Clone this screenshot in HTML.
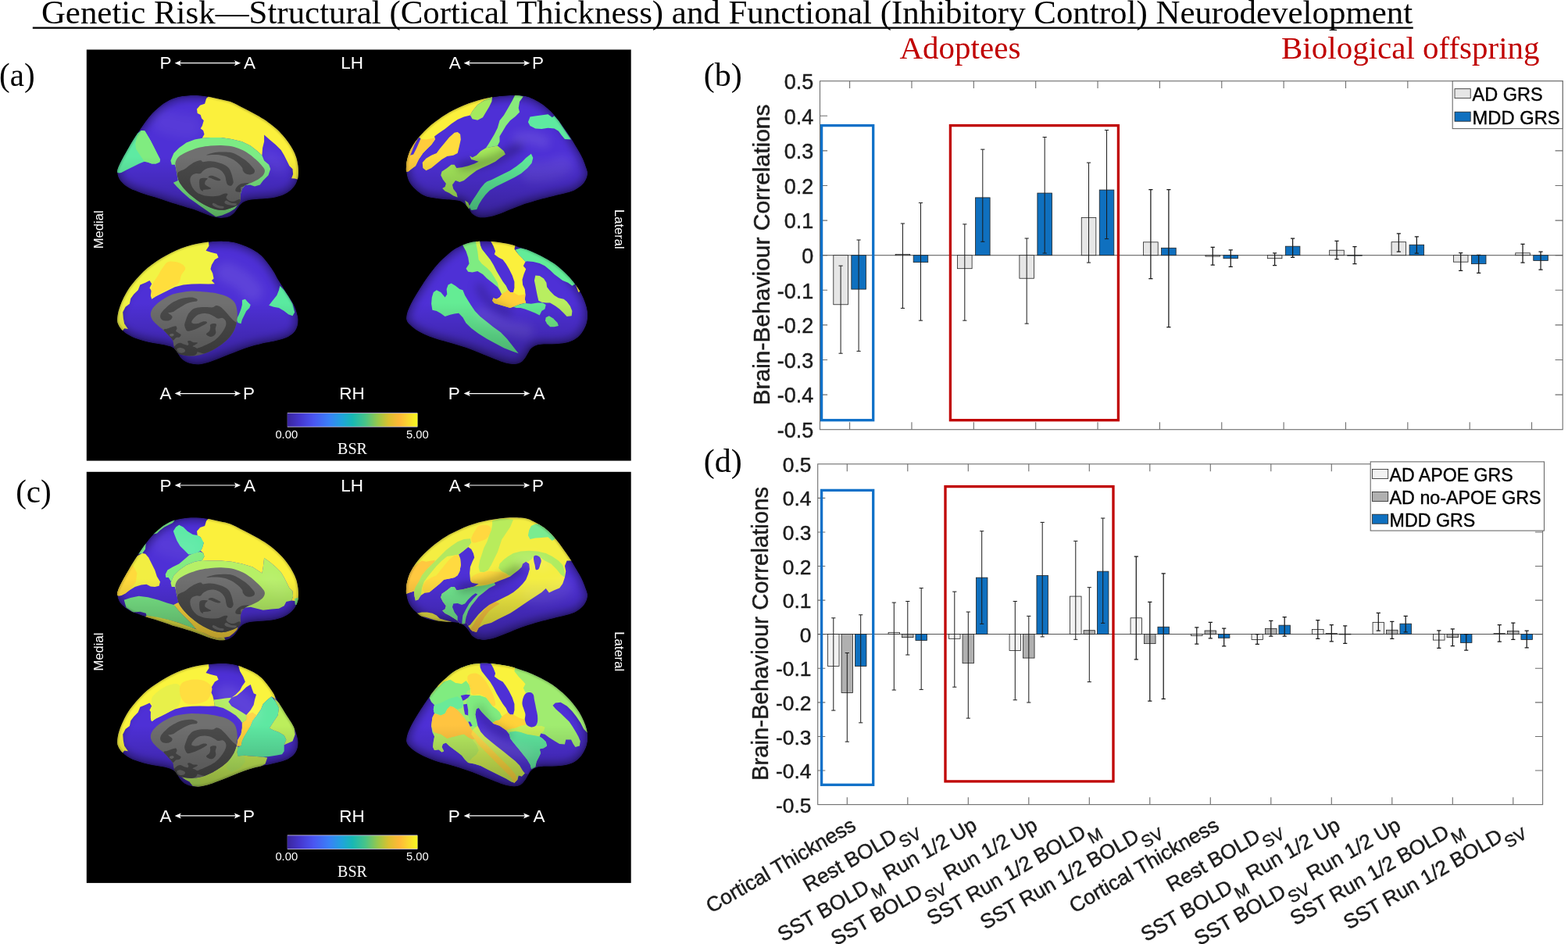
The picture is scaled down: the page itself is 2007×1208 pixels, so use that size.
<!DOCTYPE html>
<html lang="en"><head><meta charset="utf-8"><title>Genetic Risk - Structural and Functional Neurodevelopment</title>
<style>html,body{margin:0;padding:0;background:#fff;overflow:hidden}svg{display:block}text{white-space:pre}</style></head><body>
<svg width="2007" height="1208" viewBox="0 0 2007 1208">
<rect width="2007" height="1208" fill="#fff"/>
<g font-family="'Liberation Serif', 'Times New Roman', serif" fill="#000">
<text x="52.9" y="29.9" font-size="43" textLength="1755.3" lengthAdjust="spacingAndGlyphs">Genetic Risk—Structural (Cortical Thickness) and Functional (Inhibitory Control) Neurodevelopment</text>
<rect x="41.8" y="34.5" width="1767" height="2.3"/>
<text x="-0.9" y="109.9" font-size="43" textLength="45.6" lengthAdjust="spacingAndGlyphs">(a)</text>
<text x="20.2" y="642.9" font-size="43" textLength="45.6" lengthAdjust="spacingAndGlyphs">(c)</text>
<text x="900.7" y="110.1" font-size="43" textLength="49" lengthAdjust="spacingAndGlyphs">(b)</text>
<text x="900.7" y="603.9" font-size="43" textLength="49" lengthAdjust="spacingAndGlyphs">(d)</text>
<text x="1151.5" y="75.3" font-size="41" fill="#C00000">Adoptees</text>
<text x="1640" y="75.3" font-size="41" fill="#C00000">Biological offspring</text>
</g>
<defs>
<linearGradient id="par" x1="0" x2="1" y1="0" y2="0"><stop offset="0" stop-color="#3A269E"/><stop offset="0.1" stop-color="#4538D0"/><stop offset="0.2" stop-color="#4A55F2"/><stop offset="0.32" stop-color="#3A80F8"/><stop offset="0.42" stop-color="#20A4DC"/><stop offset="0.5" stop-color="#18B8B4"/><stop offset="0.6" stop-color="#48C488"/><stop offset="0.7" stop-color="#9CC848"/><stop offset="0.78" stop-color="#DCC030"/><stop offset="0.86" stop-color="#FFB838"/><stop offset="0.93" stop-color="#FAD830"/><stop offset="1" stop-color="#F8F820"/></linearGradient>
<linearGradient id="shd" x1="0" x2="0" y1="0" y2="1"><stop offset="0" stop-color="#000" stop-opacity="0"/><stop offset="0.5" stop-color="#000" stop-opacity="0"/><stop offset="1" stop-color="#000" stop-opacity="0.3"/></linearGradient>
<filter id="blr" x="-20%" y="-20%" width="140%" height="140%"><feGaussianBlur stdDeviation="3"/></filter>
<filter id="blr2" x="-100%" y="-100%" width="300%" height="300%"><feGaussianBlur stdDeviation="6"/></filter>
</defs>
<g transform="translate(0 0)">
<rect x="110.8" y="63.5" width="696.9" height="526.1" fill="#000"/>
<g font-family="'Liberation Sans', Arial, Helvetica, sans-serif" font-size="22.5" fill="#fff">
<text x="204.6" y="88.3">P</text>
<text x="312" y="88.3">A</text>
<text x="450.6" y="88.3" text-anchor="middle">LH</text>
<text x="574.8" y="88.3">A</text>
<text x="681" y="88.3">P</text>
<text x="204.6" y="511.4">A</text>
<text x="311" y="511.4">P</text>
<text x="450.4" y="511.4" text-anchor="middle">RH</text>
<text x="573.8" y="511.4">P</text>
<text x="682.4" y="511.4">A</text>
</g>
<path d="M227.6 80.7H304.1" stroke="#fff" stroke-width="1.2" fill="none"/>
<path d="M223.6 80.7l8.2 -3.5l-1.8 3.5l1.8 3.5zM308.1 80.7l-8.2 -3.5l1.8 3.5l-1.8 3.5z" fill="#fff"/>
<path d="M597.6 80.7H674.3" stroke="#fff" stroke-width="1.2" fill="none"/>
<path d="M593.6 80.7l8.2 -3.5l-1.8 3.5l1.8 3.5zM678.3 80.7l-8.2 -3.5l1.8 3.5l-1.8 3.5z" fill="#fff"/>
<path d="M227.6 503.6H304.1" stroke="#fff" stroke-width="1.2" fill="none"/>
<path d="M223.6 503.6l8.2 -3.5l-1.8 3.5l1.8 3.5zM308.1 503.6l-8.2 -3.5l1.8 3.5l-1.8 3.5z" fill="#fff"/>
<path d="M597.6 503.6H674.3" stroke="#fff" stroke-width="1.2" fill="none"/>
<path d="M593.6 503.6l8.2 -3.5l-1.8 3.5l1.8 3.5zM678.3 503.6l-8.2 -3.5l1.8 3.5l-1.8 3.5z" fill="#fff"/>
<text transform="translate(131.7 293.8) rotate(-90)" font-family="'Liberation Sans', Arial, Helvetica, sans-serif" font-size="16.6" fill="#fff" text-anchor="middle">Medial</text>
<text transform="translate(786.6 293.4) rotate(90)" font-family="'Liberation Sans', Arial, Helvetica, sans-serif" font-size="16.6" fill="#fff" text-anchor="middle">Lateral</text>
<rect x="367.8" y="528.2" width="166.6" height="18.4" fill="#cfc8f0"/>
<rect x="367.8" y="529" width="166.6" height="16.8" fill="url(#par)"/>
<g font-family="'Liberation Sans', Arial, Helvetica, sans-serif" font-size="14.8" fill="#fff" text-anchor="middle">
<text x="366.8" y="561.2">0.00</text><text x="534.4" y="561.2">5.00</text></g>
<text x="451" y="581.4" font-family="'Liberation Serif', 'Times New Roman', serif" font-size="20" fill="#fff" text-anchor="middle">BSR</text>
</g>
<g transform="translate(0 540.3)">
<rect x="110.8" y="63.5" width="696.9" height="526.1" fill="#000"/>
<g font-family="'Liberation Sans', Arial, Helvetica, sans-serif" font-size="22.5" fill="#fff">
<text x="204.6" y="88.3">P</text>
<text x="312" y="88.3">A</text>
<text x="450.6" y="88.3" text-anchor="middle">LH</text>
<text x="574.8" y="88.3">A</text>
<text x="681" y="88.3">P</text>
<text x="204.6" y="511.4">A</text>
<text x="311" y="511.4">P</text>
<text x="450.4" y="511.4" text-anchor="middle">RH</text>
<text x="573.8" y="511.4">P</text>
<text x="682.4" y="511.4">A</text>
</g>
<path d="M227.6 80.7H304.1" stroke="#fff" stroke-width="1.2" fill="none"/>
<path d="M223.6 80.7l8.2 -3.5l-1.8 3.5l1.8 3.5zM308.1 80.7l-8.2 -3.5l1.8 3.5l-1.8 3.5z" fill="#fff"/>
<path d="M597.6 80.7H674.3" stroke="#fff" stroke-width="1.2" fill="none"/>
<path d="M593.6 80.7l8.2 -3.5l-1.8 3.5l1.8 3.5zM678.3 80.7l-8.2 -3.5l1.8 3.5l-1.8 3.5z" fill="#fff"/>
<path d="M227.6 503.6H304.1" stroke="#fff" stroke-width="1.2" fill="none"/>
<path d="M223.6 503.6l8.2 -3.5l-1.8 3.5l1.8 3.5zM308.1 503.6l-8.2 -3.5l1.8 3.5l-1.8 3.5z" fill="#fff"/>
<path d="M597.6 503.6H674.3" stroke="#fff" stroke-width="1.2" fill="none"/>
<path d="M593.6 503.6l8.2 -3.5l-1.8 3.5l1.8 3.5zM678.3 503.6l-8.2 -3.5l1.8 3.5l-1.8 3.5z" fill="#fff"/>
<text transform="translate(131.7 293.8) rotate(-90)" font-family="'Liberation Sans', Arial, Helvetica, sans-serif" font-size="16.6" fill="#fff" text-anchor="middle">Medial</text>
<text transform="translate(786.6 293.4) rotate(90)" font-family="'Liberation Sans', Arial, Helvetica, sans-serif" font-size="16.6" fill="#fff" text-anchor="middle">Lateral</text>
<rect x="367.8" y="528.2" width="166.6" height="18.4" fill="#cfc8f0"/>
<rect x="367.8" y="529" width="166.6" height="16.8" fill="url(#par)"/>
<g font-family="'Liberation Sans', Arial, Helvetica, sans-serif" font-size="14.8" fill="#fff" text-anchor="middle">
<text x="366.8" y="561.2">0.00</text><text x="534.4" y="561.2">5.00</text></g>
<text x="451" y="581.4" font-family="'Liberation Serif', 'Times New Roman', serif" font-size="20" fill="#fff" text-anchor="middle">BSR</text>
</g>
<clipPath id="c1"><path d="M150.1 220.9C149.8 218.6 150.4 217.4 151.1 215.1C151.9 212.9 152.9 210.6 154.5 207.5C156.1 204.3 158.2 200.5 160.6 196.3C162.9 192.1 165.9 186.9 168.6 182.3C171.4 177.7 174.2 173.1 177 168.9C179.8 164.6 182.7 160.5 185.4 156.7C188.2 153 190.9 149.4 193.7 146.3C196.5 143.1 199.3 140.5 202.3 137.9C205.3 135.4 208.3 132.9 211.7 130.9C215 128.9 218.9 127.1 222.4 125.8C226 124.5 229.6 123.7 233.2 123.1C236.8 122.5 240.2 122.2 244 122C247.8 121.9 252 122 256.1 122.3C260.1 122.6 263.9 123.2 268.2 123.9C272.4 124.7 277.2 125.8 281.6 126.9C286.1 127.9 290.4 128.5 294.8 130.1C299.2 131.7 303.8 134.5 308 136.6C312.2 138.7 315.9 140.5 319.8 142.6C323.8 144.7 327.8 146.7 331.8 149.1C335.8 151.5 340.3 154.4 343.8 156.9C347.3 159.4 349.8 161.5 352.8 164.1C355.8 166.8 359.1 170 361.8 173C364.5 176 366.8 178.9 368.9 182C371.1 185.1 373.2 188.4 374.9 191.6C376.6 194.8 378.1 198 379.2 201.4C380.3 204.8 381 208.9 381.5 212.2C381.9 215.4 382.1 218 382 220.9C381.9 223.8 381.7 226.6 380.9 229.4C380.2 232.1 379 235 377.4 237.5C375.8 239.9 373.6 242.2 371.2 244.2C368.8 246.1 366.1 247.8 363 249.2C360 250.5 356.4 251.6 352.9 252.4C349.5 253.2 345.8 253.5 342.2 253.9C338.6 254.3 335 254.4 331.4 254.7C327.8 255 323.8 255.2 320.7 255.8C317.5 256.3 314.7 257.1 312.6 258.2C310.4 259.2 309.1 260.5 307.7 261.9C306.3 263.4 305.5 264.8 304.1 266.7C302.7 268.5 301.3 271.2 299.4 273C297.5 274.8 295.2 276.5 292.5 277.6C289.9 278.6 286.5 279 283.5 279C280.5 279.1 277.5 278.4 274.5 277.7C271.5 277 268.6 275.9 265.6 274.9C262.6 273.8 259.6 272.5 256.6 271.4C253.6 270.2 250.6 269.1 247.6 268.1C244.6 267.1 241.7 266.3 238.7 265.4C235.7 264.5 232.7 263.7 229.7 262.8C226.7 261.9 223.7 261 220.7 260.1C217.7 259.1 214.8 258 211.8 257C208.8 255.9 205.8 254.8 202.8 253.9C199.8 252.9 196.8 252.1 193.8 251.2C190.8 250.3 187.9 249.5 184.9 248.5C181.9 247.5 178.9 246.4 175.9 245.3C172.9 244.1 169.9 243.3 166.9 241.6C163.9 240 160.4 237.5 158 235.4C155.6 233.4 153.9 231.5 152.6 229.1C151.3 226.7 150.3 223.2 150.1 220.9Z"/></clipPath>
<g clip-path="url(#c1)">
<path d="M150.1 220.9C149.8 218.6 150.4 217.4 151.1 215.1C151.9 212.9 152.9 210.6 154.5 207.5C156.1 204.3 158.2 200.5 160.6 196.3C162.9 192.1 165.9 186.9 168.6 182.3C171.4 177.7 174.2 173.1 177 168.9C179.8 164.6 182.7 160.5 185.4 156.7C188.2 153 190.9 149.4 193.7 146.3C196.5 143.1 199.3 140.5 202.3 137.9C205.3 135.4 208.3 132.9 211.7 130.9C215 128.9 218.9 127.1 222.4 125.8C226 124.5 229.6 123.7 233.2 123.1C236.8 122.5 240.2 122.2 244 122C247.8 121.9 252 122 256.1 122.3C260.1 122.6 263.9 123.2 268.2 123.9C272.4 124.7 277.2 125.8 281.6 126.9C286.1 127.9 290.4 128.5 294.8 130.1C299.2 131.7 303.8 134.5 308 136.6C312.2 138.7 315.9 140.5 319.8 142.6C323.8 144.7 327.8 146.7 331.8 149.1C335.8 151.5 340.3 154.4 343.8 156.9C347.3 159.4 349.8 161.5 352.8 164.1C355.8 166.8 359.1 170 361.8 173C364.5 176 366.8 178.9 368.9 182C371.1 185.1 373.2 188.4 374.9 191.6C376.6 194.8 378.1 198 379.2 201.4C380.3 204.8 381 208.9 381.5 212.2C381.9 215.4 382.1 218 382 220.9C381.9 223.8 381.7 226.6 380.9 229.4C380.2 232.1 379 235 377.4 237.5C375.8 239.9 373.6 242.2 371.2 244.2C368.8 246.1 366.1 247.8 363 249.2C360 250.5 356.4 251.6 352.9 252.4C349.5 253.2 345.8 253.5 342.2 253.9C338.6 254.3 335 254.4 331.4 254.7C327.8 255 323.8 255.2 320.7 255.8C317.5 256.3 314.7 257.1 312.6 258.2C310.4 259.2 309.1 260.5 307.7 261.9C306.3 263.4 305.5 264.8 304.1 266.7C302.7 268.5 301.3 271.2 299.4 273C297.5 274.8 295.2 276.5 292.5 277.6C289.9 278.6 286.5 279 283.5 279C280.5 279.1 277.5 278.4 274.5 277.7C271.5 277 268.6 275.9 265.6 274.9C262.6 273.8 259.6 272.5 256.6 271.4C253.6 270.2 250.6 269.1 247.6 268.1C244.6 267.1 241.7 266.3 238.7 265.4C235.7 264.5 232.7 263.7 229.7 262.8C226.7 261.9 223.7 261 220.7 260.1C217.7 259.1 214.8 258 211.8 257C208.8 255.9 205.8 254.8 202.8 253.9C199.8 252.9 196.8 252.1 193.8 251.2C190.8 250.3 187.9 249.5 184.9 248.5C181.9 247.5 178.9 246.4 175.9 245.3C172.9 244.1 169.9 243.3 166.9 241.6C163.9 240 160.4 237.5 158 235.4C155.6 233.4 153.9 231.5 152.6 229.1C151.3 226.7 150.3 223.2 150.1 220.9Z" fill="#4E30D6"/>
<path d="M150.1 220.9C149.8 218.6 150.4 217.4 151.1 215.1C151.9 212.9 152.9 210.6 154.5 207.5C156.1 204.3 158.2 200.5 160.6 196.3C162.9 192.1 165.9 186.9 168.6 182.3C171.4 177.7 174.2 173.1 177 168.9C179.8 164.6 182.7 160.5 185.4 156.7C188.2 153 190.9 149.4 193.7 146.3C196.5 143.1 199.3 140.5 202.3 137.9C205.3 135.4 208.3 132.9 211.7 130.9C215 128.9 218.9 127.1 222.4 125.8C226 124.5 229.6 123.7 233.2 123.1C236.8 122.5 240.2 122.2 244 122C247.8 121.9 252 122 256.1 122.3C260.1 122.6 263.9 123.2 268.2 123.9C272.4 124.7 277.2 125.8 281.6 126.9C286.1 127.9 290.4 128.5 294.8 130.1C299.2 131.7 303.8 134.5 308 136.6C312.2 138.7 315.9 140.5 319.8 142.6C323.8 144.7 327.8 146.7 331.8 149.1C335.8 151.5 340.3 154.4 343.8 156.9C347.3 159.4 349.8 161.5 352.8 164.1C355.8 166.8 359.1 170 361.8 173C364.5 176 366.8 178.9 368.9 182C371.1 185.1 373.2 188.4 374.9 191.6C376.6 194.8 378.1 198 379.2 201.4C380.3 204.8 381 208.9 381.5 212.2C381.9 215.4 382.1 218 382 220.9C381.9 223.8 381.7 226.6 380.9 229.4C380.2 232.1 379 235 377.4 237.5C375.8 239.9 373.6 242.2 371.2 244.2C368.8 246.1 366.1 247.8 363 249.2C360 250.5 356.4 251.6 352.9 252.4C349.5 253.2 345.8 253.5 342.2 253.9C338.6 254.3 335 254.4 331.4 254.7C327.8 255 323.8 255.2 320.7 255.8C317.5 256.3 314.7 257.1 312.6 258.2C310.4 259.2 309.1 260.5 307.7 261.9C306.3 263.4 305.5 264.8 304.1 266.7C302.7 268.5 301.3 271.2 299.4 273C297.5 274.8 295.2 276.5 292.5 277.6C289.9 278.6 286.5 279 283.5 279C280.5 279.1 277.5 278.4 274.5 277.7C271.5 277 268.6 275.9 265.6 274.9C262.6 273.8 259.6 272.5 256.6 271.4C253.6 270.2 250.6 269.1 247.6 268.1C244.6 267.1 241.7 266.3 238.7 265.4C235.7 264.5 232.7 263.7 229.7 262.8C226.7 261.9 223.7 261 220.7 260.1C217.7 259.1 214.8 258 211.8 257C208.8 255.9 205.8 254.8 202.8 253.9C199.8 252.9 196.8 252.1 193.8 251.2C190.8 250.3 187.9 249.5 184.9 248.5C181.9 247.5 178.9 246.4 175.9 245.3C172.9 244.1 169.9 243.3 166.9 241.6C163.9 240 160.4 237.5 158 235.4C155.6 233.4 153.9 231.5 152.6 229.1C151.3 226.7 150.3 223.2 150.1 220.9Z" fill="none" stroke="#000" stroke-opacity="0.3" stroke-width="12" style="filter:blur(4px)"/>
<clipPath id="g1"><path d="M224.5 208.1C224.9 205.9 226.1 203.3 227.8 201.4C229.5 199.5 231.6 198.3 234.6 196.7C237.5 195.1 241.7 193.3 245.3 192C248.9 190.6 252 189.5 256.1 188.6C260.1 187.7 265 187.1 269.5 186.6C274 186.2 278.5 185.8 283 185.9C287.5 186 292.2 186.4 296.4 187.3C300.7 188.2 304.7 189.6 308.5 191.3C312.4 193 316.2 195.2 319.3 197.4C322.4 199.5 324.9 201.9 327.4 204.1C329.8 206.3 332.2 208.6 334.1 210.8C336 213.1 338.4 215.3 338.8 217.6C339.3 219.8 338.3 222.3 336.8 224.3C335.3 226.3 332.5 228.1 330.1 229.7C327.6 231.2 324.7 232.5 322 233.7C319.3 234.9 315.9 235.7 313.9 237.1C311.9 238.4 310.9 239.9 309.9 241.8C308.9 243.7 308.2 246 307.9 248.5C307.5 251 308.4 254.3 307.9 256.6C307.3 258.8 306.4 260.4 304.5 261.9C302.6 263.5 299.3 264.9 296.4 266C293.5 267.1 290.4 268.3 287 268.7C283.7 269 279.8 268.8 276.3 268C272.7 267.2 269.1 265.6 265.5 264C261.9 262.3 258.3 260.3 254.7 257.9C251.1 255.6 247.1 252.5 244 249.8C240.8 247.1 238.4 244.7 235.9 241.8C233.4 238.9 230.7 235.5 229.2 232.3C227.6 229.2 227.2 225.8 226.5 222.9C225.8 220 225.5 217.3 225.1 214.9C224.8 212.4 224 210.4 224.5 208.1Z"/></clipPath>
<path d="M269.5 120.7L264.1 126.1L262.1 132.8L256.1 134.8L252 139.5L252.7 144.9L256.7 146.9L258.1 151.6L260.8 154.3L258.8 161L256.7 164.4L260.1 167.1L261.5 171.8L258.8 176.8L269.5 176.1L283 176.1L296.4 177.9L309.9 181.2L320.7 186.6L328.7 192.7L335.4 198.7L336.1 189.3L338.1 181.2L338.1 172.5L344.9 178.5L352.9 185.3L359.7 192L363.7 198.7L367.7 206.8L370.4 212.2L374.5 216.2L375.1 222.9L373.1 228.3L377.2 228.6L383.9 230.3L386.6 212.2L377.2 185.3L350.2 158.4L309.9 131.5Z" fill="#FBF03C"/>
<path d="M218.4 205.4L222.4 196L229.2 189.3L238.6 182.6L249.3 178.5L258.8 176.8L269.5 176.1L283 176.1L296.4 177.9L309.9 181.2L320.7 186.6L328.7 192.7L335.4 198.7L338.1 205.4L344.2 210.8L346.2 216.2L343.5 224.3L336.8 231L332.8 236.4L326 238.4L320 236.4L313.9 237.1L309.9 241.8L307.9 248.5L307.9 256.6L304.5 261.9L303.2 264L300.5 267.3L293.7 271.4L284.3 275.4L276.3 277.4L269.5 272.7L261.5 267.3L252 260.6L242.6 253.9L233.2 245.8L226.5 239.1L221.8 233.7L227.8 231L226.5 222.9L225.1 214.9L223.8 210.8L219.8 210.8Z" fill="#7CEC84"/>
<path d="M224.5 208.1C224.9 205.9 226.1 203.3 227.8 201.4C229.5 199.5 231.6 198.3 234.6 196.7C237.5 195.1 241.7 193.3 245.3 192C248.9 190.6 252 189.5 256.1 188.6C260.1 187.7 265 187.1 269.5 186.6C274 186.2 278.5 185.8 283 185.9C287.5 186 292.2 186.4 296.4 187.3C300.7 188.2 304.7 189.6 308.5 191.3C312.4 193 316.2 195.2 319.3 197.4C322.4 199.5 324.9 201.9 327.4 204.1C329.8 206.3 332.2 208.6 334.1 210.8C336 213.1 338.4 215.3 338.8 217.6C339.3 219.8 338.3 222.3 336.8 224.3C335.3 226.3 332.5 228.1 330.1 229.7C327.6 231.2 324.7 232.5 322 233.7C319.3 234.9 315.9 235.7 313.9 237.1C311.9 238.4 310.9 239.9 309.9 241.8C308.9 243.7 308.2 246 307.9 248.5C307.5 251 308.4 254.3 307.9 256.6C307.3 258.8 306.4 260.4 304.5 261.9C302.6 263.5 299.3 264.9 296.4 266C293.5 267.1 290.4 268.3 287 268.7C283.7 269 279.8 268.8 276.3 268C272.7 267.2 269.1 265.6 265.5 264C261.9 262.3 258.3 260.3 254.7 257.9C251.1 255.6 247.1 252.5 244 249.8C240.8 247.1 238.4 244.7 235.9 241.8C233.4 238.9 230.7 235.5 229.2 232.3C227.6 229.2 227.2 225.8 226.5 222.9C225.8 220 225.5 217.3 225.1 214.9C224.8 212.4 224 210.4 224.5 208.1Z" fill="#707070"/>
<path d="M264.2 198.5C264.2 198 270.2 196.2 273.3 195.6C276.4 194.9 279.2 194.6 283 194.6C286.8 194.5 292.2 194.4 296 195.2C299.8 196 302.5 197.7 305.7 199.4C308.9 201.2 312.7 203.8 315.4 205.9C318.1 208.1 320.2 210.4 321.9 212.4C323.6 214.3 325.2 216.1 325.8 217.6C326.3 219.1 326.1 220.5 325.1 221.5C324.1 222.4 321.8 223.3 319.9 223.4C318.1 223.5 315.6 223 314.1 222.1C312.6 221.2 311.5 219.4 310.9 218.2C310.2 217 311.1 216.4 310.2 215C309.4 213.6 307.5 211.5 305.7 209.8C303.9 208.1 301.4 206 299.2 204.6C297.1 203.2 295.4 202.4 292.7 201.4C290 200.4 286.3 199.3 283 198.8C279.8 198.2 276.4 198.2 273.3 198.1C270.2 198.1 264.2 198.9 264.2 198.5Z" fill="#4B4B4B" clip-path="url(#g1)"/>
<path d="M227.3 221.5C228.6 218.9 233.6 218.1 236.4 216.3C239.2 214.4 241.7 212.1 244.2 210.4C246.6 208.8 249.1 207.4 251.3 206.6C253.4 205.7 255.7 205.2 257.1 205.3C258.5 205.4 258.1 207 259.7 207.2C261.3 207.4 264 206.2 266.8 206.2C269.6 206.2 273.3 206.5 276.5 207.2C279.8 207.9 283.6 209.2 286.3 210.4C289 211.7 291.1 213.1 292.7 215C294.4 216.8 295.1 219.2 296 221.5C296.8 223.7 297.5 226.5 297.9 228.6C298.3 230.6 298.9 232.3 298.6 233.8C298.2 235.3 297.2 237.2 296 237.7C294.8 238.1 292.5 237.3 291.4 236.4C290.4 235.4 290 233.7 289.5 231.8C289 230 289 227.3 288.2 225.4C287.4 223.4 286.4 221.7 285 220.2C283.6 218.6 281.7 217.2 279.8 216.3C277.8 215.3 275.5 214.6 273.3 214.3C271.1 214.1 269 214.3 266.8 215C264.7 215.6 262.1 217 260.4 218.2C258.6 219.4 258 221.5 256.5 222.1C255 222.8 253 221.8 251.3 222.1C249.5 222.4 247.4 223 246.1 224C244.8 225.1 243.8 226.7 243.5 228.6C243.2 230.4 243.5 232.9 244.2 235.1C244.8 237.2 246 239.6 247.4 241.5C248.8 243.5 250.4 245.3 252.6 246.7C254.7 248.1 257.4 249.2 260.4 250C263.3 250.7 266.8 251.1 270.1 251.3C273.3 251.4 277.1 251.1 279.8 250.6C282.5 250.1 284.6 248.6 286.3 248C287.9 247.5 288.6 247.3 289.5 247.4C290.4 247.5 291.4 247.8 291.4 248.7C291.4 249.5 289.3 251.3 289.5 252.6C289.7 253.9 291.1 255.6 292.7 256.4C294.4 257.3 296.8 258 299.2 257.7C301.6 257.5 305.5 254.1 307 255.1C308.5 256.2 309.6 261.4 308.3 264.2C307 267 304 270.9 299.2 272C294.5 273.1 285.2 271.7 279.8 270.7C274.4 269.7 271.7 268.3 266.8 266.2C262 264 254.4 260.5 250.6 258C246.8 255.5 246.3 253.5 244.2 251.3C242 249 239.7 246.9 237.7 244.8C235.6 242.6 233.4 240.5 231.8 238.3C230.3 236.1 229.4 234.6 228.6 231.8C227.8 229 226 224.1 227.3 221.5Z" fill="#4B4B4B" clip-path="url(#g1)"/>
<path d="M256.5 228.6C258.2 227.3 264.5 227.7 265.5 228.3C266.6 228.8 263.5 230.6 262.9 231.8C262.4 233.1 261.9 234.6 262.3 235.7C262.7 236.8 264.2 237.4 265.5 238.3C266.8 239.2 269.9 240.2 270.1 240.9C270.3 241.5 268.4 241.9 266.8 242.2C265.2 242.5 261.5 242.4 260.4 242.8C259.2 243.3 260.3 244.9 259.7 244.8C259 244.7 257.2 243.7 256.5 242.2C255.7 240.7 255.2 238 255.2 235.7C255.2 233.4 254.7 229.8 256.5 228.6Z" fill="#4B4B4B" clip-path="url(#g1)"/>
<path d="M267.5 225.4C268.2 224.9 269.8 224.5 271.4 224.7C272.9 224.9 274.7 225.8 276.5 226.6C278.4 227.5 281.8 229.1 282.4 229.9C282.9 230.6 281.1 231.2 279.8 231.2C278.5 231.2 276.2 230.4 274.6 229.9C273 229.3 271.4 228.4 270.1 227.9C268.8 227.5 267.3 227.7 266.8 227.3C266.4 226.9 266.7 225.8 267.5 225.4Z" fill="#4B4B4B" clip-path="url(#g1)"/>
<path d="M308.9 235.1C311.6 234.1 317.5 233.9 318.6 234.4C319.8 235 317.8 237.4 316 238.3C314.3 239.2 309.6 238.4 308.3 239.6C307 240.8 309.4 244.6 308.3 245.4C307.2 246.3 302.8 245.6 301.8 244.8C300.8 243.9 301.3 241.9 302.4 240.2C303.6 238.6 306.2 236 308.9 235.1Z" fill="#4B4B4B" clip-path="url(#g1)"/>
<path d="M289.5 256.4C290.9 256.4 293.8 259 296 259.7C298.1 260.3 301.6 259.8 302.4 260.3C303.3 260.9 302.8 262.6 301.2 262.9C299.5 263.2 295 262.8 292.7 262.3C290.5 261.7 288.1 260.6 287.6 259.7C287 258.7 288.1 256.4 289.5 256.4Z" fill="#707070" clip-path="url(#g1)"/>
<path d="M273.3 259.7C274.6 259.8 277.6 262.2 279.8 262.9C281.9 263.7 285.4 263.6 286.3 264.2C287.1 264.9 286.5 266.6 285 266.8C283.4 267 279.3 266.3 277.2 265.5C275 264.8 272.7 263.2 272 262.3C271.4 261.3 272 259.6 273.3 259.7Z" fill="#707070" clip-path="url(#g1)"/>
<path d="M180.7 167.1L185.4 167.5L188.8 173.2L192.8 179.9L196.9 188L200.9 196L205 204.1L204.3 207.5L199.6 209.5L194.2 209.5L188.8 207.5L184.8 206.8L178 209.5L170 213.5L161.9 217.6L155.2 220.9L152.5 221.6L147.8 220.2L149.1 214.2L153.8 206.1L160.6 194.7L168.6 180.6L175.4 171.1Z" fill="#5EEAA2"/>
<path d="M180.7 167.1L185.4 167.5L188.8 173.2L192.8 179.9L196.9 188L200.9 196L205 204.1L204.3 207.5L199.6 209.5L194.2 209.5L188.8 207.5L184.8 206.8L179.4 198.7L174 190.6L173.3 183.9L175.4 174.5Z" fill="#80EC80"/>
<path d="M210.3 155.7C213.5 156.6 223.8 159.9 229.2 161C234.6 162.2 240.4 162.2 242.6 162.4" fill="none" stroke="#fff" stroke-opacity="0.05" stroke-width="30" stroke-linecap="round" style="filter:blur(6px)"/>
<path d="M344.9 201.4C346.9 203.2 355 210.4 357 212.2" fill="none" stroke="#fff" stroke-opacity="0.06" stroke-width="20" stroke-linecap="round" style="filter:blur(6px)"/>
<rect x="148.1" y="120" width="235.9" height="161" fill="url(#shd)"/>
<path d="M150.1 220.9C149.8 218.6 150.4 217.4 151.1 215.1C151.9 212.9 152.9 210.6 154.5 207.5C156.1 204.3 158.2 200.5 160.6 196.3C162.9 192.1 165.9 186.9 168.6 182.3C171.4 177.7 174.2 173.1 177 168.9C179.8 164.6 182.7 160.5 185.4 156.7C188.2 153 190.9 149.4 193.7 146.3C196.5 143.1 199.3 140.5 202.3 137.9C205.3 135.4 208.3 132.9 211.7 130.9C215 128.9 218.9 127.1 222.4 125.8C226 124.5 229.6 123.7 233.2 123.1C236.8 122.5 240.2 122.2 244 122C247.8 121.9 252 122 256.1 122.3C260.1 122.6 263.9 123.2 268.2 123.9C272.4 124.7 277.2 125.8 281.6 126.9C286.1 127.9 290.4 128.5 294.8 130.1C299.2 131.7 303.8 134.5 308 136.6C312.2 138.7 315.9 140.5 319.8 142.6C323.8 144.7 327.8 146.7 331.8 149.1C335.8 151.5 340.3 154.4 343.8 156.9C347.3 159.4 349.8 161.5 352.8 164.1C355.8 166.8 359.1 170 361.8 173C364.5 176 366.8 178.9 368.9 182C371.1 185.1 373.2 188.4 374.9 191.6C376.6 194.8 378.1 198 379.2 201.4C380.3 204.8 381 208.9 381.5 212.2C381.9 215.4 382.1 218 382 220.9C381.9 223.8 381.7 226.6 380.9 229.4C380.2 232.1 379 235 377.4 237.5C375.8 239.9 373.6 242.2 371.2 244.2C368.8 246.1 366.1 247.8 363 249.2C360 250.5 356.4 251.6 352.9 252.4C349.5 253.2 345.8 253.5 342.2 253.9C338.6 254.3 335 254.4 331.4 254.7C327.8 255 323.8 255.2 320.7 255.8C317.5 256.3 314.7 257.1 312.6 258.2C310.4 259.2 309.1 260.5 307.7 261.9C306.3 263.4 305.5 264.8 304.1 266.7C302.7 268.5 301.3 271.2 299.4 273C297.5 274.8 295.2 276.5 292.5 277.6C289.9 278.6 286.5 279 283.5 279C280.5 279.1 277.5 278.4 274.5 277.7C271.5 277 268.6 275.9 265.6 274.9C262.6 273.8 259.6 272.5 256.6 271.4C253.6 270.2 250.6 269.1 247.6 268.1C244.6 267.1 241.7 266.3 238.7 265.4C235.7 264.5 232.7 263.7 229.7 262.8C226.7 261.9 223.7 261 220.7 260.1C217.7 259.1 214.8 258 211.8 257C208.8 255.9 205.8 254.8 202.8 253.9C199.8 252.9 196.8 252.1 193.8 251.2C190.8 250.3 187.9 249.5 184.9 248.5C181.9 247.5 178.9 246.4 175.9 245.3C172.9 244.1 169.9 243.3 166.9 241.6C163.9 240 160.4 237.5 158 235.4C155.6 233.4 153.9 231.5 152.6 229.1C151.3 226.7 150.3 223.2 150.1 220.9Z" fill="none" stroke="#000" stroke-opacity="0.22" stroke-width="3" style="filter:blur(1.2px)"/>
</g>
<clipPath id="c2"><path d="M520.1 219.8C519.7 216.9 519.9 214.6 520.1 212.2C520.2 209.8 520.2 208.2 520.9 205.4C521.5 202.6 522.6 198.5 523.8 195.4C525.1 192.2 526.5 189.5 528.3 186.5C530.1 183.5 532.2 180.5 534.6 177.5C537 174.5 539.8 171.3 542.7 168.4C545.5 165.6 548.4 162.9 551.7 160.1C555 157.3 558.6 154.6 562.4 151.9C566.3 149.2 570.8 146.2 575 143.8C579.1 141.5 583.3 139.6 587.5 137.6C591.7 135.7 595.9 133.8 600.1 132.3C604.3 130.7 608.3 129.4 612.6 128.2C617 127 621.6 126 626.1 125.1C630.6 124.3 635 123.6 639.5 123.1C644 122.6 648.5 122.2 653 122C657.5 121.9 662.7 122 666.4 122.3C670.2 122.6 673 123 675.4 123.7C677.9 124.3 679.1 125.1 681.2 126.1C683.3 127.1 685.4 128 688.1 129.6C690.7 131.1 694.3 133.3 697.1 135.5C700 137.7 702.6 140.1 705.2 142.6C707.7 145.2 710.1 148 712.3 150.7C714.6 153.4 716.5 156.2 718.6 159C720.7 161.9 722.9 164.9 725 167.9C727 170.9 729.2 173.9 731.1 176.9C733.1 179.9 734.7 182.9 736.5 185.9C738.3 188.9 740.2 191.9 741.9 195C743.6 198 745.1 201 746.5 204.1C747.8 207.2 749.1 210.8 750 213.4C750.9 216 751.7 217.8 752 219.8C752.2 221.9 752.1 223.7 751.5 225.9C750.8 228.1 749.8 230.7 748.2 232.9C746.7 235.1 744.6 237.2 742.3 239.1C740 240.9 737.3 242.6 734.5 243.9C731.7 245.2 728.6 245.9 725.6 246.7C722.6 247.6 719.6 248.3 716.6 249C713.6 249.8 710.6 250.4 707.6 251.2C704.6 251.9 701.7 252.7 698.7 253.5C695.7 254.2 692.7 254.9 689.7 255.8C686.7 256.6 683.7 257.6 680.7 258.4C677.7 259.3 674.8 260.1 671.8 261.1C668.8 262.1 665.8 263.3 662.8 264.5C659.8 265.7 656.8 266.9 653.8 268.1C650.8 269.3 647.9 270.6 644.9 271.8C641.9 272.9 638.9 274.2 635.9 275.1C632.9 276.1 629.9 277 626.9 277.6C623.9 278.1 620.7 278.7 618 278.6C615.3 278.6 613 278.2 610.7 277.4C608.5 276.6 606.1 275.2 604.6 273.8C603 272.4 602.3 270.5 601.2 268.9C600.1 267.3 599.1 265.7 597.8 264.2C596.6 262.8 595.2 261.3 593.8 260.2C592.3 259.1 591 258.2 589.1 257.5C587.2 256.8 585.2 256.5 582.4 256.2C579.6 255.8 575.6 255.8 572.3 255.5C568.9 255.2 565.5 255 562.2 254.5C558.8 254.1 555.3 253.8 552.1 253.1C548.8 252.3 545.6 251.6 542.7 250.2C539.8 248.9 537.2 246.9 534.6 244.9C532 242.8 529.2 240.2 527.2 237.7C525.2 235.2 523.7 232.9 522.5 229.9C521.3 226.9 520.5 222.8 520.1 219.8Z"/></clipPath>
<g clip-path="url(#c2)">
<path d="M520.1 219.8C519.7 216.9 519.9 214.6 520.1 212.2C520.2 209.8 520.2 208.2 520.9 205.4C521.5 202.6 522.6 198.5 523.8 195.4C525.1 192.2 526.5 189.5 528.3 186.5C530.1 183.5 532.2 180.5 534.6 177.5C537 174.5 539.8 171.3 542.7 168.4C545.5 165.6 548.4 162.9 551.7 160.1C555 157.3 558.6 154.6 562.4 151.9C566.3 149.2 570.8 146.2 575 143.8C579.1 141.5 583.3 139.6 587.5 137.6C591.7 135.7 595.9 133.8 600.1 132.3C604.3 130.7 608.3 129.4 612.6 128.2C617 127 621.6 126 626.1 125.1C630.6 124.3 635 123.6 639.5 123.1C644 122.6 648.5 122.2 653 122C657.5 121.9 662.7 122 666.4 122.3C670.2 122.6 673 123 675.4 123.7C677.9 124.3 679.1 125.1 681.2 126.1C683.3 127.1 685.4 128 688.1 129.6C690.7 131.1 694.3 133.3 697.1 135.5C700 137.7 702.6 140.1 705.2 142.6C707.7 145.2 710.1 148 712.3 150.7C714.6 153.4 716.5 156.2 718.6 159C720.7 161.9 722.9 164.9 725 167.9C727 170.9 729.2 173.9 731.1 176.9C733.1 179.9 734.7 182.9 736.5 185.9C738.3 188.9 740.2 191.9 741.9 195C743.6 198 745.1 201 746.5 204.1C747.8 207.2 749.1 210.8 750 213.4C750.9 216 751.7 217.8 752 219.8C752.2 221.9 752.1 223.7 751.5 225.9C750.8 228.1 749.8 230.7 748.2 232.9C746.7 235.1 744.6 237.2 742.3 239.1C740 240.9 737.3 242.6 734.5 243.9C731.7 245.2 728.6 245.9 725.6 246.7C722.6 247.6 719.6 248.3 716.6 249C713.6 249.8 710.6 250.4 707.6 251.2C704.6 251.9 701.7 252.7 698.7 253.5C695.7 254.2 692.7 254.9 689.7 255.8C686.7 256.6 683.7 257.6 680.7 258.4C677.7 259.3 674.8 260.1 671.8 261.1C668.8 262.1 665.8 263.3 662.8 264.5C659.8 265.7 656.8 266.9 653.8 268.1C650.8 269.3 647.9 270.6 644.9 271.8C641.9 272.9 638.9 274.2 635.9 275.1C632.9 276.1 629.9 277 626.9 277.6C623.9 278.1 620.7 278.7 618 278.6C615.3 278.6 613 278.2 610.7 277.4C608.5 276.6 606.1 275.2 604.6 273.8C603 272.4 602.3 270.5 601.2 268.9C600.1 267.3 599.1 265.7 597.8 264.2C596.6 262.8 595.2 261.3 593.8 260.2C592.3 259.1 591 258.2 589.1 257.5C587.2 256.8 585.2 256.5 582.4 256.2C579.6 255.8 575.6 255.8 572.3 255.5C568.9 255.2 565.5 255 562.2 254.5C558.8 254.1 555.3 253.8 552.1 253.1C548.8 252.3 545.6 251.6 542.7 250.2C539.8 248.9 537.2 246.9 534.6 244.9C532 242.8 529.2 240.2 527.2 237.7C525.2 235.2 523.7 232.9 522.5 229.9C521.3 226.9 520.5 222.8 520.1 219.8Z" fill="#4E30D6"/>
<path d="M520.1 219.8C519.7 216.9 519.9 214.6 520.1 212.2C520.2 209.8 520.2 208.2 520.9 205.4C521.5 202.6 522.6 198.5 523.8 195.4C525.1 192.2 526.5 189.5 528.3 186.5C530.1 183.5 532.2 180.5 534.6 177.5C537 174.5 539.8 171.3 542.7 168.4C545.5 165.6 548.4 162.9 551.7 160.1C555 157.3 558.6 154.6 562.4 151.9C566.3 149.2 570.8 146.2 575 143.8C579.1 141.5 583.3 139.6 587.5 137.6C591.7 135.7 595.9 133.8 600.1 132.3C604.3 130.7 608.3 129.4 612.6 128.2C617 127 621.6 126 626.1 125.1C630.6 124.3 635 123.6 639.5 123.1C644 122.6 648.5 122.2 653 122C657.5 121.9 662.7 122 666.4 122.3C670.2 122.6 673 123 675.4 123.7C677.9 124.3 679.1 125.1 681.2 126.1C683.3 127.1 685.4 128 688.1 129.6C690.7 131.1 694.3 133.3 697.1 135.5C700 137.7 702.6 140.1 705.2 142.6C707.7 145.2 710.1 148 712.3 150.7C714.6 153.4 716.5 156.2 718.6 159C720.7 161.9 722.9 164.9 725 167.9C727 170.9 729.2 173.9 731.1 176.9C733.1 179.9 734.7 182.9 736.5 185.9C738.3 188.9 740.2 191.9 741.9 195C743.6 198 745.1 201 746.5 204.1C747.8 207.2 749.1 210.8 750 213.4C750.9 216 751.7 217.8 752 219.8C752.2 221.9 752.1 223.7 751.5 225.9C750.8 228.1 749.8 230.7 748.2 232.9C746.7 235.1 744.6 237.2 742.3 239.1C740 240.9 737.3 242.6 734.5 243.9C731.7 245.2 728.6 245.9 725.6 246.7C722.6 247.6 719.6 248.3 716.6 249C713.6 249.8 710.6 250.4 707.6 251.2C704.6 251.9 701.7 252.7 698.7 253.5C695.7 254.2 692.7 254.9 689.7 255.8C686.7 256.6 683.7 257.6 680.7 258.4C677.7 259.3 674.8 260.1 671.8 261.1C668.8 262.1 665.8 263.3 662.8 264.5C659.8 265.7 656.8 266.9 653.8 268.1C650.8 269.3 647.9 270.6 644.9 271.8C641.9 272.9 638.9 274.2 635.9 275.1C632.9 276.1 629.9 277 626.9 277.6C623.9 278.1 620.7 278.7 618 278.6C615.3 278.6 613 278.2 610.7 277.4C608.5 276.6 606.1 275.2 604.6 273.8C603 272.4 602.3 270.5 601.2 268.9C600.1 267.3 599.1 265.7 597.8 264.2C596.6 262.8 595.2 261.3 593.8 260.2C592.3 259.1 591 258.2 589.1 257.5C587.2 256.8 585.2 256.5 582.4 256.2C579.6 255.8 575.6 255.8 572.3 255.5C568.9 255.2 565.5 255 562.2 254.5C558.8 254.1 555.3 253.8 552.1 253.1C548.8 252.3 545.6 251.6 542.7 250.2C539.8 248.9 537.2 246.9 534.6 244.9C532 242.8 529.2 240.2 527.2 237.7C525.2 235.2 523.7 232.9 522.5 229.9C521.3 226.9 520.5 222.8 520.1 219.8Z" fill="none" stroke="#000" stroke-opacity="0.3" stroke-width="12" style="filter:blur(4px)"/>
<path d="M513.1 220.2L518.5 198.7L531.9 171.8L558.8 144.9L599.2 124.7L630.1 120.7L630.1 125.4L626.1 126.1L619.3 128.8L611.3 134.1L604.6 142.2L601.9 147.6L593.8 149.6L585.7 153L577.6 158.4L569.6 165.1L561.5 170.5L556.1 174.5L556.8 178.5L552.1 185.3L546.7 190.6L541.3 196L535.9 204.1L531.9 212.2L526.5 216.2L522.5 219.6Z" fill="#FBF03C"/>
<path d="M513.1 220.2L518.5 198.7L526.5 182.6L538.6 177.9L545.4 178.5L552.1 177.2L556.8 176.5L556.8 178.5L552.1 185.3L546.7 190.6L541.3 196L535.9 204.1L531.9 212.2L526.5 216.2L522.5 219.6Z" fill="#FFCC3C"/>
<path d="M538.6 177.2L533.9 188L529.2 197.4L525.2 198.7L530.6 185.3L535.9 175.8Z" fill="#4E30D6"/>
<path d="M630.1 123.4L629.4 130.1L626.1 136.8L622 143.6L618 150.3L611.3 153.7L604.6 152.3L601.9 147.6L604.6 142.2L611.3 134.1L619.3 128.8L626.1 125.4Z" fill="#A4EA5E"/>
<path d="M585.7 168.9L589.1 171.8L589.8 178.5L587.7 188L585.7 196L580.3 198.7L572.3 200.1L565.5 204.1L558.8 209.5L552.1 214.9L545.4 218.2L541.3 214.9L540.7 208.1L545.4 202.8L552.1 198.7L558.8 196L562.8 190.6L568.2 183.9L575 175.8L581.7 169.8Z" fill="#FFDC3E"/>
<path d="M659.7 120.7L669.8 123.4L665.1 130.1L663.7 138.2L665.1 143.6L659.7 148.9L653 154.3L647.6 161L643.6 167.8L639.5 174.5L639.5 181.2L636.8 186.6L622 189.3L624.7 185.3L628.8 178.5L632.8 171.8L636.8 163.7L639.5 154.3L644.9 147.6L650.3 138.2L655.7 128.8Z" fill="#88EA7C"/>
<path d="M622 189.3L615.3 193.3L609.9 198.7L604.6 201.4L601.2 199.4L603.2 204.1L612.6 206.8L607.2 209.5L599.2 212.2L591.1 214.2L584.4 214.9L581.7 210.8L577.6 210.8L572.3 214.9L565.5 219.6L564.2 224.3L566.9 229.7L570.9 235L569.6 239.1L566.2 241.1L569.6 244.5L575 247.1L580.3 250.5L585.7 252.5L584.4 247.1L580.3 241.8L579 236.4L583 231L588.4 233L593.8 231L601.9 224.3L609.9 218.2L616.7 214.9L626.1 210.8L634.1 206.8L640.9 201.4L646.9 197.4L644.9 193.3L636.8 186.6Z" fill="#A6EA5C"/>
<path d="M595.1 256.6L599.2 259.3L601.9 266L599.2 267.3L596.5 261.9Z" fill="#A6EA5C"/>
<path d="M679.9 196.7L682.3 202.1L680.6 208.8L675.2 215.1L667.1 221.9L659 226.7L651 230.7L642.9 234.8L634.8 238.8L626.7 243.8L621.4 249.2L616.9 255.2L612.9 261.7L610.2 268L603.2 268.9L600.2 264.4L604.3 257.2L609.7 249.2L615 241.1L620.4 234.4L623.4 232.3L628.8 230.3L636.8 226.3L644.9 222.3L653 218.2L661.1 212.8L667.8 207.5L673.2 202.1Z" fill="#5CEA9A"/>
<path d="M678.5 149.6L686.6 148.3L696 146.9L701.4 146.3L706.8 150.3L709.5 148.3L714.9 154.3L720.2 162.4L725.6 170.5L731 178.5L722.9 177.9L718.9 173.2L714.9 167.8L709.5 164.4L701.4 163.7L693.3 165.1L685.3 164.4L678.5 161L675.9 156.3Z" fill="#5EEAA0"/>
<path d="M591.1 212.2C594.7 211.7 605.7 210.8 612.6 209.5C619.6 208.1 626.5 206.3 632.8 204.1C639.1 201.9 645.1 198.7 650.3 196C655.4 193.3 661.5 189.3 663.7 188" fill="none" stroke="#000" stroke-opacity="0.3" stroke-width="11" stroke-linecap="round" style="filter:blur(6px)"/>
<path d="M663.7 177.2C666.4 177 674.5 175.2 679.9 175.8C685.3 176.5 693.3 180.3 696 181.2" fill="none" stroke="#fff" stroke-opacity="0.1" stroke-width="16" stroke-linecap="round" style="filter:blur(6px)"/>
<path d="M679.9 220.2C683.3 220 693.3 220.2 700.1 218.9C706.8 217.6 716.9 213.3 720.2 212.2" fill="none" stroke="#fff" stroke-opacity="0.08" stroke-width="26" stroke-linecap="round" style="filter:blur(6px)"/>
<rect x="518.1" y="120" width="235.9" height="160.6" fill="url(#shd)"/>
<path d="M520.1 219.8C519.7 216.9 519.9 214.6 520.1 212.2C520.2 209.8 520.2 208.2 520.9 205.4C521.5 202.6 522.6 198.5 523.8 195.4C525.1 192.2 526.5 189.5 528.3 186.5C530.1 183.5 532.2 180.5 534.6 177.5C537 174.5 539.8 171.3 542.7 168.4C545.5 165.6 548.4 162.9 551.7 160.1C555 157.3 558.6 154.6 562.4 151.9C566.3 149.2 570.8 146.2 575 143.8C579.1 141.5 583.3 139.6 587.5 137.6C591.7 135.7 595.9 133.8 600.1 132.3C604.3 130.7 608.3 129.4 612.6 128.2C617 127 621.6 126 626.1 125.1C630.6 124.3 635 123.6 639.5 123.1C644 122.6 648.5 122.2 653 122C657.5 121.9 662.7 122 666.4 122.3C670.2 122.6 673 123 675.4 123.7C677.9 124.3 679.1 125.1 681.2 126.1C683.3 127.1 685.4 128 688.1 129.6C690.7 131.1 694.3 133.3 697.1 135.5C700 137.7 702.6 140.1 705.2 142.6C707.7 145.2 710.1 148 712.3 150.7C714.6 153.4 716.5 156.2 718.6 159C720.7 161.9 722.9 164.9 725 167.9C727 170.9 729.2 173.9 731.1 176.9C733.1 179.9 734.7 182.9 736.5 185.9C738.3 188.9 740.2 191.9 741.9 195C743.6 198 745.1 201 746.5 204.1C747.8 207.2 749.1 210.8 750 213.4C750.9 216 751.7 217.8 752 219.8C752.2 221.9 752.1 223.7 751.5 225.9C750.8 228.1 749.8 230.7 748.2 232.9C746.7 235.1 744.6 237.2 742.3 239.1C740 240.9 737.3 242.6 734.5 243.9C731.7 245.2 728.6 245.9 725.6 246.7C722.6 247.6 719.6 248.3 716.6 249C713.6 249.8 710.6 250.4 707.6 251.2C704.6 251.9 701.7 252.7 698.7 253.5C695.7 254.2 692.7 254.9 689.7 255.8C686.7 256.6 683.7 257.6 680.7 258.4C677.7 259.3 674.8 260.1 671.8 261.1C668.8 262.1 665.8 263.3 662.8 264.5C659.8 265.7 656.8 266.9 653.8 268.1C650.8 269.3 647.9 270.6 644.9 271.8C641.9 272.9 638.9 274.2 635.9 275.1C632.9 276.1 629.9 277 626.9 277.6C623.9 278.1 620.7 278.7 618 278.6C615.3 278.6 613 278.2 610.7 277.4C608.5 276.6 606.1 275.2 604.6 273.8C603 272.4 602.3 270.5 601.2 268.9C600.1 267.3 599.1 265.7 597.8 264.2C596.6 262.8 595.2 261.3 593.8 260.2C592.3 259.1 591 258.2 589.1 257.5C587.2 256.8 585.2 256.5 582.4 256.2C579.6 255.8 575.6 255.8 572.3 255.5C568.9 255.2 565.5 255 562.2 254.5C558.8 254.1 555.3 253.8 552.1 253.1C548.8 252.3 545.6 251.6 542.7 250.2C539.8 248.9 537.2 246.9 534.6 244.9C532 242.8 529.2 240.2 527.2 237.7C525.2 235.2 523.7 232.9 522.5 229.9C521.3 226.9 520.5 222.8 520.1 219.8Z" fill="none" stroke="#000" stroke-opacity="0.22" stroke-width="3" style="filter:blur(1.2px)"/>
</g>
<clipPath id="c3"><path d="M150.1 410.2C150 407.7 150.5 404 151.1 400.8C151.8 397.7 152.6 394.8 153.8 391.4C155.1 388 156.6 384.4 158.5 380.6C160.4 376.9 162.7 372.6 165.3 368.8C167.8 365 171 361.3 174 357.8C177 354.3 180.1 350.9 183.4 347.7C186.8 344.5 190.4 341.5 194.2 338.7C198 335.8 202.2 333.1 206.3 330.6C210.4 328.1 214.8 325.6 219.1 323.5C223.3 321.3 227.5 319.4 231.9 317.7C236.2 316 240.8 314.5 245.3 313.4C249.8 312.2 254.3 311.4 258.8 310.7C263.3 310 267.7 309.4 272.2 309.1C276.7 308.7 281.2 308.5 285.7 308.7C290.2 308.8 294.8 309.1 299.1 310C303.5 310.9 307.6 312.4 311.9 314.1C316.2 315.7 320.9 317.8 324.7 320C328.5 322.2 331.6 324.3 334.8 327.2C338 330.2 341.2 334.5 343.8 337.9C346.4 341.2 348.2 344 350.2 347.3C352.3 350.6 354.1 354.5 356 357.8C358 361.1 360 364.1 362 367.2C363.9 370.3 365.8 373.4 367.7 376.5C369.7 379.6 372 383 373.7 385.8C375.3 388.5 376.3 390.5 377.4 393C378.5 395.6 379.4 398.5 380.1 401.1C380.8 403.7 381.5 406 381.6 408.6C381.7 411.3 381.6 414.3 380.8 417C380 419.7 378.8 422.5 376.9 424.8C375 427.1 372.5 429 369.5 430.7C366.4 432.3 362.4 433.6 358.6 434.7C354.8 435.9 350.8 436.6 346.5 437.6C342.2 438.5 337.3 439.3 332.8 440.4C328.2 441.4 323.8 442.5 319.3 443.9C314.8 445.3 310.3 447 305.9 448.7C301.4 450.4 296.9 452.3 292.4 454.1C287.9 455.9 283.4 457.8 278.9 459.5C274.5 461.2 269.8 463.2 265.5 464.3C261.2 465.5 257.2 466.3 253.4 466.5C249.6 466.6 245.8 466 242.6 465.1C239.5 464.2 236.8 462.8 234.6 461.1C232.3 459.4 230.7 457.2 229.2 455C227.6 452.9 226.9 450.2 225.1 448.3C223.3 446.4 221.3 444.8 218.4 443.6C215.5 442.4 211.5 441.7 207.6 440.9C203.8 440.1 199.6 439.7 195.5 438.9C191.5 438.1 187.2 437.2 183.4 436.2C179.6 435.2 176 434.2 172.7 432.8C169.3 431.5 166.1 430 163.3 428.1C160.4 426.3 157.8 424 155.9 421.9C153.9 419.9 152.8 417.8 151.8 415.9C150.9 413.9 150.2 412.8 150.1 410.2Z"/></clipPath>
<g clip-path="url(#c3)">
<path d="M150.1 410.2C150 407.7 150.5 404 151.1 400.8C151.8 397.7 152.6 394.8 153.8 391.4C155.1 388 156.6 384.4 158.5 380.6C160.4 376.9 162.7 372.6 165.3 368.8C167.8 365 171 361.3 174 357.8C177 354.3 180.1 350.9 183.4 347.7C186.8 344.5 190.4 341.5 194.2 338.7C198 335.8 202.2 333.1 206.3 330.6C210.4 328.1 214.8 325.6 219.1 323.5C223.3 321.3 227.5 319.4 231.9 317.7C236.2 316 240.8 314.5 245.3 313.4C249.8 312.2 254.3 311.4 258.8 310.7C263.3 310 267.7 309.4 272.2 309.1C276.7 308.7 281.2 308.5 285.7 308.7C290.2 308.8 294.8 309.1 299.1 310C303.5 310.9 307.6 312.4 311.9 314.1C316.2 315.7 320.9 317.8 324.7 320C328.5 322.2 331.6 324.3 334.8 327.2C338 330.2 341.2 334.5 343.8 337.9C346.4 341.2 348.2 344 350.2 347.3C352.3 350.6 354.1 354.5 356 357.8C358 361.1 360 364.1 362 367.2C363.9 370.3 365.8 373.4 367.7 376.5C369.7 379.6 372 383 373.7 385.8C375.3 388.5 376.3 390.5 377.4 393C378.5 395.6 379.4 398.5 380.1 401.1C380.8 403.7 381.5 406 381.6 408.6C381.7 411.3 381.6 414.3 380.8 417C380 419.7 378.8 422.5 376.9 424.8C375 427.1 372.5 429 369.5 430.7C366.4 432.3 362.4 433.6 358.6 434.7C354.8 435.9 350.8 436.6 346.5 437.6C342.2 438.5 337.3 439.3 332.8 440.4C328.2 441.4 323.8 442.5 319.3 443.9C314.8 445.3 310.3 447 305.9 448.7C301.4 450.4 296.9 452.3 292.4 454.1C287.9 455.9 283.4 457.8 278.9 459.5C274.5 461.2 269.8 463.2 265.5 464.3C261.2 465.5 257.2 466.3 253.4 466.5C249.6 466.6 245.8 466 242.6 465.1C239.5 464.2 236.8 462.8 234.6 461.1C232.3 459.4 230.7 457.2 229.2 455C227.6 452.9 226.9 450.2 225.1 448.3C223.3 446.4 221.3 444.8 218.4 443.6C215.5 442.4 211.5 441.7 207.6 440.9C203.8 440.1 199.6 439.7 195.5 438.9C191.5 438.1 187.2 437.2 183.4 436.2C179.6 435.2 176 434.2 172.7 432.8C169.3 431.5 166.1 430 163.3 428.1C160.4 426.3 157.8 424 155.9 421.9C153.9 419.9 152.8 417.8 151.8 415.9C150.9 413.9 150.2 412.8 150.1 410.2Z" fill="#4E30D6"/>
<path d="M150.1 410.2C150 407.7 150.5 404 151.1 400.8C151.8 397.7 152.6 394.8 153.8 391.4C155.1 388 156.6 384.4 158.5 380.6C160.4 376.9 162.7 372.6 165.3 368.8C167.8 365 171 361.3 174 357.8C177 354.3 180.1 350.9 183.4 347.7C186.8 344.5 190.4 341.5 194.2 338.7C198 335.8 202.2 333.1 206.3 330.6C210.4 328.1 214.8 325.6 219.1 323.5C223.3 321.3 227.5 319.4 231.9 317.7C236.2 316 240.8 314.5 245.3 313.4C249.8 312.2 254.3 311.4 258.8 310.7C263.3 310 267.7 309.4 272.2 309.1C276.7 308.7 281.2 308.5 285.7 308.7C290.2 308.8 294.8 309.1 299.1 310C303.5 310.9 307.6 312.4 311.9 314.1C316.2 315.7 320.9 317.8 324.7 320C328.5 322.2 331.6 324.3 334.8 327.2C338 330.2 341.2 334.5 343.8 337.9C346.4 341.2 348.2 344 350.2 347.3C352.3 350.6 354.1 354.5 356 357.8C358 361.1 360 364.1 362 367.2C363.9 370.3 365.8 373.4 367.7 376.5C369.7 379.6 372 383 373.7 385.8C375.3 388.5 376.3 390.5 377.4 393C378.5 395.6 379.4 398.5 380.1 401.1C380.8 403.7 381.5 406 381.6 408.6C381.7 411.3 381.6 414.3 380.8 417C380 419.7 378.8 422.5 376.9 424.8C375 427.1 372.5 429 369.5 430.7C366.4 432.3 362.4 433.6 358.6 434.7C354.8 435.9 350.8 436.6 346.5 437.6C342.2 438.5 337.3 439.3 332.8 440.4C328.2 441.4 323.8 442.5 319.3 443.9C314.8 445.3 310.3 447 305.9 448.7C301.4 450.4 296.9 452.3 292.4 454.1C287.9 455.9 283.4 457.8 278.9 459.5C274.5 461.2 269.8 463.2 265.5 464.3C261.2 465.5 257.2 466.3 253.4 466.5C249.6 466.6 245.8 466 242.6 465.1C239.5 464.2 236.8 462.8 234.6 461.1C232.3 459.4 230.7 457.2 229.2 455C227.6 452.9 226.9 450.2 225.1 448.3C223.3 446.4 221.3 444.8 218.4 443.6C215.5 442.4 211.5 441.7 207.6 440.9C203.8 440.1 199.6 439.7 195.5 438.9C191.5 438.1 187.2 437.2 183.4 436.2C179.6 435.2 176 434.2 172.7 432.8C169.3 431.5 166.1 430 163.3 428.1C160.4 426.3 157.8 424 155.9 421.9C153.9 419.9 152.8 417.8 151.8 415.9C150.9 413.9 150.2 412.8 150.1 410.2Z" fill="none" stroke="#000" stroke-opacity="0.3" stroke-width="12" style="filter:blur(4px)"/>
<clipPath id="g3"><path d="M192.8 402.2C192.8 399.9 193.5 397.7 194.9 395.4C196.2 393.2 198.3 391 200.9 388.7C203.5 386.5 207 384 210.3 382C213.7 380 217.3 378 221.1 376.6C224.9 375.3 229.2 374.6 233.2 373.9C237.2 373.2 241.1 372.7 245.3 372.6C249.6 372.5 254.3 372.9 258.8 373.2C263.3 373.6 268 373.9 272.2 374.6C276.5 375.3 280.7 376.2 284.3 377.3C287.9 378.4 291.1 379.6 293.7 381.3C296.4 383 298.9 385 300.5 387.4C302 389.7 302.6 392.5 303.2 395.4C303.7 398.4 303.9 401.7 303.8 404.9C303.7 408 303.3 411.1 302.5 414.3C301.7 417.4 300.8 420.6 299.1 423.7C297.4 426.8 295.1 430.2 292.4 433.1C289.7 436 286.3 438.7 283 441.2C279.6 443.7 275.8 446 272.2 447.9C268.6 449.8 265 451.4 261.5 452.6C257.9 453.9 254.3 454.9 250.7 455.3C247.1 455.8 243.3 455.6 239.9 455.3C236.6 455 233 454.3 230.5 453.3C228 452.3 226.5 451 225.1 449.3C223.8 447.5 223.1 444.8 222.4 442.5C221.8 440.3 222.2 438 221.1 435.8C220 433.6 217.7 431.3 215.7 429.1C213.7 426.8 211.5 424.6 209 422.3C206.5 420.1 203.3 417.9 200.9 415.6C198.6 413.4 196.2 411.1 194.9 408.9C193.5 406.7 192.8 404.4 192.8 402.2Z"/></clipPath>
<path d="M266.8 306.7L267.5 314.7L263.5 320.8L269.5 322.8L277.6 324.8L279.6 329.5L274.9 332.2L270.9 338.9L269.5 344.3L272.2 349.7L273.6 356.4L270.9 359.1L274.9 363.2L266.8 363.4L256.1 363.2L245.3 363.4L234.6 364.5L223.8 367.2L215.7 371.2L207.6 375.3L199.6 379.3L194.2 382.7L192.8 378L194.2 372.6L191.5 368.5L194.2 363.2L191.5 359.1L186.1 361.8L179.4 364.5L176.7 371.2L171.3 376.6L167.3 382L165.9 388.7L160.6 392.8L157.2 399.5L157.9 407.6L159.2 414.3L163.9 421L159.2 420.3L156.5 423.7L153.8 419.7L147.1 411.6L148.5 388.7L161.9 361.8L188.8 334.9L229.2 313.4Z" fill="#F2F444"/>
<path d="M215.7 334.9C219.1 334 225.6 334.9 229.2 336.3C232.8 337.6 236.8 340.3 237.2 343C237.7 345.7 233.2 349.3 231.9 352.4C230.5 355.5 231 359.3 229.2 361.8C227.4 364.3 224.7 365.2 221.1 367.2C217.5 369.2 211.9 371.7 207.6 373.9C203.4 376.2 197.9 380.4 195.5 380.6C193.2 380.9 193.6 378 193.5 375.3C193.4 372.6 193.4 368.3 194.9 364.5C196.3 360.7 199.9 356.2 202.3 352.4C204.6 348.6 206.7 344.5 209 341.6C211.2 338.7 212.4 335.8 215.7 334.9Z" fill="#FFDE3C"/>
<path d="M309.9 384L313.9 382.7L316.6 386L320.7 390.1L319.3 394.1L315.3 398.1L312.6 403.5L309.9 408.9L308.5 414.3L304.5 412.9L302.5 408.9L305.9 402.2L308.5 395.4L309.9 390.1Z" fill="#5CEC98"/>
<path d="M358.3 365.8L363.7 371.2L369.1 379.3L374.5 388.7L377.2 399.5L374.5 404.2L369.1 402.2L363.7 398.1L357 394.1L350.2 392.8L344.2 390.7L348.9 384.7L354.3 378L357 371.2Z" fill="#5AEAA0"/>
<path d="M192.8 402.2C192.8 399.9 193.5 397.7 194.9 395.4C196.2 393.2 198.3 391 200.9 388.7C203.5 386.5 207 384 210.3 382C213.7 380 217.3 378 221.1 376.6C224.9 375.3 229.2 374.6 233.2 373.9C237.2 373.2 241.1 372.7 245.3 372.6C249.6 372.5 254.3 372.9 258.8 373.2C263.3 373.6 268 373.9 272.2 374.6C276.5 375.3 280.7 376.2 284.3 377.3C287.9 378.4 291.1 379.6 293.7 381.3C296.4 383 298.9 385 300.5 387.4C302 389.7 302.6 392.5 303.2 395.4C303.7 398.4 303.9 401.7 303.8 404.9C303.7 408 303.3 411.1 302.5 414.3C301.7 417.4 300.8 420.6 299.1 423.7C297.4 426.8 295.1 430.2 292.4 433.1C289.7 436 286.3 438.7 283 441.2C279.6 443.7 275.8 446 272.2 447.9C268.6 449.8 265 451.4 261.5 452.6C257.9 453.9 254.3 454.9 250.7 455.3C247.1 455.8 243.3 455.6 239.9 455.3C236.6 455 233 454.3 230.5 453.3C228 452.3 226.5 451 225.1 449.3C223.8 447.5 223.1 444.8 222.4 442.5C221.8 440.3 222.2 438 221.1 435.8C220 433.6 217.7 431.3 215.7 429.1C213.7 426.8 211.5 424.6 209 422.3C206.5 420.1 203.3 417.9 200.9 415.6C198.6 413.4 196.2 411.1 194.9 408.9C193.5 406.7 192.8 404.4 192.8 402.2Z" fill="#707070"/>
<path d="M205.1 405C205.1 403.7 205.4 402.1 206.4 400.4C207.4 398.8 209.1 397.1 210.9 395.3C212.8 393.4 215.2 391 217.4 389.4C219.6 387.8 221.5 386.7 223.9 385.6C226.2 384.4 228.9 383.1 231.6 382.3C234.3 381.5 237.5 381 240.1 380.7C242.7 380.4 245.1 380.3 247.2 380.7C249.2 381.1 251.6 382.1 252.4 383C253.1 383.8 252.7 385 251.7 385.6C250.7 386.1 248.5 385.8 246.5 386.2C244.6 386.6 242.2 387.3 240.1 388.1C237.9 389 235.7 390.2 233.6 391.4C231.4 392.6 228.9 394.1 227.1 395.3C225.3 396.5 224 397.8 222.6 398.5C221.2 399.3 219.9 399.5 218.7 399.8C217.5 400.1 215.4 399.9 215.4 400.4C215.4 401 217.8 402.2 218.7 403C219.6 403.9 220.6 404.7 220.6 405.6C220.6 406.6 219.8 408.1 218.7 408.9C217.6 409.7 215.7 410.3 214.2 410.5C212.6 410.7 210.9 410.5 209.6 410.2C208.3 409.8 207.1 409.1 206.4 408.2C205.6 407.4 205.1 406.3 205.1 405Z" fill="#4B4B4B" clip-path="url(#g3)"/>
<path d="M242 400.4C243.1 399.2 244.7 397 246.5 395.9C248.4 394.8 250.3 394.1 253 393.6C255.7 393.2 259.5 393 262.7 393C266 392.9 270.2 393.6 272.4 393.3C274.7 393 274.9 391.3 276.3 391.1C277.7 390.8 279.3 391.2 280.9 392C282.5 392.8 284.2 394.2 286 395.9C287.9 397.6 289.9 400.2 291.9 402.4C293.8 404.5 296.1 407.2 297.7 408.9C299.3 410.5 300.5 411 301.6 412.1C302.7 413.2 304.1 413.7 304.2 415.4C304.3 417 303.2 419.5 302.2 421.8C301.3 424.2 299.9 427.2 298.4 429.6C296.8 432 295.1 434 293.2 436.1C291.2 438.1 288.9 440.2 286.7 441.9C284.5 443.6 282.6 445 280.2 446.4C277.8 447.8 275.4 449.3 272.4 450.3C269.5 451.4 266.5 453.3 262.7 452.9C259 452.5 250.3 449.6 249.8 448C249.2 446.4 256.3 444.8 259.5 443.2C262.7 441.6 266.5 440.1 269.2 438.7C271.9 437.3 273.5 436.5 275.7 434.8C277.9 433.1 280.3 430.5 282.2 428.3C284 426.1 285.5 424 286.7 421.8C287.9 419.7 289 417.3 289.3 415.4C289.6 413.4 289.4 411.6 288.6 410.2C287.9 408.8 286.4 407.4 284.8 406.9C283.1 406.5 280.7 407.9 278.9 407.6C277.2 407.3 276 405.8 274.4 405C272.8 404.1 271.2 403 269.2 402.4C267.3 401.7 264.9 401.2 262.7 401.1C260.6 401 258.2 401.2 256.3 401.7C254.3 402.3 252.6 403.3 251.1 404.3C249.6 405.4 248.2 406.9 247.2 408.2C246.2 409.5 245.2 411.1 245.2 412.1C245.2 413.1 245.9 413.7 247.2 414C248.5 414.4 251 414.5 253 414C255.1 413.6 257.7 411.9 259.5 411.5C261.3 411 263.2 411.1 264 411.5C264.9 411.8 265.4 412.5 264.7 413.4C263.9 414.3 261.4 415.6 259.5 416.6C257.6 417.7 255.2 418.9 253 419.9C250.9 420.9 248.7 421.8 246.5 422.5C244.4 423.1 241.6 424.1 240.1 423.8C238.6 423.4 238.1 421.9 237.5 420.5C236.8 419.1 236.1 417.3 236.2 415.4C236.3 413.4 237.5 410.8 238.1 408.9C238.8 406.9 239.4 405.1 240.1 403.7C240.7 402.3 240.9 401.7 242 400.4Z" fill="#4B4B4B" clip-path="url(#g3)"/>
<path d="M269.2 415.4C270.1 414.5 273.1 414 274.4 414C275.7 414 276.8 414.3 277 415.4C277.2 416.4 275.8 418.8 275.7 420.5C275.6 422.3 276.7 424.2 276.3 425.7C276 427.2 274.9 428.7 273.8 429.6C272.6 430.5 270.8 431.2 269.2 430.9C267.6 430.6 264.2 428.8 264 427.7C263.8 426.5 267.1 425.2 267.9 423.8C268.8 422.4 269 420.6 269.2 419.2C269.4 417.8 268.3 416.2 269.2 415.4Z" fill="#4B4B4B" clip-path="url(#g3)"/>
<path d="M209.6 421.8C210.2 421 212.2 421.2 214.2 420.5C216.1 419.9 219.4 418.5 221.3 417.9C223.1 417.4 224.3 416.9 225.2 417.3C226 417.7 226.5 419.5 226.5 420.5C226.5 421.6 224.7 422.8 225.2 423.8C225.6 424.7 228 425.6 229 426.4C230.1 427.1 231.5 427.4 231.6 428.3C231.8 429.2 230.8 430.9 229.7 431.5C228.6 432.2 226.5 431.5 225.2 432.2C223.9 432.8 222.9 435.1 221.9 435.4C221 435.8 220.4 435 219.3 434.1C218.3 433.3 216.9 431.7 215.4 430.2C214 428.8 211.9 427.1 210.9 425.7C209.9 424.3 209.1 422.7 209.6 421.8Z" fill="#4B4B4B" clip-path="url(#g3)"/>
<path d="M217.4 427.7C218 427.2 220.4 426.8 221.3 427C222.1 427.2 222.8 428.4 222.6 429C222.4 429.5 220.8 430.5 220 430.6C219.1 430.7 217.8 430.1 217.4 429.6C217 429.1 216.8 428.1 217.4 427.7Z" fill="#707070" clip-path="url(#g3)"/>
<path d="M240.1 436.7C240.4 436.1 242.1 435.9 243.3 436.1C244.5 436.3 245.6 437.6 247.2 438C248.8 438.5 252.6 438.1 253 438.7C253.5 439.2 250.9 440.5 249.8 441.3C248.7 442 246.5 442.7 246.5 443.2C246.5 443.7 248.7 443.7 249.8 444.5C250.9 445.2 253 446.1 253 447.7C253 449.4 252.5 452.8 249.8 454.2C247.1 455.6 240.9 456.2 236.8 456.2C232.7 456.2 227.8 455.6 225.2 454.2C222.6 452.8 221.3 450.2 221.3 448C221.3 445.8 223.6 442.8 225.2 441.3C226.7 439.7 228.6 438.8 230.4 438.7C232.1 438.6 233.9 440.1 235.5 440.6C237.2 441.1 239.1 442 240.1 441.9C241 441.8 241.4 440.8 241.4 440C241.4 439.1 239.7 437.4 240.1 436.7Z" fill="#4B4B4B" clip-path="url(#g3)"/>
<path d="M226.5 446.4C227.2 445.7 229.9 444.9 231.6 445.1C233.4 445.4 236.2 446.8 236.8 447.7C237.5 448.7 236.6 450.3 235.5 451C234.5 451.6 231.8 451.8 230.4 451.6C229 451.4 227.8 450.5 227.1 449.7C226.5 448.8 225.7 447.2 226.5 446.4Z" fill="#707070" clip-path="url(#g3)"/>
<path d="M289.7 348.4C293.1 350.2 304.3 355.1 309.9 359.1C315.5 363.2 321.1 370.3 323.3 372.6" fill="none" stroke="#fff" stroke-opacity="0.09" stroke-width="26" stroke-linecap="round" style="filter:blur(6px)"/>
<rect x="148.1" y="306.7" width="235.5" height="161.8" fill="url(#shd)"/>
<path d="M150.1 410.2C150 407.7 150.5 404 151.1 400.8C151.8 397.7 152.6 394.8 153.8 391.4C155.1 388 156.6 384.4 158.5 380.6C160.4 376.9 162.7 372.6 165.3 368.8C167.8 365 171 361.3 174 357.8C177 354.3 180.1 350.9 183.4 347.7C186.8 344.5 190.4 341.5 194.2 338.7C198 335.8 202.2 333.1 206.3 330.6C210.4 328.1 214.8 325.6 219.1 323.5C223.3 321.3 227.5 319.4 231.9 317.7C236.2 316 240.8 314.5 245.3 313.4C249.8 312.2 254.3 311.4 258.8 310.7C263.3 310 267.7 309.4 272.2 309.1C276.7 308.7 281.2 308.5 285.7 308.7C290.2 308.8 294.8 309.1 299.1 310C303.5 310.9 307.6 312.4 311.9 314.1C316.2 315.7 320.9 317.8 324.7 320C328.5 322.2 331.6 324.3 334.8 327.2C338 330.2 341.2 334.5 343.8 337.9C346.4 341.2 348.2 344 350.2 347.3C352.3 350.6 354.1 354.5 356 357.8C358 361.1 360 364.1 362 367.2C363.9 370.3 365.8 373.4 367.7 376.5C369.7 379.6 372 383 373.7 385.8C375.3 388.5 376.3 390.5 377.4 393C378.5 395.6 379.4 398.5 380.1 401.1C380.8 403.7 381.5 406 381.6 408.6C381.7 411.3 381.6 414.3 380.8 417C380 419.7 378.8 422.5 376.9 424.8C375 427.1 372.5 429 369.5 430.7C366.4 432.3 362.4 433.6 358.6 434.7C354.8 435.9 350.8 436.6 346.5 437.6C342.2 438.5 337.3 439.3 332.8 440.4C328.2 441.4 323.8 442.5 319.3 443.9C314.8 445.3 310.3 447 305.9 448.7C301.4 450.4 296.9 452.3 292.4 454.1C287.9 455.9 283.4 457.8 278.9 459.5C274.5 461.2 269.8 463.2 265.5 464.3C261.2 465.5 257.2 466.3 253.4 466.5C249.6 466.6 245.8 466 242.6 465.1C239.5 464.2 236.8 462.8 234.6 461.1C232.3 459.4 230.7 457.2 229.2 455C227.6 452.9 226.9 450.2 225.1 448.3C223.3 446.4 221.3 444.8 218.4 443.6C215.5 442.4 211.5 441.7 207.6 440.9C203.8 440.1 199.6 439.7 195.5 438.9C191.5 438.1 187.2 437.2 183.4 436.2C179.6 435.2 176 434.2 172.7 432.8C169.3 431.5 166.1 430 163.3 428.1C160.4 426.3 157.8 424 155.9 421.9C153.9 419.9 152.8 417.8 151.8 415.9C150.9 413.9 150.2 412.8 150.1 410.2Z" fill="none" stroke="#000" stroke-opacity="0.22" stroke-width="3" style="filter:blur(1.2px)"/>
</g>
<clipPath id="c4"><path d="M520.1 406.2C520.2 404.1 520.9 401 521.8 398.1C522.8 395.2 524.2 392.1 525.9 388.7C527.5 385.4 529.8 381.5 531.9 378C534 374.4 536.2 371 538.6 367.2C541.1 363.4 544 358.9 546.7 355.1C549.4 351.3 552.1 347.7 554.8 344.3C557.5 341 559.9 337.9 562.8 334.9C565.8 331.9 569.1 328.9 572.3 326.2C575.4 323.5 578.3 320.9 581.7 318.8C585 316.6 588.9 314.8 592.4 313.4C596 311.9 599.6 310.8 603.2 310C606.8 309.2 610.2 308.9 614 308.7C617.8 308.4 622 308.4 626.1 308.7C630.1 308.9 634.1 309.5 638.2 310C642.2 310.6 646.3 311.1 650.3 312C654.3 312.9 658.4 314.2 662.4 315.4C666.4 316.6 670.5 317.9 674.5 319.4C678.5 321 682.6 322.9 686.6 324.8C690.7 326.7 694.9 328.7 698.7 330.9C702.5 333 705.9 335 709.5 337.6C713.1 340.2 716.9 343.3 720.2 346.3C723.6 349.4 726.7 352.5 729.7 355.8C732.6 359 735.3 362.4 737.7 365.8C740.2 369.3 742.6 373 744.5 376.6C746.4 380.2 747.9 383.8 749.2 387.4C750.4 391 751.4 394.5 751.9 398.1C752.3 401.7 752.3 405.5 751.9 408.9C751.4 412.3 750.4 415.4 749.2 418.3C747.9 421.2 746.4 423.9 744.5 426.4C742.6 428.9 740.4 431.2 737.7 433.1C735 435 731.7 436.7 728.3 437.8C725 438.9 721.1 439.4 717.6 439.8C714 440.3 710.4 440.4 706.8 440.5C703.2 440.6 699.4 440.3 696 440.5C692.7 440.7 689.3 441 686.6 441.9C683.9 442.8 681.7 444.2 679.9 445.9C678.1 447.6 677.2 449.8 675.9 451.9C674.5 454.1 673.4 456.7 671.8 458.7C670.2 460.7 668.7 462.8 666.4 464.1C664.2 465.3 661.5 466 658.4 466.1C655.2 466.2 651.6 465.7 647.6 464.7C643.6 463.7 638.9 461.8 634.1 460C629.4 458.2 624.3 456 619.3 454C614.4 451.9 609.7 449.8 604.6 447.9C599.4 446 593.8 444.2 588.4 442.5C583 440.8 577.6 439.4 572.3 437.8C566.9 436.3 561.1 434.8 556.1 433.1C551.2 431.4 546.7 429.6 542.7 427.7C538.6 425.8 534.9 423.7 531.9 421.7C528.9 419.7 526.3 417.4 524.5 415.6C522.7 413.8 521.6 412.5 520.9 410.9C520.1 409.3 519.9 408.3 520.1 406.2Z"/></clipPath>
<g clip-path="url(#c4)">
<path d="M520.1 406.2C520.2 404.1 520.9 401 521.8 398.1C522.8 395.2 524.2 392.1 525.9 388.7C527.5 385.4 529.8 381.5 531.9 378C534 374.4 536.2 371 538.6 367.2C541.1 363.4 544 358.9 546.7 355.1C549.4 351.3 552.1 347.7 554.8 344.3C557.5 341 559.9 337.9 562.8 334.9C565.8 331.9 569.1 328.9 572.3 326.2C575.4 323.5 578.3 320.9 581.7 318.8C585 316.6 588.9 314.8 592.4 313.4C596 311.9 599.6 310.8 603.2 310C606.8 309.2 610.2 308.9 614 308.7C617.8 308.4 622 308.4 626.1 308.7C630.1 308.9 634.1 309.5 638.2 310C642.2 310.6 646.3 311.1 650.3 312C654.3 312.9 658.4 314.2 662.4 315.4C666.4 316.6 670.5 317.9 674.5 319.4C678.5 321 682.6 322.9 686.6 324.8C690.7 326.7 694.9 328.7 698.7 330.9C702.5 333 705.9 335 709.5 337.6C713.1 340.2 716.9 343.3 720.2 346.3C723.6 349.4 726.7 352.5 729.7 355.8C732.6 359 735.3 362.4 737.7 365.8C740.2 369.3 742.6 373 744.5 376.6C746.4 380.2 747.9 383.8 749.2 387.4C750.4 391 751.4 394.5 751.9 398.1C752.3 401.7 752.3 405.5 751.9 408.9C751.4 412.3 750.4 415.4 749.2 418.3C747.9 421.2 746.4 423.9 744.5 426.4C742.6 428.9 740.4 431.2 737.7 433.1C735 435 731.7 436.7 728.3 437.8C725 438.9 721.1 439.4 717.6 439.8C714 440.3 710.4 440.4 706.8 440.5C703.2 440.6 699.4 440.3 696 440.5C692.7 440.7 689.3 441 686.6 441.9C683.9 442.8 681.7 444.2 679.9 445.9C678.1 447.6 677.2 449.8 675.9 451.9C674.5 454.1 673.4 456.7 671.8 458.7C670.2 460.7 668.7 462.8 666.4 464.1C664.2 465.3 661.5 466 658.4 466.1C655.2 466.2 651.6 465.7 647.6 464.7C643.6 463.7 638.9 461.8 634.1 460C629.4 458.2 624.3 456 619.3 454C614.4 451.9 609.7 449.8 604.6 447.9C599.4 446 593.8 444.2 588.4 442.5C583 440.8 577.6 439.4 572.3 437.8C566.9 436.3 561.1 434.8 556.1 433.1C551.2 431.4 546.7 429.6 542.7 427.7C538.6 425.8 534.9 423.7 531.9 421.7C528.9 419.7 526.3 417.4 524.5 415.6C522.7 413.8 521.6 412.5 520.9 410.9C520.1 409.3 519.9 408.3 520.1 406.2Z" fill="#4E30D6"/>
<path d="M520.1 406.2C520.2 404.1 520.9 401 521.8 398.1C522.8 395.2 524.2 392.1 525.9 388.7C527.5 385.4 529.8 381.5 531.9 378C534 374.4 536.2 371 538.6 367.2C541.1 363.4 544 358.9 546.7 355.1C549.4 351.3 552.1 347.7 554.8 344.3C557.5 341 559.9 337.9 562.8 334.9C565.8 331.9 569.1 328.9 572.3 326.2C575.4 323.5 578.3 320.9 581.7 318.8C585 316.6 588.9 314.8 592.4 313.4C596 311.9 599.6 310.8 603.2 310C606.8 309.2 610.2 308.9 614 308.7C617.8 308.4 622 308.4 626.1 308.7C630.1 308.9 634.1 309.5 638.2 310C642.2 310.6 646.3 311.1 650.3 312C654.3 312.9 658.4 314.2 662.4 315.4C666.4 316.6 670.5 317.9 674.5 319.4C678.5 321 682.6 322.9 686.6 324.8C690.7 326.7 694.9 328.7 698.7 330.9C702.5 333 705.9 335 709.5 337.6C713.1 340.2 716.9 343.3 720.2 346.3C723.6 349.4 726.7 352.5 729.7 355.8C732.6 359 735.3 362.4 737.7 365.8C740.2 369.3 742.6 373 744.5 376.6C746.4 380.2 747.9 383.8 749.2 387.4C750.4 391 751.4 394.5 751.9 398.1C752.3 401.7 752.3 405.5 751.9 408.9C751.4 412.3 750.4 415.4 749.2 418.3C747.9 421.2 746.4 423.9 744.5 426.4C742.6 428.9 740.4 431.2 737.7 433.1C735 435 731.7 436.7 728.3 437.8C725 438.9 721.1 439.4 717.6 439.8C714 440.3 710.4 440.4 706.8 440.5C703.2 440.6 699.4 440.3 696 440.5C692.7 440.7 689.3 441 686.6 441.9C683.9 442.8 681.7 444.2 679.9 445.9C678.1 447.6 677.2 449.8 675.9 451.9C674.5 454.1 673.4 456.7 671.8 458.7C670.2 460.7 668.7 462.8 666.4 464.1C664.2 465.3 661.5 466 658.4 466.1C655.2 466.2 651.6 465.7 647.6 464.7C643.6 463.7 638.9 461.8 634.1 460C629.4 458.2 624.3 456 619.3 454C614.4 451.9 609.7 449.8 604.6 447.9C599.4 446 593.8 444.2 588.4 442.5C583 440.8 577.6 439.4 572.3 437.8C566.9 436.3 561.1 434.8 556.1 433.1C551.2 431.4 546.7 429.6 542.7 427.7C538.6 425.8 534.9 423.7 531.9 421.7C528.9 419.7 526.3 417.4 524.5 415.6C522.7 413.8 521.6 412.5 520.9 410.9C520.1 409.3 519.9 408.3 520.1 406.2Z" fill="none" stroke="#000" stroke-opacity="0.3" stroke-width="12" style="filter:blur(4px)"/>
<path d="M591.1 310.7L603.2 308L614 308L614.6 313.4L616.7 318.8L622 325.5L627.4 332.2L631.5 338.9L635.5 347L639.5 353.7L643.6 360.5L647.6 365.8L650.3 371.2L642.2 376.6L639.5 371.2L636.8 367.2L630.1 361.8L623.4 356.4L618 351L611.3 347L604.6 348.4L599.2 347.7L596.5 343.7L600.5 337.6L599.2 329.5L596.5 321.5L592.4 314.1Z" fill="#7EEC82"/>
<path d="M608.6 308L614 308L614.6 313.4L616.7 318.8L622 325.5L627.4 332.2L631.5 338.9L635.5 347L639.5 353.7L643.6 360.5L647.6 365.8L650.3 371.2L642.2 376.6L638.2 367.2L636.8 361.8L632.8 355.1L628.8 348.4L623.4 343L616.7 337.6L612.6 332.2L611.3 321.5Z" fill="#D6F24E"/>
<path d="M627.4 307.3L631.5 314.7L634.1 321.5L632.8 325.5L638.2 329.5L643.6 332.2L647.6 337.6L651.6 344.3L655.7 352.4L658.4 360.5L658.4 368.5L657 373.9L653 373.9L650.3 371.2L642.2 376.6L639.5 380.6L635.5 382.7L631.5 381.3L630.1 384.7L632.8 388L639.5 390.1L646.3 392.1L653 394.1L659.7 391.4L666.4 388.7L673.2 387.4L671.8 383.3L672.5 376.6L671.8 369.9L669.1 364.5L668.5 357.8L670.5 351L673.2 344.3L669.8 340.3L672.5 334.9L669.1 330.9L663.7 325.5L658.4 318.8L659.7 313.4L650.3 309.3L638.2 307.3Z" fill="#FBF03C"/>
<path d="M650.3 371.2L642.2 376.6L639.5 380.6L635.5 382.7L631.5 381.3L630.1 384.7L632.8 388L639.5 390.1L646.3 392.1L653 394.1L659.7 391.4L666.4 388.7L673.2 387.4L671.8 383.3L672.5 376.6L663.7 378L657 373.9L653 373.9Z" fill="#FFD23A"/>
<path d="M659.7 319.4L666.4 317.4L677.2 319.4L686.6 323.5L698.7 329.5L709.5 336.3L720.2 345L729.7 354.4L736.4 363.2L732.4 365.8L727 361.8L720.2 359.1L714.9 355.1L709.5 351L704.1 345.7L697.4 340.3L690.7 336.9L682.6 334.9L674.5 334.2L672.5 334.9L669.1 330.9L663.7 325.5Z" fill="#62EC98"/>
<path d="M706.8 334.2L714.9 340.3L725.6 349.7L735 361.1L743.1 372.6L740.4 373.9L736.4 363.2L729.7 354.4L720.2 345L709.5 336.3Z" fill="#FBF03C"/>
<path d="M685.3 352.4L690.7 353.1L696 356.4L699.4 361.8L700.1 367.2L704.1 372.6L709.5 378L714.9 381.3L721.6 382.7L725.6 386L729.7 391.4L732.4 398.1L731.7 404.2L725.6 404.9L721.6 400.8L716.2 395.4L710.8 391.4L704.1 387.4L698.7 387.4L693.3 386.7L689.3 384.7L688 379.3L686.6 372.6L685.3 365.8L683.9 359.1Z" fill="#B8EE60"/>
<path d="M657 392.8L663.7 390.1L671.8 388L679.9 388.7L688 387.4L694.7 387.4L698.7 390.1L697.4 395.4L693.3 398.1L690.7 403.5L685.3 400.8L678.5 398.1L671.8 395.4L666.4 394.1L661.1 394.1Z" fill="#62EA92"/>
<path d="M698.7 406.2L702.8 404.2L708.1 407.6L713.5 412.9L714.9 417L709.5 418.3L704.1 418.3L700.1 414.3L698 410.2Z" fill="#70EC88"/>
<path d="M577.6 362.5L583 365.8L588.4 369.9L592.4 371.2L595.1 378L599.2 384.7L602.5 390.1L607.9 398.1L614.6 405.1L623.4 411.9L631.5 418.6L640.9 425.3L648.9 433.4L655 441.2L659.7 447.2L663.7 452.2L655.7 449.5L644.9 445.2L634.1 439.6L623.4 433.8L612.6 427.1L603.2 419.9L596.5 413.6L592.4 406.2L587.1 400.8L581.7 401.5L576.3 402.8L569.6 405.1L564.2 401.1L558.8 398.1L553.4 396.8L552.1 388.7L552.8 380.6L554.8 373.9L558.8 371.2L564.2 373.9L569.6 380.6L572.3 376.6L571.6 369.9L573.6 364.5Z" fill="#64EC94"/>
<path d="M614 367.2C614.9 369 617.1 374.6 619.3 378C621.6 381.3 624.3 384.7 627.4 387.4C630.6 390.1 634.4 392.1 638.2 394.1C642 396.1 648.3 398.6 650.3 399.5" fill="none" stroke="#000" stroke-opacity="0.22" stroke-width="10" stroke-linecap="round" style="filter:blur(6px)"/>
<path d="M615.3 402.2C618.2 403.7 626.5 408.7 632.8 411.6C639.1 414.5 646.3 417.6 653 419.7C659.7 421.7 669.8 423 673.2 423.7" fill="none" stroke="#fff" stroke-opacity="0.1" stroke-width="18" stroke-linecap="round" style="filter:blur(6px)"/>
<rect x="518.1" y="306.7" width="235.8" height="161.4" fill="url(#shd)"/>
<path d="M520.1 406.2C520.2 404.1 520.9 401 521.8 398.1C522.8 395.2 524.2 392.1 525.9 388.7C527.5 385.4 529.8 381.5 531.9 378C534 374.4 536.2 371 538.6 367.2C541.1 363.4 544 358.9 546.7 355.1C549.4 351.3 552.1 347.7 554.8 344.3C557.5 341 559.9 337.9 562.8 334.9C565.8 331.9 569.1 328.9 572.3 326.2C575.4 323.5 578.3 320.9 581.7 318.8C585 316.6 588.9 314.8 592.4 313.4C596 311.9 599.6 310.8 603.2 310C606.8 309.2 610.2 308.9 614 308.7C617.8 308.4 622 308.4 626.1 308.7C630.1 308.9 634.1 309.5 638.2 310C642.2 310.6 646.3 311.1 650.3 312C654.3 312.9 658.4 314.2 662.4 315.4C666.4 316.6 670.5 317.9 674.5 319.4C678.5 321 682.6 322.9 686.6 324.8C690.7 326.7 694.9 328.7 698.7 330.9C702.5 333 705.9 335 709.5 337.6C713.1 340.2 716.9 343.3 720.2 346.3C723.6 349.4 726.7 352.5 729.7 355.8C732.6 359 735.3 362.4 737.7 365.8C740.2 369.3 742.6 373 744.5 376.6C746.4 380.2 747.9 383.8 749.2 387.4C750.4 391 751.4 394.5 751.9 398.1C752.3 401.7 752.3 405.5 751.9 408.9C751.4 412.3 750.4 415.4 749.2 418.3C747.9 421.2 746.4 423.9 744.5 426.4C742.6 428.9 740.4 431.2 737.7 433.1C735 435 731.7 436.7 728.3 437.8C725 438.9 721.1 439.4 717.6 439.8C714 440.3 710.4 440.4 706.8 440.5C703.2 440.6 699.4 440.3 696 440.5C692.7 440.7 689.3 441 686.6 441.9C683.9 442.8 681.7 444.2 679.9 445.9C678.1 447.6 677.2 449.8 675.9 451.9C674.5 454.1 673.4 456.7 671.8 458.7C670.2 460.7 668.7 462.8 666.4 464.1C664.2 465.3 661.5 466 658.4 466.1C655.2 466.2 651.6 465.7 647.6 464.7C643.6 463.7 638.9 461.8 634.1 460C629.4 458.2 624.3 456 619.3 454C614.4 451.9 609.7 449.8 604.6 447.9C599.4 446 593.8 444.2 588.4 442.5C583 440.8 577.6 439.4 572.3 437.8C566.9 436.3 561.1 434.8 556.1 433.1C551.2 431.4 546.7 429.6 542.7 427.7C538.6 425.8 534.9 423.7 531.9 421.7C528.9 419.7 526.3 417.4 524.5 415.6C522.7 413.8 521.6 412.5 520.9 410.9C520.1 409.3 519.9 408.3 520.1 406.2Z" fill="none" stroke="#000" stroke-opacity="0.22" stroke-width="3" style="filter:blur(1.2px)"/>
</g>
<clipPath id="c5"><path d="M150.1 761.2C149.8 758.9 150.4 757.7 151.1 755.4C151.9 753.2 152.9 750.9 154.5 747.8C156.1 744.6 158.2 740.8 160.6 736.6C162.9 732.4 165.9 727.2 168.6 722.6C171.4 718 174.2 713.4 177 709.2C179.8 704.9 182.7 700.8 185.4 697C188.2 693.3 190.9 689.7 193.7 686.6C196.5 683.4 199.3 680.8 202.3 678.2C205.3 675.7 208.3 673.2 211.7 671.2C215 669.2 218.9 667.4 222.4 666.1C226 664.8 229.6 664 233.2 663.4C236.8 662.8 240.2 662.5 244 662.3C247.8 662.2 252 662.3 256.1 662.6C260.1 662.9 263.9 663.5 268.2 664.2C272.4 665 277.2 666.1 281.6 667.2C286.1 668.2 290.4 668.8 294.8 670.4C299.2 672 303.8 674.8 308 676.9C312.2 679 315.9 680.8 319.8 682.9C323.8 685 327.8 687 331.8 689.4C335.8 691.8 340.3 694.7 343.8 697.2C347.3 699.7 349.8 701.8 352.8 704.4C355.8 707.1 359.1 710.3 361.8 713.3C364.5 716.3 366.8 719.2 368.9 722.3C371.1 725.4 373.2 728.7 374.9 731.9C376.6 735.1 378.1 738.3 379.2 741.7C380.3 745.1 381 749.2 381.5 752.5C381.9 755.7 382.1 758.3 382 761.2C381.9 764.1 381.7 766.9 380.9 769.7C380.2 772.4 379 775.3 377.4 777.8C375.8 780.2 373.6 782.5 371.2 784.5C368.8 786.4 366.1 788.1 363 789.5C360 790.8 356.4 791.9 352.9 792.7C349.5 793.5 345.8 793.8 342.2 794.2C338.6 794.6 335 794.7 331.4 795C327.8 795.3 323.8 795.5 320.7 796.1C317.5 796.6 314.7 797.4 312.6 798.5C310.4 799.5 309.1 800.8 307.7 802.2C306.3 803.7 305.5 805.1 304.1 807C302.7 808.8 301.3 811.5 299.4 813.3C297.5 815.1 295.2 816.8 292.5 817.9C289.9 818.9 286.5 819.3 283.5 819.3C280.5 819.4 277.5 818.7 274.5 818C271.5 817.3 268.6 816.2 265.6 815.2C262.6 814.1 259.6 812.8 256.6 811.7C253.6 810.5 250.6 809.4 247.6 808.4C244.6 807.4 241.7 806.6 238.7 805.7C235.7 804.8 232.7 804 229.7 803.1C226.7 802.2 223.7 801.3 220.7 800.4C217.7 799.4 214.8 798.3 211.8 797.3C208.8 796.2 205.8 795.1 202.8 794.2C199.8 793.2 196.8 792.4 193.8 791.5C190.8 790.6 187.9 789.8 184.9 788.8C181.9 787.8 178.9 786.7 175.9 785.6C172.9 784.4 169.9 783.6 166.9 781.9C163.9 780.3 160.4 777.8 158 775.7C155.6 773.7 153.9 771.8 152.6 769.4C151.3 767 150.3 763.5 150.1 761.2Z"/></clipPath>
<g clip-path="url(#c5)">
<path d="M150.1 761.2C149.8 758.9 150.4 757.7 151.1 755.4C151.9 753.2 152.9 750.9 154.5 747.8C156.1 744.6 158.2 740.8 160.6 736.6C162.9 732.4 165.9 727.2 168.6 722.6C171.4 718 174.2 713.4 177 709.2C179.8 704.9 182.7 700.8 185.4 697C188.2 693.3 190.9 689.7 193.7 686.6C196.5 683.4 199.3 680.8 202.3 678.2C205.3 675.7 208.3 673.2 211.7 671.2C215 669.2 218.9 667.4 222.4 666.1C226 664.8 229.6 664 233.2 663.4C236.8 662.8 240.2 662.5 244 662.3C247.8 662.2 252 662.3 256.1 662.6C260.1 662.9 263.9 663.5 268.2 664.2C272.4 665 277.2 666.1 281.6 667.2C286.1 668.2 290.4 668.8 294.8 670.4C299.2 672 303.8 674.8 308 676.9C312.2 679 315.9 680.8 319.8 682.9C323.8 685 327.8 687 331.8 689.4C335.8 691.8 340.3 694.7 343.8 697.2C347.3 699.7 349.8 701.8 352.8 704.4C355.8 707.1 359.1 710.3 361.8 713.3C364.5 716.3 366.8 719.2 368.9 722.3C371.1 725.4 373.2 728.7 374.9 731.9C376.6 735.1 378.1 738.3 379.2 741.7C380.3 745.1 381 749.2 381.5 752.5C381.9 755.7 382.1 758.3 382 761.2C381.9 764.1 381.7 766.9 380.9 769.7C380.2 772.4 379 775.3 377.4 777.8C375.8 780.2 373.6 782.5 371.2 784.5C368.8 786.4 366.1 788.1 363 789.5C360 790.8 356.4 791.9 352.9 792.7C349.5 793.5 345.8 793.8 342.2 794.2C338.6 794.6 335 794.7 331.4 795C327.8 795.3 323.8 795.5 320.7 796.1C317.5 796.6 314.7 797.4 312.6 798.5C310.4 799.5 309.1 800.8 307.7 802.2C306.3 803.7 305.5 805.1 304.1 807C302.7 808.8 301.3 811.5 299.4 813.3C297.5 815.1 295.2 816.8 292.5 817.9C289.9 818.9 286.5 819.3 283.5 819.3C280.5 819.4 277.5 818.7 274.5 818C271.5 817.3 268.6 816.2 265.6 815.2C262.6 814.1 259.6 812.8 256.6 811.7C253.6 810.5 250.6 809.4 247.6 808.4C244.6 807.4 241.7 806.6 238.7 805.7C235.7 804.8 232.7 804 229.7 803.1C226.7 802.2 223.7 801.3 220.7 800.4C217.7 799.4 214.8 798.3 211.8 797.3C208.8 796.2 205.8 795.1 202.8 794.2C199.8 793.2 196.8 792.4 193.8 791.5C190.8 790.6 187.9 789.8 184.9 788.8C181.9 787.8 178.9 786.7 175.9 785.6C172.9 784.4 169.9 783.6 166.9 781.9C163.9 780.3 160.4 777.8 158 775.7C155.6 773.7 153.9 771.8 152.6 769.4C151.3 767 150.3 763.5 150.1 761.2Z" fill="#4E30D6"/>
<path d="M150.1 761.2C149.8 758.9 150.4 757.7 151.1 755.4C151.9 753.2 152.9 750.9 154.5 747.8C156.1 744.6 158.2 740.8 160.6 736.6C162.9 732.4 165.9 727.2 168.6 722.6C171.4 718 174.2 713.4 177 709.2C179.8 704.9 182.7 700.8 185.4 697C188.2 693.3 190.9 689.7 193.7 686.6C196.5 683.4 199.3 680.8 202.3 678.2C205.3 675.7 208.3 673.2 211.7 671.2C215 669.2 218.9 667.4 222.4 666.1C226 664.8 229.6 664 233.2 663.4C236.8 662.8 240.2 662.5 244 662.3C247.8 662.2 252 662.3 256.1 662.6C260.1 662.9 263.9 663.5 268.2 664.2C272.4 665 277.2 666.1 281.6 667.2C286.1 668.2 290.4 668.8 294.8 670.4C299.2 672 303.8 674.8 308 676.9C312.2 679 315.9 680.8 319.8 682.9C323.8 685 327.8 687 331.8 689.4C335.8 691.8 340.3 694.7 343.8 697.2C347.3 699.7 349.8 701.8 352.8 704.4C355.8 707.1 359.1 710.3 361.8 713.3C364.5 716.3 366.8 719.2 368.9 722.3C371.1 725.4 373.2 728.7 374.9 731.9C376.6 735.1 378.1 738.3 379.2 741.7C380.3 745.1 381 749.2 381.5 752.5C381.9 755.7 382.1 758.3 382 761.2C381.9 764.1 381.7 766.9 380.9 769.7C380.2 772.4 379 775.3 377.4 777.8C375.8 780.2 373.6 782.5 371.2 784.5C368.8 786.4 366.1 788.1 363 789.5C360 790.8 356.4 791.9 352.9 792.7C349.5 793.5 345.8 793.8 342.2 794.2C338.6 794.6 335 794.7 331.4 795C327.8 795.3 323.8 795.5 320.7 796.1C317.5 796.6 314.7 797.4 312.6 798.5C310.4 799.5 309.1 800.8 307.7 802.2C306.3 803.7 305.5 805.1 304.1 807C302.7 808.8 301.3 811.5 299.4 813.3C297.5 815.1 295.2 816.8 292.5 817.9C289.9 818.9 286.5 819.3 283.5 819.3C280.5 819.4 277.5 818.7 274.5 818C271.5 817.3 268.6 816.2 265.6 815.2C262.6 814.1 259.6 812.8 256.6 811.7C253.6 810.5 250.6 809.4 247.6 808.4C244.6 807.4 241.7 806.6 238.7 805.7C235.7 804.8 232.7 804 229.7 803.1C226.7 802.2 223.7 801.3 220.7 800.4C217.7 799.4 214.8 798.3 211.8 797.3C208.8 796.2 205.8 795.1 202.8 794.2C199.8 793.2 196.8 792.4 193.8 791.5C190.8 790.6 187.9 789.8 184.9 788.8C181.9 787.8 178.9 786.7 175.9 785.6C172.9 784.4 169.9 783.6 166.9 781.9C163.9 780.3 160.4 777.8 158 775.7C155.6 773.7 153.9 771.8 152.6 769.4C151.3 767 150.3 763.5 150.1 761.2Z" fill="none" stroke="#000" stroke-opacity="0.3" stroke-width="12" style="filter:blur(4px)"/>
<clipPath id="g5"><path d="M224.5 748.4C224.9 746.2 226.1 743.6 227.8 741.7C229.5 739.8 231.6 738.6 234.6 737C237.5 735.4 241.7 733.6 245.3 732.3C248.9 730.9 252 729.8 256.1 728.9C260.1 728 265 727.4 269.5 726.9C274 726.5 278.5 726.1 283 726.2C287.5 726.3 292.2 726.7 296.4 727.6C300.7 728.5 304.7 729.9 308.5 731.6C312.4 733.3 316.2 735.5 319.3 737.7C322.4 739.8 324.9 742.2 327.4 744.4C329.8 746.6 332.2 748.9 334.1 751.1C336 753.4 338.4 755.6 338.8 757.9C339.3 760.1 338.3 762.6 336.8 764.6C335.3 766.6 332.5 768.4 330.1 770C327.6 771.5 324.7 772.8 322 774C319.3 775.2 315.9 776 313.9 777.4C311.9 778.7 310.9 780.2 309.9 782.1C308.9 784 308.2 786.3 307.9 788.8C307.5 791.3 308.4 794.6 307.9 796.9C307.3 799.1 306.4 800.7 304.5 802.2C302.6 803.8 299.3 805.2 296.4 806.3C293.5 807.4 290.4 808.6 287 809C283.7 809.3 279.8 809.1 276.3 808.3C272.7 807.5 269.1 805.9 265.5 804.3C261.9 802.6 258.3 800.6 254.7 798.2C251.1 795.9 247.1 792.8 244 790.1C240.8 787.4 238.4 785 235.9 782.1C233.4 779.2 230.7 775.8 229.2 772.6C227.6 769.5 227.2 766.1 226.5 763.2C225.8 760.3 225.5 757.6 225.1 755.2C224.8 752.7 224 750.7 224.5 748.4Z"/></clipPath>
<path d="M269.5 661L264.1 666.4L262.1 673.1L256.1 675.1L252 679.8L252.7 685.2L256.7 687.2L258.1 691.9L260.8 694.6L258.8 701.3L256.7 704.7L260.1 707.4L261.5 712.1L258.8 717.1L269.5 717.5L283 717.5L296.4 718.8L309.9 721.5L323.3 725.6L335.4 733.6L336.8 725.6L338.1 714.1L344.9 718.8L352.9 725.6L359.7 732.3L363.7 739L367.7 747.1L370.4 752.5L374.5 756.5L375.1 763.2L373.1 768.6L377.2 768.9L383.9 770.6L386.6 752.5L377.2 725.6L350.2 698.7L309.9 671.8Z" fill="#FBF03C"/>
<path d="M218.4 745.7L222.4 736.3L229.2 729.6L238.6 722.9L249.3 718.8L258.8 717.1L269.5 717.5L283 717.5L296.4 718.8L309.9 721.5L323.3 725.6L335.4 733.6L336.8 725.6L338.1 714.1L344.9 718.8L352.9 725.6L359.7 732.3L363.7 739L367.7 747.1L370.4 752.5L374.5 756.5L375.1 763.2L373.1 768.6L366.4 770L363.7 775.3L357 778.7L347.6 779.4L336.8 780.7L328.7 778.7L320.7 776.7L313.9 777.4L296.4 765.9L256.1 752.5L226.5 763.2L225.1 755.2L223.8 751.1L219.8 751.1Z" fill="#B6F066"/>
<path d="M211.7 735L214.4 729.6L221.1 725.6L229.2 721.5L237.2 714.8L242.6 710.1L249.3 707.4L256.1 706.1L260.1 707.4L261.5 712.1L258.8 717.1L249.3 718.8L238.6 722.9L229.2 729.6L222.4 736.3L219.1 744.4L215.7 739L212.4 739Z" fill="#82EC80"/>
<path d="M229.2 671.8L234.6 674.4L239.9 679.8L246.7 683.9L253.4 685.2L257.4 687.9L260.8 694.6L258.8 701.3L256.7 704.7L253.4 706.7L246.7 708.7L241.3 709.4L235.9 704L230.5 698.7L226.5 691.9L223.8 685.2L221.8 679.8L225.1 674.4Z" fill="#5EEAA6"/>
<path d="M225.1 663.7L221.1 669.1L215.7 671.8L210.3 674.4L205 678.5L200.9 682.5L194.2 683.9L200.9 675.8L210.3 669.1L221.1 663.7Z" fill="#7CEC84"/>
<path d="M186.8 695.3L185.9 702.7L182.1 708.3L176.7 708.7L182.1 700Z" fill="#7CEC84"/>
<path d="M182.1 708.1L186.1 708.7L190.2 713.5L194.2 721.5L198.2 729.6L200.9 737.7L205 744.4L203.6 749.8L198.2 751.1L192.8 750.5L187.5 747.8L180.7 748.4L172.7 751.1L165.9 755.2L160.6 759.2L155.2 761.9L151.8 762.6L147.1 760.5L149.1 754.5L153.8 746.4L160.6 735L168.6 720.9L175.4 711.4Z" fill="#F2EE42"/>
<path d="M170 722.9L175.4 733.6L174 744.4L168.6 752.5L160.6 759.2L155.2 761.9L151.8 762.6L147.1 760.5L149.1 754.5L153.8 746.4L160.6 735Z" fill="#FFDA3C"/>
<path d="M158.8 767.8L166.9 765.1L177.6 762.8L189.3 764.2L202.8 767.8L213.6 771.4L222.4 774L227.8 771.3L223.8 775.3L229.2 782.1L237.2 790.1L245.3 798.2L251 804.7L242.6 802.2L229.2 797.1L215.7 793.2L202.8 790.4L187.5 787.7L186.7 784.8L179.4 782.7L171.3 783.4L169.6 783L161.5 777.6Z" fill="#7AE888"/>
<path d="M187.5 787.4L202.8 790.1L215.7 793L229.2 796.9L242.6 802L252 805.6L261.5 810.3L269.5 814.4L277.6 817L287 815.7L289.7 821.8L274.9 820.4L256.1 813.7L238.6 807.6L221.1 802.2L202.3 796.2L184.8 790.8Z" fill="#E6E644"/>
<path d="M222.4 774L227.8 771.3L242.6 772.6L269.5 786.1L296.4 792.8L304.5 802.9L303.2 806.3L299.1 810.3L293.7 814.4L287 815.7L277.6 817L269.5 814.4L261.5 810.3L252 806.3L245.3 798.2L237.2 790.1L229.2 782.1L223.8 775.3Z" fill="#FFD83C"/>
<path d="M377.2 765.9L382.5 764.6L382.5 774L377.8 774Z" fill="#7CEC84"/>
<path d="M224.5 748.4C224.9 746.2 226.1 743.6 227.8 741.7C229.5 739.8 231.6 738.6 234.6 737C237.5 735.4 241.7 733.6 245.3 732.3C248.9 730.9 252 729.8 256.1 728.9C260.1 728 265 727.4 269.5 726.9C274 726.5 278.5 726.1 283 726.2C287.5 726.3 292.2 726.7 296.4 727.6C300.7 728.5 304.7 729.9 308.5 731.6C312.4 733.3 316.2 735.5 319.3 737.7C322.4 739.8 324.9 742.2 327.4 744.4C329.8 746.6 332.2 748.9 334.1 751.1C336 753.4 338.4 755.6 338.8 757.9C339.3 760.1 338.3 762.6 336.8 764.6C335.3 766.6 332.5 768.4 330.1 770C327.6 771.5 324.7 772.8 322 774C319.3 775.2 315.9 776 313.9 777.4C311.9 778.7 310.9 780.2 309.9 782.1C308.9 784 308.2 786.3 307.9 788.8C307.5 791.3 308.4 794.6 307.9 796.9C307.3 799.1 306.4 800.7 304.5 802.2C302.6 803.8 299.3 805.2 296.4 806.3C293.5 807.4 290.4 808.6 287 809C283.7 809.3 279.8 809.1 276.3 808.3C272.7 807.5 269.1 805.9 265.5 804.3C261.9 802.6 258.3 800.6 254.7 798.2C251.1 795.9 247.1 792.8 244 790.1C240.8 787.4 238.4 785 235.9 782.1C233.4 779.2 230.7 775.8 229.2 772.6C227.6 769.5 227.2 766.1 226.5 763.2C225.8 760.3 225.5 757.6 225.1 755.2C224.8 752.7 224 750.7 224.5 748.4Z" fill="#707070"/>
<path d="M264.2 738.8C264.2 738.3 270.2 736.5 273.3 735.9C276.4 735.2 279.2 734.9 283 734.9C286.8 734.8 292.2 734.7 296 735.5C299.8 736.3 302.5 738 305.7 739.7C308.9 741.5 312.7 744.1 315.4 746.2C318.1 748.4 320.2 750.7 321.9 752.7C323.6 754.6 325.2 756.4 325.8 757.9C326.3 759.4 326.1 760.8 325.1 761.8C324.1 762.7 321.8 763.6 319.9 763.7C318.1 763.8 315.6 763.3 314.1 762.4C312.6 761.5 311.5 759.7 310.9 758.5C310.2 757.3 311.1 756.7 310.2 755.3C309.4 753.9 307.5 751.8 305.7 750.1C303.9 748.4 301.4 746.3 299.2 744.9C297.1 743.5 295.4 742.7 292.7 741.7C290 740.7 286.3 739.6 283 739.1C279.8 738.5 276.4 738.5 273.3 738.4C270.2 738.4 264.2 739.2 264.2 738.8Z" fill="#4B4B4B" clip-path="url(#g5)"/>
<path d="M227.3 761.8C228.6 759.2 233.6 758.4 236.4 756.6C239.2 754.7 241.7 752.4 244.2 750.7C246.6 749.1 249.1 747.7 251.3 746.9C253.4 746 255.7 745.5 257.1 745.6C258.5 745.7 258.1 747.3 259.7 747.5C261.3 747.7 264 746.5 266.8 746.5C269.6 746.5 273.3 746.8 276.5 747.5C279.8 748.2 283.6 749.5 286.3 750.7C289 752 291.1 753.4 292.7 755.3C294.4 757.1 295.1 759.5 296 761.8C296.8 764 297.5 766.8 297.9 768.9C298.3 770.9 298.9 772.6 298.6 774.1C298.2 775.6 297.2 777.5 296 778C294.8 778.4 292.5 777.6 291.4 776.7C290.4 775.7 290 774 289.5 772.1C289 770.3 289 767.6 288.2 765.7C287.4 763.7 286.4 762 285 760.5C283.6 758.9 281.7 757.5 279.8 756.6C277.8 755.6 275.5 754.9 273.3 754.6C271.1 754.4 269 754.6 266.8 755.3C264.7 755.9 262.1 757.3 260.4 758.5C258.6 759.7 258 761.8 256.5 762.4C255 763.1 253 762.1 251.3 762.4C249.5 762.7 247.4 763.3 246.1 764.3C244.8 765.4 243.8 767 243.5 768.9C243.2 770.7 243.5 773.2 244.2 775.4C244.8 777.5 246 779.9 247.4 781.8C248.8 783.8 250.4 785.6 252.6 787C254.7 788.4 257.4 789.5 260.4 790.3C263.3 791 266.8 791.4 270.1 791.6C273.3 791.7 277.1 791.4 279.8 790.9C282.5 790.4 284.6 788.9 286.3 788.3C287.9 787.8 288.6 787.6 289.5 787.7C290.4 787.8 291.4 788.1 291.4 789C291.4 789.8 289.3 791.6 289.5 792.9C289.7 794.2 291.1 795.9 292.7 796.7C294.4 797.6 296.8 798.3 299.2 798C301.6 797.8 305.5 794.4 307 795.4C308.5 796.5 309.6 801.7 308.3 804.5C307 807.3 304 811.2 299.2 812.3C294.5 813.4 285.2 812 279.8 811C274.4 810 271.7 808.6 266.8 806.5C262 804.3 254.4 800.8 250.6 798.3C246.8 795.8 246.3 793.8 244.2 791.6C242 789.3 239.7 787.2 237.7 785.1C235.6 782.9 233.4 780.8 231.8 778.6C230.3 776.4 229.4 774.9 228.6 772.1C227.8 769.3 226 764.4 227.3 761.8Z" fill="#4B4B4B" clip-path="url(#g5)"/>
<path d="M256.5 768.9C258.2 767.6 264.5 768 265.5 768.6C266.6 769.1 263.5 770.9 262.9 772.1C262.4 773.4 261.9 774.9 262.3 776C262.7 777.1 264.2 777.7 265.5 778.6C266.8 779.5 269.9 780.5 270.1 781.2C270.3 781.8 268.4 782.2 266.8 782.5C265.2 782.8 261.5 782.7 260.4 783.1C259.2 783.6 260.3 785.2 259.7 785.1C259 785 257.2 784 256.5 782.5C255.7 781 255.2 778.3 255.2 776C255.2 773.7 254.7 770.1 256.5 768.9Z" fill="#4B4B4B" clip-path="url(#g5)"/>
<path d="M267.5 765.7C268.2 765.2 269.8 764.8 271.4 765C272.9 765.2 274.7 766.1 276.5 766.9C278.4 767.8 281.8 769.4 282.4 770.2C282.9 770.9 281.1 771.5 279.8 771.5C278.5 771.5 276.2 770.7 274.6 770.2C273 769.6 271.4 768.7 270.1 768.2C268.8 767.8 267.3 768 266.8 767.6C266.4 767.2 266.7 766.1 267.5 765.7Z" fill="#4B4B4B" clip-path="url(#g5)"/>
<path d="M308.9 775.4C311.6 774.4 317.5 774.2 318.6 774.7C319.8 775.3 317.8 777.7 316 778.6C314.3 779.5 309.6 778.7 308.3 779.9C307 781.1 309.4 784.9 308.3 785.7C307.2 786.6 302.8 785.9 301.8 785.1C300.8 784.2 301.3 782.2 302.4 780.5C303.6 778.9 306.2 776.3 308.9 775.4Z" fill="#4B4B4B" clip-path="url(#g5)"/>
<path d="M289.5 796.7C290.9 796.7 293.8 799.3 296 800C298.1 800.6 301.6 800.1 302.4 800.6C303.3 801.2 302.8 802.9 301.2 803.2C299.5 803.5 295 803.1 292.7 802.6C290.5 802 288.1 800.9 287.6 800C287 799 288.1 796.7 289.5 796.7Z" fill="#707070" clip-path="url(#g5)"/>
<path d="M273.3 800C274.6 800.1 277.6 802.5 279.8 803.2C281.9 804 285.4 803.9 286.3 804.5C287.1 805.2 286.5 806.9 285 807.1C283.4 807.3 279.3 806.6 277.2 805.8C275 805.1 272.7 803.5 272 802.6C271.4 801.6 272 799.9 273.3 800Z" fill="#707070" clip-path="url(#g5)"/>
<path d="M210.3 696C213.5 696.9 223.8 700.2 229.2 701.3C234.6 702.5 240.4 702.5 242.6 702.7" fill="none" stroke="#fff" stroke-opacity="0.05" stroke-width="30" stroke-linecap="round" style="filter:blur(6px)"/>
<path d="M344.9 741.7C346.9 743.5 355 750.7 357 752.5" fill="none" stroke="#fff" stroke-opacity="0.06" stroke-width="20" stroke-linecap="round" style="filter:blur(6px)"/>
<rect x="148.1" y="660.3" width="235.9" height="161" fill="url(#shd)"/>
<path d="M150.1 761.2C149.8 758.9 150.4 757.7 151.1 755.4C151.9 753.2 152.9 750.9 154.5 747.8C156.1 744.6 158.2 740.8 160.6 736.6C162.9 732.4 165.9 727.2 168.6 722.6C171.4 718 174.2 713.4 177 709.2C179.8 704.9 182.7 700.8 185.4 697C188.2 693.3 190.9 689.7 193.7 686.6C196.5 683.4 199.3 680.8 202.3 678.2C205.3 675.7 208.3 673.2 211.7 671.2C215 669.2 218.9 667.4 222.4 666.1C226 664.8 229.6 664 233.2 663.4C236.8 662.8 240.2 662.5 244 662.3C247.8 662.2 252 662.3 256.1 662.6C260.1 662.9 263.9 663.5 268.2 664.2C272.4 665 277.2 666.1 281.6 667.2C286.1 668.2 290.4 668.8 294.8 670.4C299.2 672 303.8 674.8 308 676.9C312.2 679 315.9 680.8 319.8 682.9C323.8 685 327.8 687 331.8 689.4C335.8 691.8 340.3 694.7 343.8 697.2C347.3 699.7 349.8 701.8 352.8 704.4C355.8 707.1 359.1 710.3 361.8 713.3C364.5 716.3 366.8 719.2 368.9 722.3C371.1 725.4 373.2 728.7 374.9 731.9C376.6 735.1 378.1 738.3 379.2 741.7C380.3 745.1 381 749.2 381.5 752.5C381.9 755.7 382.1 758.3 382 761.2C381.9 764.1 381.7 766.9 380.9 769.7C380.2 772.4 379 775.3 377.4 777.8C375.8 780.2 373.6 782.5 371.2 784.5C368.8 786.4 366.1 788.1 363 789.5C360 790.8 356.4 791.9 352.9 792.7C349.5 793.5 345.8 793.8 342.2 794.2C338.6 794.6 335 794.7 331.4 795C327.8 795.3 323.8 795.5 320.7 796.1C317.5 796.6 314.7 797.4 312.6 798.5C310.4 799.5 309.1 800.8 307.7 802.2C306.3 803.7 305.5 805.1 304.1 807C302.7 808.8 301.3 811.5 299.4 813.3C297.5 815.1 295.2 816.8 292.5 817.9C289.9 818.9 286.5 819.3 283.5 819.3C280.5 819.4 277.5 818.7 274.5 818C271.5 817.3 268.6 816.2 265.6 815.2C262.6 814.1 259.6 812.8 256.6 811.7C253.6 810.5 250.6 809.4 247.6 808.4C244.6 807.4 241.7 806.6 238.7 805.7C235.7 804.8 232.7 804 229.7 803.1C226.7 802.2 223.7 801.3 220.7 800.4C217.7 799.4 214.8 798.3 211.8 797.3C208.8 796.2 205.8 795.1 202.8 794.2C199.8 793.2 196.8 792.4 193.8 791.5C190.8 790.6 187.9 789.8 184.9 788.8C181.9 787.8 178.9 786.7 175.9 785.6C172.9 784.4 169.9 783.6 166.9 781.9C163.9 780.3 160.4 777.8 158 775.7C155.6 773.7 153.9 771.8 152.6 769.4C151.3 767 150.3 763.5 150.1 761.2Z" fill="none" stroke="#000" stroke-opacity="0.22" stroke-width="3" style="filter:blur(1.2px)"/>
</g>
<clipPath id="c6"><path d="M520.1 760.1C519.7 757.2 519.9 754.9 520.1 752.5C520.2 750.1 520.2 748.5 520.9 745.7C521.5 742.9 522.6 738.8 523.8 735.7C525.1 732.5 526.5 729.8 528.3 726.8C530.1 723.8 532.2 720.8 534.6 717.8C537 714.8 539.8 711.6 542.7 708.7C545.5 705.9 548.4 703.2 551.7 700.4C555 697.6 558.6 694.9 562.4 692.2C566.3 689.5 570.8 686.5 575 684.1C579.1 681.8 583.3 679.9 587.5 677.9C591.7 676 595.9 674.1 600.1 672.6C604.3 671 608.3 669.7 612.6 668.5C617 667.3 621.6 666.3 626.1 665.4C630.6 664.6 635 663.9 639.5 663.4C644 662.9 648.5 662.5 653 662.3C657.5 662.2 662.7 662.3 666.4 662.6C670.2 662.9 673 663.3 675.4 664C677.9 664.6 679.1 665.4 681.2 666.4C683.3 667.4 685.4 668.3 688.1 669.9C690.7 671.4 694.3 673.6 697.1 675.8C700 678 702.6 680.4 705.2 682.9C707.7 685.5 710.1 688.3 712.3 691C714.6 693.7 716.5 696.5 718.6 699.3C720.7 702.2 722.9 705.2 725 708.2C727 711.2 729.2 714.2 731.1 717.2C733.1 720.2 734.7 723.2 736.5 726.2C738.3 729.2 740.2 732.2 741.9 735.3C743.6 738.3 745.1 741.3 746.5 744.4C747.8 747.5 749.1 751.1 750 753.7C750.9 756.3 751.7 758.1 752 760.1C752.2 762.2 752.1 764 751.5 766.2C750.8 768.4 749.8 771 748.2 773.2C746.7 775.4 744.6 777.5 742.3 779.4C740 781.2 737.3 782.9 734.5 784.2C731.7 785.5 728.6 786.2 725.6 787C722.6 787.9 719.6 788.6 716.6 789.3C713.6 790.1 710.6 790.7 707.6 791.5C704.6 792.2 701.7 793 698.7 793.8C695.7 794.5 692.7 795.2 689.7 796.1C686.7 796.9 683.7 797.9 680.7 798.7C677.7 799.6 674.8 800.4 671.8 801.4C668.8 802.4 665.8 803.6 662.8 804.8C659.8 806 656.8 807.2 653.8 808.4C650.8 809.6 647.9 810.9 644.9 812.1C641.9 813.2 638.9 814.5 635.9 815.4C632.9 816.4 629.9 817.3 626.9 817.9C623.9 818.4 620.7 819 618 818.9C615.3 818.9 613 818.5 610.7 817.7C608.5 816.9 606.1 815.5 604.6 814.1C603 812.7 602.3 810.8 601.2 809.2C600.1 807.6 599.1 806 597.8 804.5C596.6 803.1 595.2 801.6 593.8 800.5C592.3 799.4 591 798.5 589.1 797.8C587.2 797.1 585.2 796.8 582.4 796.5C579.6 796.1 575.6 796.1 572.3 795.8C568.9 795.5 565.5 795.3 562.2 794.8C558.8 794.4 555.3 794.1 552.1 793.4C548.8 792.6 545.6 791.9 542.7 790.5C539.8 789.2 537.2 787.2 534.6 785.2C532 783.1 529.2 780.5 527.2 778C525.2 775.5 523.7 773.2 522.5 770.2C521.3 767.2 520.5 763.1 520.1 760.1Z"/></clipPath>
<g clip-path="url(#c6)">
<path d="M520.1 760.1C519.7 757.2 519.9 754.9 520.1 752.5C520.2 750.1 520.2 748.5 520.9 745.7C521.5 742.9 522.6 738.8 523.8 735.7C525.1 732.5 526.5 729.8 528.3 726.8C530.1 723.8 532.2 720.8 534.6 717.8C537 714.8 539.8 711.6 542.7 708.7C545.5 705.9 548.4 703.2 551.7 700.4C555 697.6 558.6 694.9 562.4 692.2C566.3 689.5 570.8 686.5 575 684.1C579.1 681.8 583.3 679.9 587.5 677.9C591.7 676 595.9 674.1 600.1 672.6C604.3 671 608.3 669.7 612.6 668.5C617 667.3 621.6 666.3 626.1 665.4C630.6 664.6 635 663.9 639.5 663.4C644 662.9 648.5 662.5 653 662.3C657.5 662.2 662.7 662.3 666.4 662.6C670.2 662.9 673 663.3 675.4 664C677.9 664.6 679.1 665.4 681.2 666.4C683.3 667.4 685.4 668.3 688.1 669.9C690.7 671.4 694.3 673.6 697.1 675.8C700 678 702.6 680.4 705.2 682.9C707.7 685.5 710.1 688.3 712.3 691C714.6 693.7 716.5 696.5 718.6 699.3C720.7 702.2 722.9 705.2 725 708.2C727 711.2 729.2 714.2 731.1 717.2C733.1 720.2 734.7 723.2 736.5 726.2C738.3 729.2 740.2 732.2 741.9 735.3C743.6 738.3 745.1 741.3 746.5 744.4C747.8 747.5 749.1 751.1 750 753.7C750.9 756.3 751.7 758.1 752 760.1C752.2 762.2 752.1 764 751.5 766.2C750.8 768.4 749.8 771 748.2 773.2C746.7 775.4 744.6 777.5 742.3 779.4C740 781.2 737.3 782.9 734.5 784.2C731.7 785.5 728.6 786.2 725.6 787C722.6 787.9 719.6 788.6 716.6 789.3C713.6 790.1 710.6 790.7 707.6 791.5C704.6 792.2 701.7 793 698.7 793.8C695.7 794.5 692.7 795.2 689.7 796.1C686.7 796.9 683.7 797.9 680.7 798.7C677.7 799.6 674.8 800.4 671.8 801.4C668.8 802.4 665.8 803.6 662.8 804.8C659.8 806 656.8 807.2 653.8 808.4C650.8 809.6 647.9 810.9 644.9 812.1C641.9 813.2 638.9 814.5 635.9 815.4C632.9 816.4 629.9 817.3 626.9 817.9C623.9 818.4 620.7 819 618 818.9C615.3 818.9 613 818.5 610.7 817.7C608.5 816.9 606.1 815.5 604.6 814.1C603 812.7 602.3 810.8 601.2 809.2C600.1 807.6 599.1 806 597.8 804.5C596.6 803.1 595.2 801.6 593.8 800.5C592.3 799.4 591 798.5 589.1 797.8C587.2 797.1 585.2 796.8 582.4 796.5C579.6 796.1 575.6 796.1 572.3 795.8C568.9 795.5 565.5 795.3 562.2 794.8C558.8 794.4 555.3 794.1 552.1 793.4C548.8 792.6 545.6 791.9 542.7 790.5C539.8 789.2 537.2 787.2 534.6 785.2C532 783.1 529.2 780.5 527.2 778C525.2 775.5 523.7 773.2 522.5 770.2C521.3 767.2 520.5 763.1 520.1 760.1Z" fill="#4E30D6"/>
<path d="M520.1 760.1C519.7 757.2 519.9 754.9 520.1 752.5C520.2 750.1 520.2 748.5 520.9 745.7C521.5 742.9 522.6 738.8 523.8 735.7C525.1 732.5 526.5 729.8 528.3 726.8C530.1 723.8 532.2 720.8 534.6 717.8C537 714.8 539.8 711.6 542.7 708.7C545.5 705.9 548.4 703.2 551.7 700.4C555 697.6 558.6 694.9 562.4 692.2C566.3 689.5 570.8 686.5 575 684.1C579.1 681.8 583.3 679.9 587.5 677.9C591.7 676 595.9 674.1 600.1 672.6C604.3 671 608.3 669.7 612.6 668.5C617 667.3 621.6 666.3 626.1 665.4C630.6 664.6 635 663.9 639.5 663.4C644 662.9 648.5 662.5 653 662.3C657.5 662.2 662.7 662.3 666.4 662.6C670.2 662.9 673 663.3 675.4 664C677.9 664.6 679.1 665.4 681.2 666.4C683.3 667.4 685.4 668.3 688.1 669.9C690.7 671.4 694.3 673.6 697.1 675.8C700 678 702.6 680.4 705.2 682.9C707.7 685.5 710.1 688.3 712.3 691C714.6 693.7 716.5 696.5 718.6 699.3C720.7 702.2 722.9 705.2 725 708.2C727 711.2 729.2 714.2 731.1 717.2C733.1 720.2 734.7 723.2 736.5 726.2C738.3 729.2 740.2 732.2 741.9 735.3C743.6 738.3 745.1 741.3 746.5 744.4C747.8 747.5 749.1 751.1 750 753.7C750.9 756.3 751.7 758.1 752 760.1C752.2 762.2 752.1 764 751.5 766.2C750.8 768.4 749.8 771 748.2 773.2C746.7 775.4 744.6 777.5 742.3 779.4C740 781.2 737.3 782.9 734.5 784.2C731.7 785.5 728.6 786.2 725.6 787C722.6 787.9 719.6 788.6 716.6 789.3C713.6 790.1 710.6 790.7 707.6 791.5C704.6 792.2 701.7 793 698.7 793.8C695.7 794.5 692.7 795.2 689.7 796.1C686.7 796.9 683.7 797.9 680.7 798.7C677.7 799.6 674.8 800.4 671.8 801.4C668.8 802.4 665.8 803.6 662.8 804.8C659.8 806 656.8 807.2 653.8 808.4C650.8 809.6 647.9 810.9 644.9 812.1C641.9 813.2 638.9 814.5 635.9 815.4C632.9 816.4 629.9 817.3 626.9 817.9C623.9 818.4 620.7 819 618 818.9C615.3 818.9 613 818.5 610.7 817.7C608.5 816.9 606.1 815.5 604.6 814.1C603 812.7 602.3 810.8 601.2 809.2C600.1 807.6 599.1 806 597.8 804.5C596.6 803.1 595.2 801.6 593.8 800.5C592.3 799.4 591 798.5 589.1 797.8C587.2 797.1 585.2 796.8 582.4 796.5C579.6 796.1 575.6 796.1 572.3 795.8C568.9 795.5 565.5 795.3 562.2 794.8C558.8 794.4 555.3 794.1 552.1 793.4C548.8 792.6 545.6 791.9 542.7 790.5C539.8 789.2 537.2 787.2 534.6 785.2C532 783.1 529.2 780.5 527.2 778C525.2 775.5 523.7 773.2 522.5 770.2C521.3 767.2 520.5 763.1 520.1 760.1Z" fill="none" stroke="#000" stroke-opacity="0.3" stroke-width="12" style="filter:blur(4px)"/>
<path d="M513.1 763.2L513.1 739L531.9 705.4L558.8 682.5L599.2 662.3L653 655.6L693.3 661L720.2 689.2L739.1 717.5L725.6 717.5L722.9 724.2L724.3 730.9L722.9 739L720.2 747.1L716.2 752.5L709.5 755.2L702.8 758.5L698.7 753.1L693.3 757.9L685.3 763.2L677.2 768.6L669.1 774L661.1 779.4L653 784.8L644.9 788.8L636.8 792.8L628.8 796.9L619.3 799.6L612.6 803.6L609.9 809L604.6 807.6L601.9 804.9L599.2 800.9L597.8 796.9L593.8 798.2L588.4 798.2L585.7 794.2L580.3 790.8L575 787.4L569.6 784.8L566.2 781.4L569.6 779.4L570.9 775.3L566.9 770L564.2 764.6L565.5 759.9L572.3 755.2L577.6 751.1L581.7 751.1L584.4 755.2L591.1 754.5L599.2 752.5L607.2 750.5L612.6 747.1L604.6 745.7L601.9 741.7L601.2 733.6L601.9 725.6L604.6 718.8L607.2 713.5L605.9 708.1L603.2 702.7L599.2 700L592.4 705.4L587.1 709.4L589.1 714.8L589.8 722.9L588.4 730.9L585.7 736.3L581.7 739L575 740.4L568.2 741.7L562.8 747.1L556.1 752.5L549.4 757.9L544 758.5L538.6 761.9L535.3 767.3L531.9 768.6L530.6 763.2L529.9 756.5L525.2 757.9Z" fill="#F4EE42"/>
<path d="M513.1 760.5L518.5 744.4L529.2 725.6L540 717.5L545.4 718.8L552.1 717.5L556.8 716.8L556.1 721.5L549.4 725.6L544 732.3L538.6 740.4L534.6 748.4L530.6 755.2L529.9 756.5L525.2 757.9Z" fill="#FFC840"/>
<path d="M601.9 689.2L603.2 694.6L599.2 700L592.4 705.4L587.1 709.4L580.3 710.8L572.3 712.1L565.5 717.5L558.8 724.2L552.1 732.3L546.7 739L542.7 744.4L540 752.5L538.6 761.9L535.3 767.3L531.9 768.6L530.6 763.2L529.9 756.5L531.9 751.1L535.9 744.4L540 736.3L545.4 729.6L550.7 724.2L557.5 717.5L564.2 710.8L570.9 704L577.6 698.7L585.7 693.3L593.8 689.9Z" fill="#B2E860"/>
<path d="M585.7 710.1L589.1 714.8L589.8 722.9L588.4 730.9L585.7 736.3L581.7 739L575 740.4L568.2 741.7L562.8 747.1L556.1 752.5L549.4 757.9L544 758.5L540.7 755.2L541.3 748.4L545.4 743.1L552.1 739L558.8 736.3L562.8 730.9L568.2 724.2L575 716.1L581.7 710.8Z" fill="#FFDA40"/>
<path d="M612.6 673.1C614.4 672 617.1 671.8 619.3 671.8C621.6 671.8 624.5 672 626.1 673.1C627.6 674.2 628.8 676.5 628.8 678.5C628.8 680.5 627.4 683.2 626.1 685.2C624.7 687.2 622.9 689.2 620.7 690.6C618.5 691.9 615.1 692.6 612.6 693.3C610.2 694 607.5 695.1 605.9 694.6C604.3 694.2 603.4 692.2 603.2 690.6C603 689 603.7 687.2 604.6 685.2C605.4 683.2 607.2 680.5 608.6 678.5C609.9 676.5 610.8 674.2 612.6 673.1Z" fill="#FFD840"/>
<path d="M630.1 666.4L639.5 663.7L647.6 663.7L657 665L653 674.4L647.6 682.5L642.2 690.6L639.5 698.7L636.8 706.7L632.8 714.8L628.8 722.9L624.7 729.6L619.3 732.3L614 731.6L612.6 725.6L614 717.5L616.7 709.4L619.3 701.3L623.4 693.3L626.1 685.2L628.8 678.5L630.1 671.8Z" fill="#B8EC5C"/>
<path d="M679.9 673.1L685.3 670.4L693.3 671.1L701.4 675.1L708.1 682.5L710.8 689.2L706.8 691.9L701.4 687.2L693.3 687.9L685.3 688.6L678.5 689.9L675.9 685.2L677.2 678.5Z" fill="#7AEC90"/>
<path d="M639.5 721.5L644.9 716.1L650.3 712.1L657 708.1L666.4 705.4L677.2 704.7L688 705.4L698.7 708.1L706.8 712.1L714.9 717.5L720.2 722.9L722.9 730.9L722.9 739L717.6 735L712.2 728.3L705.4 721.5L697.4 717.5L690.7 712.8L686.6 710.8L683.3 712.1L679.9 716.1L675.9 718.8L673.2 718.8L669.1 721.5L667.8 725.6L663.7 729.6L658.4 733.6L653 737.7L647.6 733.6L642.2 730.9L638.2 726.9Z" fill="#B0EC60"/>
<path d="M612.6 733.6C615.1 732.7 617.1 732.7 619.3 732.3C621.6 731.8 623.6 731.1 626.1 730.9C628.5 730.8 631.5 731.4 634.1 731.6C636.8 731.8 640 731.7 642.2 732.3C644.5 732.9 645.8 734.1 647.6 735C649.4 735.9 653.2 736.8 653 737.7C652.8 738.6 648.5 739.5 646.3 740.4C644 741.3 641.8 742.2 639.5 743.1C637.3 744 635 745 632.8 745.7C630.6 746.5 628.3 747.3 626.1 747.8C623.8 748.2 621.6 748.5 619.3 748.4C617.1 748.3 615.1 747.5 612.6 747.1C610.2 746.6 606.3 746.6 604.6 745.7C602.8 744.8 601.9 743.1 601.9 741.7C601.9 740.4 602.8 739 604.6 737.7C606.3 736.3 610.2 734.5 612.6 733.6Z" fill="#FFDC40"/>
<path d="M577.6 751.1L581.7 751.1L584.4 755.2L591.1 754.5L599.2 752.5L607.2 750.5L615.3 749.8L623.4 748.4L632.8 745.7L634.1 748.4L626.1 752.5L619.3 757.9L612.6 763.2L608.6 768.6L603.2 775.3L599.2 782.1L596.5 790.1L595.1 798.2L588.4 798.2L585.7 794.2L580.3 790.8L575 787.4L569.6 784.8L566.2 781.4L569.6 779.4L570.9 775.3L566.9 770L564.2 764.6L565.5 759.9L572.3 755.2Z" fill="#72E890"/>
<path d="M601.9 804.9L605.9 799.6L609.9 792.8L615.3 786.1L620.7 779.4L626.1 774L634.1 770L639.5 772.6L632.8 776.7L626.1 782.1L620.7 788.8L616.7 795.5L612.6 803.6L609.9 809L604.6 807.6Z" fill="#FFC840"/>
<path d="M533.9 784.8L540 783.4L546.7 783.4L553.4 784.8L558.8 787.4L562.8 791.5L569.6 793.5L577.6 795.5L576.3 799.6L558.8 794.2L545.4 790.1L533.3 787.4Z" fill="#E8E044"/>
<path d="M673.2 718.8L677.2 721.5L677.9 728.3L675.9 735L673.2 741.7L669.1 747.1L663.7 752.5L657 757.9L650.3 761.9L642.2 765.9L634.1 770L626.1 774L619.3 779.4L612.6 786.1L607.2 792.8L601.9 799.6L599.2 800.9L597.8 796.9L595.1 798.2L596.5 790.1L599.2 782.1L603.2 775.3L608.6 768.6L612.6 763.2L619.3 757.9L626.1 752.5L634.1 748.4L632.8 745.7L639.5 743.1L646.3 740.4L653 737.7L658.4 733.6L663.7 729.6L667.8 725.6L669.1 721.5Z" fill="#4E30D6"/>
<path d="M580.3 772.6L585.7 772L591.1 774L595.1 772.6L599.2 767.3L604.6 761.9L608.6 759.2L611.3 760.5L605.9 765.9L600.5 772.6L596.5 779.4L592.4 787.4L591.1 798.2L588.4 798.2L585.7 794.2L585.7 788.8L581.7 783.4L579 776.7Z" fill="#4E30D6"/>
<path d="M683.3 712.1C683.8 711 685.4 710.7 686.6 710.8C687.8 710.9 689.6 711.7 690.7 712.8C691.7 713.9 692.6 715.8 692.7 717.5C692.8 719.2 691.9 721.1 691.3 722.9C690.8 724.7 690.2 727.2 689.3 728.3C688.4 729.3 686.7 729.8 685.9 728.9C685.2 728 685 724.8 684.6 722.9C684.1 721 683.5 719.3 683.3 717.5C683 715.7 682.7 713.2 683.3 712.1Z" fill="#4E30D6"/>
<path d="M591.1 752.5C594.7 752 605.7 751.1 612.6 749.8C619.6 748.4 626.5 746.6 632.8 744.4C639.1 742.2 645.1 739 650.3 736.3C655.4 733.6 661.5 729.6 663.7 728.3" fill="none" stroke="#000" stroke-opacity="0.3" stroke-width="11" stroke-linecap="round" style="filter:blur(6px)"/>
<path d="M663.7 717.5C666.4 717.3 674.5 715.5 679.9 716.1C685.3 716.8 693.3 720.6 696 721.5" fill="none" stroke="#fff" stroke-opacity="0.1" stroke-width="16" stroke-linecap="round" style="filter:blur(6px)"/>
<path d="M679.9 760.5C683.3 760.3 693.3 760.5 700.1 759.2C706.8 757.9 716.9 753.6 720.2 752.5" fill="none" stroke="#fff" stroke-opacity="0.08" stroke-width="26" stroke-linecap="round" style="filter:blur(6px)"/>
<rect x="518.1" y="660.3" width="235.9" height="160.6" fill="url(#shd)"/>
<path d="M520.1 760.1C519.7 757.2 519.9 754.9 520.1 752.5C520.2 750.1 520.2 748.5 520.9 745.7C521.5 742.9 522.6 738.8 523.8 735.7C525.1 732.5 526.5 729.8 528.3 726.8C530.1 723.8 532.2 720.8 534.6 717.8C537 714.8 539.8 711.6 542.7 708.7C545.5 705.9 548.4 703.2 551.7 700.4C555 697.6 558.6 694.9 562.4 692.2C566.3 689.5 570.8 686.5 575 684.1C579.1 681.8 583.3 679.9 587.5 677.9C591.7 676 595.9 674.1 600.1 672.6C604.3 671 608.3 669.7 612.6 668.5C617 667.3 621.6 666.3 626.1 665.4C630.6 664.6 635 663.9 639.5 663.4C644 662.9 648.5 662.5 653 662.3C657.5 662.2 662.7 662.3 666.4 662.6C670.2 662.9 673 663.3 675.4 664C677.9 664.6 679.1 665.4 681.2 666.4C683.3 667.4 685.4 668.3 688.1 669.9C690.7 671.4 694.3 673.6 697.1 675.8C700 678 702.6 680.4 705.2 682.9C707.7 685.5 710.1 688.3 712.3 691C714.6 693.7 716.5 696.5 718.6 699.3C720.7 702.2 722.9 705.2 725 708.2C727 711.2 729.2 714.2 731.1 717.2C733.1 720.2 734.7 723.2 736.5 726.2C738.3 729.2 740.2 732.2 741.9 735.3C743.6 738.3 745.1 741.3 746.5 744.4C747.8 747.5 749.1 751.1 750 753.7C750.9 756.3 751.7 758.1 752 760.1C752.2 762.2 752.1 764 751.5 766.2C750.8 768.4 749.8 771 748.2 773.2C746.7 775.4 744.6 777.5 742.3 779.4C740 781.2 737.3 782.9 734.5 784.2C731.7 785.5 728.6 786.2 725.6 787C722.6 787.9 719.6 788.6 716.6 789.3C713.6 790.1 710.6 790.7 707.6 791.5C704.6 792.2 701.7 793 698.7 793.8C695.7 794.5 692.7 795.2 689.7 796.1C686.7 796.9 683.7 797.9 680.7 798.7C677.7 799.6 674.8 800.4 671.8 801.4C668.8 802.4 665.8 803.6 662.8 804.8C659.8 806 656.8 807.2 653.8 808.4C650.8 809.6 647.9 810.9 644.9 812.1C641.9 813.2 638.9 814.5 635.9 815.4C632.9 816.4 629.9 817.3 626.9 817.9C623.9 818.4 620.7 819 618 818.9C615.3 818.9 613 818.5 610.7 817.7C608.5 816.9 606.1 815.5 604.6 814.1C603 812.7 602.3 810.8 601.2 809.2C600.1 807.6 599.1 806 597.8 804.5C596.6 803.1 595.2 801.6 593.8 800.5C592.3 799.4 591 798.5 589.1 797.8C587.2 797.1 585.2 796.8 582.4 796.5C579.6 796.1 575.6 796.1 572.3 795.8C568.9 795.5 565.5 795.3 562.2 794.8C558.8 794.4 555.3 794.1 552.1 793.4C548.8 792.6 545.6 791.9 542.7 790.5C539.8 789.2 537.2 787.2 534.6 785.2C532 783.1 529.2 780.5 527.2 778C525.2 775.5 523.7 773.2 522.5 770.2C521.3 767.2 520.5 763.1 520.1 760.1Z" fill="none" stroke="#000" stroke-opacity="0.22" stroke-width="3" style="filter:blur(1.2px)"/>
</g>
<clipPath id="c7"><path d="M150.1 950.5C150 948 150.5 944.3 151.1 941.1C151.8 938 152.6 935.1 153.8 931.7C155.1 928.3 156.6 924.7 158.5 920.9C160.4 917.2 162.7 912.9 165.3 909.1C167.8 905.3 171 901.6 174 898.1C177 894.6 180.1 891.2 183.4 888C186.8 884.8 190.4 881.8 194.2 879C198 876.1 202.2 873.4 206.3 870.9C210.4 868.4 214.8 865.9 219.1 863.8C223.3 861.6 227.5 859.7 231.9 858C236.2 856.3 240.8 854.8 245.3 853.7C249.8 852.5 254.3 851.7 258.8 851C263.3 850.3 267.7 849.7 272.2 849.4C276.7 849 281.2 848.8 285.7 849C290.2 849.1 294.8 849.4 299.1 850.3C303.5 851.2 307.6 852.7 311.9 854.4C316.2 856 320.9 858.1 324.7 860.3C328.5 862.5 331.6 864.6 334.8 867.5C338 870.5 341.2 874.8 343.8 878.2C346.4 881.5 348.2 884.3 350.2 887.6C352.3 890.9 354.1 894.8 356 898.1C358 901.4 360 904.4 362 907.5C363.9 910.6 365.8 913.7 367.7 916.8C369.7 919.9 372 923.3 373.7 926.1C375.3 928.8 376.3 930.8 377.4 933.3C378.5 935.9 379.4 938.8 380.1 941.4C380.8 944 381.5 946.3 381.6 948.9C381.7 951.6 381.6 954.6 380.8 957.3C380 960 378.8 962.8 376.9 965.1C375 967.4 372.5 969.3 369.5 971C366.4 972.6 362.4 973.9 358.6 975C354.8 976.2 350.8 976.9 346.5 977.9C342.2 978.8 337.3 979.6 332.8 980.7C328.2 981.7 323.8 982.8 319.3 984.2C314.8 985.6 310.3 987.3 305.9 989C301.4 990.7 296.9 992.6 292.4 994.4C287.9 996.2 283.4 998.1 278.9 999.8C274.5 1001.5 269.8 1003.5 265.5 1004.6C261.2 1005.8 257.2 1006.6 253.4 1006.8C249.6 1006.9 245.8 1006.3 242.6 1005.4C239.5 1004.5 236.8 1003.1 234.6 1001.4C232.3 999.7 230.7 997.5 229.2 995.3C227.6 993.2 226.9 990.5 225.1 988.6C223.3 986.7 221.3 985.1 218.4 983.9C215.5 982.7 211.5 982 207.6 981.2C203.8 980.4 199.6 980 195.5 979.2C191.5 978.4 187.2 977.5 183.4 976.5C179.6 975.5 176 974.5 172.7 973.1C169.3 971.8 166.1 970.3 163.3 968.4C160.4 966.6 157.8 964.3 155.9 962.2C153.9 960.2 152.8 958.1 151.8 956.2C150.9 954.2 150.2 953.1 150.1 950.5Z"/></clipPath>
<g clip-path="url(#c7)">
<path d="M150.1 950.5C150 948 150.5 944.3 151.1 941.1C151.8 938 152.6 935.1 153.8 931.7C155.1 928.3 156.6 924.7 158.5 920.9C160.4 917.2 162.7 912.9 165.3 909.1C167.8 905.3 171 901.6 174 898.1C177 894.6 180.1 891.2 183.4 888C186.8 884.8 190.4 881.8 194.2 879C198 876.1 202.2 873.4 206.3 870.9C210.4 868.4 214.8 865.9 219.1 863.8C223.3 861.6 227.5 859.7 231.9 858C236.2 856.3 240.8 854.8 245.3 853.7C249.8 852.5 254.3 851.7 258.8 851C263.3 850.3 267.7 849.7 272.2 849.4C276.7 849 281.2 848.8 285.7 849C290.2 849.1 294.8 849.4 299.1 850.3C303.5 851.2 307.6 852.7 311.9 854.4C316.2 856 320.9 858.1 324.7 860.3C328.5 862.5 331.6 864.6 334.8 867.5C338 870.5 341.2 874.8 343.8 878.2C346.4 881.5 348.2 884.3 350.2 887.6C352.3 890.9 354.1 894.8 356 898.1C358 901.4 360 904.4 362 907.5C363.9 910.6 365.8 913.7 367.7 916.8C369.7 919.9 372 923.3 373.7 926.1C375.3 928.8 376.3 930.8 377.4 933.3C378.5 935.9 379.4 938.8 380.1 941.4C380.8 944 381.5 946.3 381.6 948.9C381.7 951.6 381.6 954.6 380.8 957.3C380 960 378.8 962.8 376.9 965.1C375 967.4 372.5 969.3 369.5 971C366.4 972.6 362.4 973.9 358.6 975C354.8 976.2 350.8 976.9 346.5 977.9C342.2 978.8 337.3 979.6 332.8 980.7C328.2 981.7 323.8 982.8 319.3 984.2C314.8 985.6 310.3 987.3 305.9 989C301.4 990.7 296.9 992.6 292.4 994.4C287.9 996.2 283.4 998.1 278.9 999.8C274.5 1001.5 269.8 1003.5 265.5 1004.6C261.2 1005.8 257.2 1006.6 253.4 1006.8C249.6 1006.9 245.8 1006.3 242.6 1005.4C239.5 1004.5 236.8 1003.1 234.6 1001.4C232.3 999.7 230.7 997.5 229.2 995.3C227.6 993.2 226.9 990.5 225.1 988.6C223.3 986.7 221.3 985.1 218.4 983.9C215.5 982.7 211.5 982 207.6 981.2C203.8 980.4 199.6 980 195.5 979.2C191.5 978.4 187.2 977.5 183.4 976.5C179.6 975.5 176 974.5 172.7 973.1C169.3 971.8 166.1 970.3 163.3 968.4C160.4 966.6 157.8 964.3 155.9 962.2C153.9 960.2 152.8 958.1 151.8 956.2C150.9 954.2 150.2 953.1 150.1 950.5Z" fill="#4E30D6"/>
<path d="M150.1 950.5C150 948 150.5 944.3 151.1 941.1C151.8 938 152.6 935.1 153.8 931.7C155.1 928.3 156.6 924.7 158.5 920.9C160.4 917.2 162.7 912.9 165.3 909.1C167.8 905.3 171 901.6 174 898.1C177 894.6 180.1 891.2 183.4 888C186.8 884.8 190.4 881.8 194.2 879C198 876.1 202.2 873.4 206.3 870.9C210.4 868.4 214.8 865.9 219.1 863.8C223.3 861.6 227.5 859.7 231.9 858C236.2 856.3 240.8 854.8 245.3 853.7C249.8 852.5 254.3 851.7 258.8 851C263.3 850.3 267.7 849.7 272.2 849.4C276.7 849 281.2 848.8 285.7 849C290.2 849.1 294.8 849.4 299.1 850.3C303.5 851.2 307.6 852.7 311.9 854.4C316.2 856 320.9 858.1 324.7 860.3C328.5 862.5 331.6 864.6 334.8 867.5C338 870.5 341.2 874.8 343.8 878.2C346.4 881.5 348.2 884.3 350.2 887.6C352.3 890.9 354.1 894.8 356 898.1C358 901.4 360 904.4 362 907.5C363.9 910.6 365.8 913.7 367.7 916.8C369.7 919.9 372 923.3 373.7 926.1C375.3 928.8 376.3 930.8 377.4 933.3C378.5 935.9 379.4 938.8 380.1 941.4C380.8 944 381.5 946.3 381.6 948.9C381.7 951.6 381.6 954.6 380.8 957.3C380 960 378.8 962.8 376.9 965.1C375 967.4 372.5 969.3 369.5 971C366.4 972.6 362.4 973.9 358.6 975C354.8 976.2 350.8 976.9 346.5 977.9C342.2 978.8 337.3 979.6 332.8 980.7C328.2 981.7 323.8 982.8 319.3 984.2C314.8 985.6 310.3 987.3 305.9 989C301.4 990.7 296.9 992.6 292.4 994.4C287.9 996.2 283.4 998.1 278.9 999.8C274.5 1001.5 269.8 1003.5 265.5 1004.6C261.2 1005.8 257.2 1006.6 253.4 1006.8C249.6 1006.9 245.8 1006.3 242.6 1005.4C239.5 1004.5 236.8 1003.1 234.6 1001.4C232.3 999.7 230.7 997.5 229.2 995.3C227.6 993.2 226.9 990.5 225.1 988.6C223.3 986.7 221.3 985.1 218.4 983.9C215.5 982.7 211.5 982 207.6 981.2C203.8 980.4 199.6 980 195.5 979.2C191.5 978.4 187.2 977.5 183.4 976.5C179.6 975.5 176 974.5 172.7 973.1C169.3 971.8 166.1 970.3 163.3 968.4C160.4 966.6 157.8 964.3 155.9 962.2C153.9 960.2 152.8 958.1 151.8 956.2C150.9 954.2 150.2 953.1 150.1 950.5Z" fill="none" stroke="#000" stroke-opacity="0.3" stroke-width="12" style="filter:blur(4px)"/>
<clipPath id="g7"><path d="M192.8 942.5C192.8 940.2 193.5 938 194.9 935.7C196.2 933.5 198.3 931.3 200.9 929C203.5 926.8 207 924.3 210.3 922.3C213.7 920.3 217.3 918.3 221.1 916.9C224.9 915.6 229.2 914.9 233.2 914.2C237.2 913.5 241.1 913 245.3 912.9C249.6 912.8 254.3 913.2 258.8 913.5C263.3 913.9 268 914.2 272.2 914.9C276.5 915.6 280.7 916.5 284.3 917.6C287.9 918.7 291.1 919.9 293.7 921.6C296.4 923.3 298.9 925.3 300.5 927.7C302 930 302.6 932.8 303.2 935.7C303.7 938.7 303.9 942 303.8 945.2C303.7 948.3 303.3 951.4 302.5 954.6C301.7 957.7 300.8 960.9 299.1 964C297.4 967.1 295.1 970.5 292.4 973.4C289.7 976.3 286.3 979 283 981.5C279.6 984 275.8 986.3 272.2 988.2C268.6 990.1 265 991.7 261.5 992.9C257.9 994.2 254.3 995.2 250.7 995.6C247.1 996.1 243.3 995.9 239.9 995.6C236.6 995.3 233 994.6 230.5 993.6C228 992.6 226.5 991.3 225.1 989.6C223.8 987.8 223.1 985.1 222.4 982.8C221.8 980.6 222.2 978.3 221.1 976.1C220 973.9 217.7 971.6 215.7 969.4C213.7 967.1 211.5 964.9 209 962.6C206.5 960.4 203.3 958.2 200.9 955.9C198.6 953.7 196.2 951.4 194.9 949.2C193.5 947 192.8 944.7 192.8 942.5Z"/></clipPath>
<path d="M266.8 847L267.5 855L263.5 861.1L269.5 863.1L277.6 865.1L279.6 869.8L274.9 872.5L270.9 879.2L269.5 884.6L272.2 890L273.6 895.4L274.9 903.5L266.8 903.7L256.1 903.5L245.3 903.7L234.6 904.8L223.8 907.5L215.7 911.5L207.6 915.6L199.6 919.6L194.2 923L192.8 918.3L194.2 912.9L191.5 908.8L194.2 903.5L191.5 899.4L186.1 902.1L179.4 904.8L176.7 911.5L171.3 916.9L167.3 922.3L165.9 929L160.6 933.1L157.2 939.8L157.9 947.9L159.2 954.6L163.9 961.3L159.2 960.6L156.5 964L153.8 960L147.1 951.9L148.5 929L161.9 902.1L188.8 875.2L229.2 853.7Z" fill="#FAF43E"/>
<path d="M195.5 891.3C198.2 887.5 205.2 881.9 210.3 879.2C215.5 876.6 222.9 874.5 226.5 875.2C230.1 875.9 231.4 878.8 231.9 883.3C232.3 887.8 231.9 897.4 229.2 902.1C226.5 906.8 220.7 908.6 215.7 911.5C210.8 914.4 203.2 917.7 199.6 919.6C196 921.5 195.3 923.6 194.2 923C193.1 922.3 192.8 919 192.8 915.6C192.8 912.1 193.7 906.1 194.2 902.1C194.6 898.1 192.8 895.2 195.5 891.3Z" fill="#E8F04A"/>
<path d="M231.9 875.2C234.3 872.1 240.4 870.5 245.3 869.8C250.2 869.2 257.2 869.6 261.5 871.2C265.7 872.7 269.5 876.3 270.9 879.2C272.2 882.2 270.7 885.7 269.5 888.7C268.4 891.6 267.3 894.7 264.1 896.7C261 898.7 255.2 900.3 250.7 900.8C246.2 901.2 240.6 901.4 237.2 899.4C233.9 897.4 231.4 892.7 230.5 888.7C229.6 884.6 229.4 878.3 231.9 875.2Z" fill="#FFDE40"/>
<path d="M303.8 847L307.2 859.1L311.2 865.8L313.9 872.5L309.9 877.9L307.2 883.3L301.8 888.7L296.4 892.7L303.2 890L309.9 884.6L315.3 879.2L320.7 875.9L322.7 881.9L324.7 887.3L328 888.7L326 895.4L324.7 902.1L320.7 908.8L315.3 914.9L315.3 920.9L309.9 925L309.9 931.7L308.5 939.8L304.5 946.5L303.2 954.6L308.5 954.6L309.9 947.9L312.6 942.5L316.6 935.7L320.7 929L323.3 922.3L328.7 915.6L334.1 907.5L336.8 900.8L342.2 895.4L347.6 891.3L352.9 894.7L350.2 886L336.8 867.1L323.3 856.4Z" fill="#FAF43E"/>
<path d="M315.3 914.9L315.3 920.9L309.9 925L309.9 931.7L308.5 939.8L304.5 946.5L303.2 954.6L308.5 954.6L309.9 947.9L312.6 942.5L316.6 935.7L320.7 929L323.3 922.3L328.7 915.6L323.3 911.5Z" fill="#FFD23C"/>
<path d="M273.6 895.4L280.3 894.7L288.4 893.4L296.4 892.7L292.4 898.1L296.4 903.5L303.2 907.5L309.9 911.5L315.3 914.9L315.3 920.9L309.9 925L307.2 920.9L301.8 915.6L293.7 910.2L285.7 906.1L277.6 904.1L274.9 903.5Z" fill="#B2EC60"/>
<path d="M347.6 891.3L352.9 898.1L357 906.1L355.6 915.6L350.2 923.6L344.9 931.7L350.2 934.4L357 937.1L363.7 941.1L366.4 946.5L363.7 953.2L363.7 961.3L361 965.3L352.9 966.7L344.9 968L336.8 968.7L328.7 968L320.7 967.4L312.6 966.7L304.5 968L303.2 962.6L304.5 955.9L308.5 954.6L309.9 947.9L312.6 942.5L316.6 935.7L320.7 929L323.3 922.3L328.7 915.6L334.1 907.5L336.8 900.8L342.2 895.4Z" fill="#5EE8A2"/>
<path d="M350.2 892.7L359.4 901.6L366.7 911L372 920.4L376.5 929L377.8 939.8L374.5 948.5L366.4 951.9L363.7 953.2L366.4 946.5L363.7 941.1L357 937.1L350.2 934.4L344.9 931.7L350.2 923.6L355.6 915.6L357 906.1L352.9 898.1Z" fill="#BCEE5C"/>
<path d="M231.9 993.6L239.9 995.6L250.7 995.6L261.5 992.9L272.2 988.2L283 981.5L292.4 973.4L299.1 964L303.2 954.6L304.5 955.9L303.2 962.6L304.5 968L312.6 966.7L320.7 967.4L328.7 968L336.8 968.7L342.2 969.4L339.5 977.4L332.8 981.5L319.3 984.8L305.9 989.6L292.4 994.9L278.9 1000.3L265.5 1005L253.4 1007L246.7 1005.7L242.6 1000.3L237.2 997.6Z" fill="#C4EC56"/>
<path d="M299.1 964L303.2 954.6L304.5 955.9L303.2 962.6L304.5 968L312.6 966.7L313.9 974.8L307.2 982.8L296.4 988.2L289.7 982.8L292.4 973.4Z" fill="#B8EC60"/>
<path d="M231.9 993.6L239.9 995.6L250.7 995.6L256.1 997.6L256.1 1005.7L246.7 1005.7L242.6 1000.3L237.2 997.6Z" fill="#B8EC60"/>
<path d="M192.8 942.5C192.8 940.2 193.5 938 194.9 935.7C196.2 933.5 198.3 931.3 200.9 929C203.5 926.8 207 924.3 210.3 922.3C213.7 920.3 217.3 918.3 221.1 916.9C224.9 915.6 229.2 914.9 233.2 914.2C237.2 913.5 241.1 913 245.3 912.9C249.6 912.8 254.3 913.2 258.8 913.5C263.3 913.9 268 914.2 272.2 914.9C276.5 915.6 280.7 916.5 284.3 917.6C287.9 918.7 291.1 919.9 293.7 921.6C296.4 923.3 298.9 925.3 300.5 927.7C302 930 302.6 932.8 303.2 935.7C303.7 938.7 303.9 942 303.8 945.2C303.7 948.3 303.3 951.4 302.5 954.6C301.7 957.7 300.8 960.9 299.1 964C297.4 967.1 295.1 970.5 292.4 973.4C289.7 976.3 286.3 979 283 981.5C279.6 984 275.8 986.3 272.2 988.2C268.6 990.1 265 991.7 261.5 992.9C257.9 994.2 254.3 995.2 250.7 995.6C247.1 996.1 243.3 995.9 239.9 995.6C236.6 995.3 233 994.6 230.5 993.6C228 992.6 226.5 991.3 225.1 989.6C223.8 987.8 223.1 985.1 222.4 982.8C221.8 980.6 222.2 978.3 221.1 976.1C220 973.9 217.7 971.6 215.7 969.4C213.7 967.1 211.5 964.9 209 962.6C206.5 960.4 203.3 958.2 200.9 955.9C198.6 953.7 196.2 951.4 194.9 949.2C193.5 947 192.8 944.7 192.8 942.5Z" fill="#707070"/>
<path d="M205.1 945.3C205.1 944 205.4 942.4 206.4 940.7C207.4 939.1 209.1 937.4 210.9 935.6C212.8 933.7 215.2 931.3 217.4 929.7C219.6 928.1 221.5 927 223.9 925.9C226.2 924.7 228.9 923.4 231.6 922.6C234.3 921.8 237.5 921.3 240.1 921C242.7 920.7 245.1 920.6 247.2 921C249.2 921.4 251.6 922.4 252.4 923.3C253.1 924.1 252.7 925.3 251.7 925.9C250.7 926.4 248.5 926.1 246.5 926.5C244.6 926.9 242.2 927.6 240.1 928.4C237.9 929.3 235.7 930.5 233.6 931.7C231.4 932.9 228.9 934.4 227.1 935.6C225.3 936.8 224 938.1 222.6 938.8C221.2 939.6 219.9 939.8 218.7 940.1C217.5 940.4 215.4 940.2 215.4 940.7C215.4 941.3 217.8 942.5 218.7 943.3C219.6 944.2 220.6 945 220.6 945.9C220.6 946.9 219.8 948.4 218.7 949.2C217.6 950 215.7 950.6 214.2 950.8C212.6 951 210.9 950.8 209.6 950.5C208.3 950.1 207.1 949.4 206.4 948.5C205.6 947.7 205.1 946.6 205.1 945.3Z" fill="#4B4B4B" clip-path="url(#g7)"/>
<path d="M242 940.7C243.1 939.5 244.7 937.3 246.5 936.2C248.4 935.1 250.3 934.4 253 933.9C255.7 933.5 259.5 933.3 262.7 933.3C266 933.2 270.2 933.9 272.4 933.6C274.7 933.3 274.9 931.6 276.3 931.4C277.7 931.1 279.3 931.5 280.9 932.3C282.5 933.1 284.2 934.5 286 936.2C287.9 937.9 289.9 940.5 291.9 942.7C293.8 944.8 296.1 947.5 297.7 949.2C299.3 950.8 300.5 951.3 301.6 952.4C302.7 953.5 304.1 954 304.2 955.7C304.3 957.3 303.2 959.8 302.2 962.1C301.3 964.5 299.9 967.5 298.4 969.9C296.8 972.3 295.1 974.3 293.2 976.4C291.2 978.4 288.9 980.5 286.7 982.2C284.5 983.9 282.6 985.3 280.2 986.7C277.8 988.1 275.4 989.6 272.4 990.6C269.5 991.7 266.5 993.6 262.7 993.2C259 992.8 250.3 989.9 249.8 988.3C249.2 986.7 256.3 985.1 259.5 983.5C262.7 981.9 266.5 980.4 269.2 979C271.9 977.6 273.5 976.8 275.7 975.1C277.9 973.4 280.3 970.8 282.2 968.6C284 966.4 285.5 964.3 286.7 962.1C287.9 960 289 957.6 289.3 955.7C289.6 953.7 289.4 951.9 288.6 950.5C287.9 949.1 286.4 947.7 284.8 947.2C283.1 946.8 280.7 948.2 278.9 947.9C277.2 947.6 276 946.1 274.4 945.3C272.8 944.4 271.2 943.3 269.2 942.7C267.3 942 264.9 941.5 262.7 941.4C260.6 941.3 258.2 941.5 256.3 942C254.3 942.6 252.6 943.6 251.1 944.6C249.6 945.7 248.2 947.2 247.2 948.5C246.2 949.8 245.2 951.4 245.2 952.4C245.2 953.4 245.9 954 247.2 954.3C248.5 954.7 251 954.8 253 954.3C255.1 953.9 257.7 952.2 259.5 951.8C261.3 951.3 263.2 951.4 264 951.8C264.9 952.1 265.4 952.8 264.7 953.7C263.9 954.6 261.4 955.9 259.5 956.9C257.6 958 255.2 959.2 253 960.2C250.9 961.2 248.7 962.1 246.5 962.8C244.4 963.4 241.6 964.4 240.1 964.1C238.6 963.7 238.1 962.2 237.5 960.8C236.8 959.4 236.1 957.6 236.2 955.7C236.3 953.7 237.5 951.1 238.1 949.2C238.8 947.2 239.4 945.4 240.1 944C240.7 942.6 240.9 942 242 940.7Z" fill="#4B4B4B" clip-path="url(#g7)"/>
<path d="M269.2 955.7C270.1 954.8 273.1 954.3 274.4 954.3C275.7 954.3 276.8 954.6 277 955.7C277.2 956.7 275.8 959.1 275.7 960.8C275.6 962.6 276.7 964.5 276.3 966C276 967.5 274.9 969 273.8 969.9C272.6 970.8 270.8 971.5 269.2 971.2C267.6 970.9 264.2 969.1 264 968C263.8 966.8 267.1 965.5 267.9 964.1C268.8 962.7 269 960.9 269.2 959.5C269.4 958.1 268.3 956.5 269.2 955.7Z" fill="#4B4B4B" clip-path="url(#g7)"/>
<path d="M209.6 962.1C210.2 961.3 212.2 961.5 214.2 960.8C216.1 960.2 219.4 958.8 221.3 958.2C223.1 957.7 224.3 957.2 225.2 957.6C226 958 226.5 959.8 226.5 960.8C226.5 961.9 224.7 963.1 225.2 964.1C225.6 965 228 965.9 229 966.7C230.1 967.4 231.5 967.7 231.6 968.6C231.8 969.5 230.8 971.2 229.7 971.8C228.6 972.5 226.5 971.8 225.2 972.5C223.9 973.1 222.9 975.4 221.9 975.7C221 976.1 220.4 975.3 219.3 974.4C218.3 973.6 216.9 972 215.4 970.5C214 969.1 211.9 967.4 210.9 966C209.9 964.6 209.1 963 209.6 962.1Z" fill="#4B4B4B" clip-path="url(#g7)"/>
<path d="M217.4 968C218 967.5 220.4 967.1 221.3 967.3C222.1 967.5 222.8 968.7 222.6 969.3C222.4 969.8 220.8 970.8 220 970.9C219.1 971 217.8 970.4 217.4 969.9C217 969.4 216.8 968.4 217.4 968Z" fill="#707070" clip-path="url(#g7)"/>
<path d="M240.1 977C240.4 976.4 242.1 976.2 243.3 976.4C244.5 976.6 245.6 977.9 247.2 978.3C248.8 978.8 252.6 978.4 253 979C253.5 979.5 250.9 980.8 249.8 981.6C248.7 982.3 246.5 983 246.5 983.5C246.5 984 248.7 984 249.8 984.8C250.9 985.5 253 986.4 253 988C253 989.7 252.5 993.1 249.8 994.5C247.1 995.9 240.9 996.5 236.8 996.5C232.7 996.5 227.8 995.9 225.2 994.5C222.6 993.1 221.3 990.5 221.3 988.3C221.3 986.1 223.6 983.1 225.2 981.6C226.7 980 228.6 979.1 230.4 979C232.1 978.9 233.9 980.4 235.5 980.9C237.2 981.4 239.1 982.3 240.1 982.2C241 982.1 241.4 981.1 241.4 980.3C241.4 979.4 239.7 977.7 240.1 977Z" fill="#4B4B4B" clip-path="url(#g7)"/>
<path d="M226.5 986.7C227.2 986 229.9 985.2 231.6 985.4C233.4 985.7 236.2 987.1 236.8 988C237.5 989 236.6 990.6 235.5 991.3C234.5 991.9 231.8 992.1 230.4 991.9C229 991.7 227.8 990.8 227.1 990C226.5 989.1 225.7 987.5 226.5 986.7Z" fill="#707070" clip-path="url(#g7)"/>
<path d="M289.7 888.7C293.1 890.5 304.3 895.4 309.9 899.4C315.5 903.5 321.1 910.6 323.3 912.9" fill="none" stroke="#fff" stroke-opacity="0.09" stroke-width="26" stroke-linecap="round" style="filter:blur(6px)"/>
<rect x="148.1" y="847" width="235.5" height="161.8" fill="url(#shd)"/>
<path d="M150.1 950.5C150 948 150.5 944.3 151.1 941.1C151.8 938 152.6 935.1 153.8 931.7C155.1 928.3 156.6 924.7 158.5 920.9C160.4 917.2 162.7 912.9 165.3 909.1C167.8 905.3 171 901.6 174 898.1C177 894.6 180.1 891.2 183.4 888C186.8 884.8 190.4 881.8 194.2 879C198 876.1 202.2 873.4 206.3 870.9C210.4 868.4 214.8 865.9 219.1 863.8C223.3 861.6 227.5 859.7 231.9 858C236.2 856.3 240.8 854.8 245.3 853.7C249.8 852.5 254.3 851.7 258.8 851C263.3 850.3 267.7 849.7 272.2 849.4C276.7 849 281.2 848.8 285.7 849C290.2 849.1 294.8 849.4 299.1 850.3C303.5 851.2 307.6 852.7 311.9 854.4C316.2 856 320.9 858.1 324.7 860.3C328.5 862.5 331.6 864.6 334.8 867.5C338 870.5 341.2 874.8 343.8 878.2C346.4 881.5 348.2 884.3 350.2 887.6C352.3 890.9 354.1 894.8 356 898.1C358 901.4 360 904.4 362 907.5C363.9 910.6 365.8 913.7 367.7 916.8C369.7 919.9 372 923.3 373.7 926.1C375.3 928.8 376.3 930.8 377.4 933.3C378.5 935.9 379.4 938.8 380.1 941.4C380.8 944 381.5 946.3 381.6 948.9C381.7 951.6 381.6 954.6 380.8 957.3C380 960 378.8 962.8 376.9 965.1C375 967.4 372.5 969.3 369.5 971C366.4 972.6 362.4 973.9 358.6 975C354.8 976.2 350.8 976.9 346.5 977.9C342.2 978.8 337.3 979.6 332.8 980.7C328.2 981.7 323.8 982.8 319.3 984.2C314.8 985.6 310.3 987.3 305.9 989C301.4 990.7 296.9 992.6 292.4 994.4C287.9 996.2 283.4 998.1 278.9 999.8C274.5 1001.5 269.8 1003.5 265.5 1004.6C261.2 1005.8 257.2 1006.6 253.4 1006.8C249.6 1006.9 245.8 1006.3 242.6 1005.4C239.5 1004.5 236.8 1003.1 234.6 1001.4C232.3 999.7 230.7 997.5 229.2 995.3C227.6 993.2 226.9 990.5 225.1 988.6C223.3 986.7 221.3 985.1 218.4 983.9C215.5 982.7 211.5 982 207.6 981.2C203.8 980.4 199.6 980 195.5 979.2C191.5 978.4 187.2 977.5 183.4 976.5C179.6 975.5 176 974.5 172.7 973.1C169.3 971.8 166.1 970.3 163.3 968.4C160.4 966.6 157.8 964.3 155.9 962.2C153.9 960.2 152.8 958.1 151.8 956.2C150.9 954.2 150.2 953.1 150.1 950.5Z" fill="none" stroke="#000" stroke-opacity="0.22" stroke-width="3" style="filter:blur(1.2px)"/>
</g>
<clipPath id="c8"><path d="M520.1 946.5C520.2 944.4 520.9 941.3 521.8 938.4C522.8 935.5 524.2 932.4 525.9 929C527.5 925.7 529.8 921.8 531.9 918.3C534 914.7 536.2 911.3 538.6 907.5C541.1 903.7 544 899.2 546.7 895.4C549.4 891.6 552.1 888 554.8 884.6C557.5 881.3 559.9 878.2 562.8 875.2C565.8 872.2 569.1 869.2 572.3 866.5C575.4 863.8 578.3 861.2 581.7 859.1C585 856.9 588.9 855.1 592.4 853.7C596 852.2 599.6 851.1 603.2 850.3C606.8 849.5 610.2 849.2 614 849C617.8 848.7 622 848.7 626.1 849C630.1 849.2 634.1 849.8 638.2 850.3C642.2 850.9 646.3 851.4 650.3 852.3C654.3 853.2 658.4 854.5 662.4 855.7C666.4 856.9 670.5 858.2 674.5 859.7C678.5 861.3 682.6 863.2 686.6 865.1C690.7 867 694.9 869 698.7 871.2C702.5 873.3 705.9 875.3 709.5 877.9C713.1 880.5 716.9 883.6 720.2 886.6C723.6 889.7 726.7 892.8 729.7 896.1C732.6 899.3 735.3 902.7 737.7 906.1C740.2 909.6 742.6 913.3 744.5 916.9C746.4 920.5 747.9 924.1 749.2 927.7C750.4 931.3 751.4 934.8 751.9 938.4C752.3 942 752.3 945.8 751.9 949.2C751.4 952.6 750.4 955.7 749.2 958.6C747.9 961.5 746.4 964.2 744.5 966.7C742.6 969.2 740.4 971.5 737.7 973.4C735 975.3 731.7 977 728.3 978.1C725 979.2 721.1 979.7 717.6 980.1C714 980.6 710.4 980.7 706.8 980.8C703.2 980.9 699.4 980.6 696 980.8C692.7 981 689.3 981.3 686.6 982.2C683.9 983.1 681.7 984.5 679.9 986.2C678.1 987.9 677.2 990.1 675.9 992.2C674.5 994.4 673.4 997 671.8 999C670.2 1001 668.7 1003.1 666.4 1004.4C664.2 1005.6 661.5 1006.3 658.4 1006.4C655.2 1006.5 651.6 1006 647.6 1005C643.6 1004 638.9 1002.1 634.1 1000.3C629.4 998.5 624.3 996.3 619.3 994.3C614.4 992.2 609.7 990.1 604.6 988.2C599.4 986.3 593.8 984.5 588.4 982.8C583 981.1 577.6 979.7 572.3 978.1C566.9 976.6 561.1 975.1 556.1 973.4C551.2 971.7 546.7 969.9 542.7 968C538.6 966.1 534.9 964 531.9 962C528.9 960 526.3 957.7 524.5 955.9C522.7 954.1 521.6 952.8 520.9 951.2C520.1 949.6 519.9 948.6 520.1 946.5Z"/></clipPath>
<g clip-path="url(#c8)">
<path d="M520.1 946.5C520.2 944.4 520.9 941.3 521.8 938.4C522.8 935.5 524.2 932.4 525.9 929C527.5 925.7 529.8 921.8 531.9 918.3C534 914.7 536.2 911.3 538.6 907.5C541.1 903.7 544 899.2 546.7 895.4C549.4 891.6 552.1 888 554.8 884.6C557.5 881.3 559.9 878.2 562.8 875.2C565.8 872.2 569.1 869.2 572.3 866.5C575.4 863.8 578.3 861.2 581.7 859.1C585 856.9 588.9 855.1 592.4 853.7C596 852.2 599.6 851.1 603.2 850.3C606.8 849.5 610.2 849.2 614 849C617.8 848.7 622 848.7 626.1 849C630.1 849.2 634.1 849.8 638.2 850.3C642.2 850.9 646.3 851.4 650.3 852.3C654.3 853.2 658.4 854.5 662.4 855.7C666.4 856.9 670.5 858.2 674.5 859.7C678.5 861.3 682.6 863.2 686.6 865.1C690.7 867 694.9 869 698.7 871.2C702.5 873.3 705.9 875.3 709.5 877.9C713.1 880.5 716.9 883.6 720.2 886.6C723.6 889.7 726.7 892.8 729.7 896.1C732.6 899.3 735.3 902.7 737.7 906.1C740.2 909.6 742.6 913.3 744.5 916.9C746.4 920.5 747.9 924.1 749.2 927.7C750.4 931.3 751.4 934.8 751.9 938.4C752.3 942 752.3 945.8 751.9 949.2C751.4 952.6 750.4 955.7 749.2 958.6C747.9 961.5 746.4 964.2 744.5 966.7C742.6 969.2 740.4 971.5 737.7 973.4C735 975.3 731.7 977 728.3 978.1C725 979.2 721.1 979.7 717.6 980.1C714 980.6 710.4 980.7 706.8 980.8C703.2 980.9 699.4 980.6 696 980.8C692.7 981 689.3 981.3 686.6 982.2C683.9 983.1 681.7 984.5 679.9 986.2C678.1 987.9 677.2 990.1 675.9 992.2C674.5 994.4 673.4 997 671.8 999C670.2 1001 668.7 1003.1 666.4 1004.4C664.2 1005.6 661.5 1006.3 658.4 1006.4C655.2 1006.5 651.6 1006 647.6 1005C643.6 1004 638.9 1002.1 634.1 1000.3C629.4 998.5 624.3 996.3 619.3 994.3C614.4 992.2 609.7 990.1 604.6 988.2C599.4 986.3 593.8 984.5 588.4 982.8C583 981.1 577.6 979.7 572.3 978.1C566.9 976.6 561.1 975.1 556.1 973.4C551.2 971.7 546.7 969.9 542.7 968C538.6 966.1 534.9 964 531.9 962C528.9 960 526.3 957.7 524.5 955.9C522.7 954.1 521.6 952.8 520.9 951.2C520.1 949.6 519.9 948.6 520.1 946.5Z" fill="#4E30D6"/>
<path d="M520.1 946.5C520.2 944.4 520.9 941.3 521.8 938.4C522.8 935.5 524.2 932.4 525.9 929C527.5 925.7 529.8 921.8 531.9 918.3C534 914.7 536.2 911.3 538.6 907.5C541.1 903.7 544 899.2 546.7 895.4C549.4 891.6 552.1 888 554.8 884.6C557.5 881.3 559.9 878.2 562.8 875.2C565.8 872.2 569.1 869.2 572.3 866.5C575.4 863.8 578.3 861.2 581.7 859.1C585 856.9 588.9 855.1 592.4 853.7C596 852.2 599.6 851.1 603.2 850.3C606.8 849.5 610.2 849.2 614 849C617.8 848.7 622 848.7 626.1 849C630.1 849.2 634.1 849.8 638.2 850.3C642.2 850.9 646.3 851.4 650.3 852.3C654.3 853.2 658.4 854.5 662.4 855.7C666.4 856.9 670.5 858.2 674.5 859.7C678.5 861.3 682.6 863.2 686.6 865.1C690.7 867 694.9 869 698.7 871.2C702.5 873.3 705.9 875.3 709.5 877.9C713.1 880.5 716.9 883.6 720.2 886.6C723.6 889.7 726.7 892.8 729.7 896.1C732.6 899.3 735.3 902.7 737.7 906.1C740.2 909.6 742.6 913.3 744.5 916.9C746.4 920.5 747.9 924.1 749.2 927.7C750.4 931.3 751.4 934.8 751.9 938.4C752.3 942 752.3 945.8 751.9 949.2C751.4 952.6 750.4 955.7 749.2 958.6C747.9 961.5 746.4 964.2 744.5 966.7C742.6 969.2 740.4 971.5 737.7 973.4C735 975.3 731.7 977 728.3 978.1C725 979.2 721.1 979.7 717.6 980.1C714 980.6 710.4 980.7 706.8 980.8C703.2 980.9 699.4 980.6 696 980.8C692.7 981 689.3 981.3 686.6 982.2C683.9 983.1 681.7 984.5 679.9 986.2C678.1 987.9 677.2 990.1 675.9 992.2C674.5 994.4 673.4 997 671.8 999C670.2 1001 668.7 1003.1 666.4 1004.4C664.2 1005.6 661.5 1006.3 658.4 1006.4C655.2 1006.5 651.6 1006 647.6 1005C643.6 1004 638.9 1002.1 634.1 1000.3C629.4 998.5 624.3 996.3 619.3 994.3C614.4 992.2 609.7 990.1 604.6 988.2C599.4 986.3 593.8 984.5 588.4 982.8C583 981.1 577.6 979.7 572.3 978.1C566.9 976.6 561.1 975.1 556.1 973.4C551.2 971.7 546.7 969.9 542.7 968C538.6 966.1 534.9 964 531.9 962C528.9 960 526.3 957.7 524.5 955.9C522.7 954.1 521.6 952.8 520.9 951.2C520.1 949.6 519.9 948.6 520.1 946.5Z" fill="none" stroke="#000" stroke-opacity="0.3" stroke-width="12" style="filter:blur(4px)"/>
<path d="M550.1 892.7L552.1 898.1L556.1 902.1L554.8 907.5L556.1 912.9L553.4 918.3L552.1 929L553.4 937.1L556.1 942.5L554.8 949.2L554.1 955.9L556.1 960L561.5 959.3L565.5 962.6L568.2 961.3L565.5 955.9L566.9 951.9L570.9 950.5L575 954.6L580.3 958.6L585.7 962.6L591.1 966.7L595.1 972.1L599.2 976.1L607.2 977.4L615.3 980.1L623.4 984.2L631.5 988.2L639.5 992.2L647.6 996.3L654.3 1000.3L658.4 1001.7L662.4 997.6L663.7 992.2L667.8 993.6L671.8 989.6L670.5 984.2L666.4 977.4L661.1 972.1L653 965.3L644.9 958.6L636.8 951.9L628.8 945.2L622 939.8L616.7 934.4L612.6 927.7L609.9 920.9L608.6 914.2L609.9 907.5L612.6 906.1L616.7 911.5L622 916.9L627.4 922.3L631.5 926.3L639.5 929L647.6 934.4L651.6 939.8L653 945.2L657 950.5L663.7 958.6L669.1 965.3L674.5 972.1L678.5 978.8L679.9 984.2L685.3 981.5L686.6 974.8L689.3 969.4L692 964L690.7 958.6L696 957.3L700.1 954.6L698.7 949.2L694.7 945.2L690.7 942.5L692 938.4L697.4 939.8L702.8 943.8L709.5 947.9L716.2 951.9L722.9 952.6L724.3 946.5L731 946.5L733.7 951.9L736.4 955.9L741.8 954.6L742.8 948.5L740.4 942.7L737.1 936.7L733 930L728.6 923.6L723.2 918.3L717.8 912.9L711.5 907.5L707.5 902.8L710.8 899.4L717.6 898.7L725.6 903.5L732.4 910.2L737.7 916.9L743.1 925L747.2 933.1L753.9 939.8L753.9 915.6L733.7 888.7L706.8 868.5L666.4 851L626.1 845.6L599.2 848.3L572.3 861.8L552.1 884.6Z" fill="#A0EC70"/>
<path d="M558.8 877.9L572.3 863.1L592.4 851L614 847.6L614.6 853.7L616.7 859.1L622 865.8L627.4 872.5L631.5 879.2L635.5 887.3L639.5 894L643.6 900.8L647.6 906.1L650.3 911.5L642.2 916.9L639.5 911.5L635.5 907.5L630.1 903.5L626.1 898.1L622 892.7L614 890L605.9 890L601.9 889.3L601.9 881.9L600.5 876.6L596.5 871.2L591.1 875.2L583 873.9L576.3 869.8L568.2 872.5L561.5 879.2Z" fill="#F6F040"/>
<path d="M599.2 864.4C601 862.6 606.6 861.1 609.9 861.8C613.3 862.4 616.7 865.6 619.3 868.5C622 871.4 624.1 875.7 626.1 879.2C628.1 882.8 630.1 886.2 631.5 890C632.8 893.8 634.6 900.1 634.1 902.1C633.7 904.1 630.8 903.7 628.8 902.1C626.7 900.5 624.5 894.9 622 892.7C619.6 890.5 616.9 889.3 614 888.7C611.1 888 606.6 890 604.6 888.7C602.5 887.3 602.8 883.3 601.9 880.6C601 877.9 599.6 875.2 599.2 872.5C598.7 869.8 597.4 866.2 599.2 864.4Z" fill="#FFD840"/>
<path d="M627.4 847.6L631.5 855L634.1 861.8L632.8 865.8L638.2 869.8L643.6 872.5L647.6 877.9L651.6 884.6L655.7 892.7L658.4 900.8L658.4 908.8L657 914.2L653 914.2L650.3 911.5L642.2 916.9L639.5 920.9L634.1 922.3L630.1 925L631.5 926.3L639.5 929L647.6 934.4L653 933.1L659.7 931.7L666.4 929L673.2 927.7L671.8 920.9L672.5 914.2L670.5 907.5L668.5 900.8L669.8 892.7L673.2 887.3L669.8 880.6L672.5 875.2L669.1 871.2L663.7 865.8L658.4 859.1L659.7 853.7L650.3 849.6L638.2 847.6Z" fill="#FAF23C"/>
<path d="M650.3 911.5L642.2 916.9L639.5 920.9L634.1 922.3L630.1 925L631.5 926.3L639.5 929L647.6 934.4L653 933.1L659.7 931.7L666.4 929L673.2 927.7L671.8 920.9L663.7 918.3L657 914.2L653 914.2Z" fill="#FFD23A"/>
<path d="M549.4 892.7L556.1 886L561.5 879.2L568.2 872.5L576.3 869.8L583 873.9L591.1 875.2L596.5 871.2L600.5 876.6L601.9 881.9L597.8 884.6L596.5 888.7L589.8 890L592.4 896.7L593.1 902.1L591.1 906.1L585.7 907.5L580.3 904.8L576.3 903.5L572.3 907.5L569.6 912.9L564.2 915.6L558.8 912.9L556.1 912.9L554.8 907.5L556.1 902.1L552.1 898.1Z" fill="#80EC80"/>
<path d="M556.1 902.1L564.2 899.4L575 894L585.7 891.3L592.4 896.7L593.1 902.1L591.1 906.1L585.7 907.5L580.3 904.8L576.3 903.5L572.3 907.5L569.6 912.9L564.2 915.6L558.8 912.9L556.1 912.9L554.8 907.5Z" fill="#6AEA98"/>
<path d="M556.1 912.9L564.2 915.6L569.6 912.9L572.3 907.5L576.3 903.5L580.3 904.8L585.7 908.8L591.1 914.2L595.1 919.6L599.2 925L601.9 930.4L604.6 934.4L607.2 939.8L609.9 945.2L604.6 946.5L599.2 943.8L593.8 939.8L588.4 941.1L583 942.5L577.6 943.8L572.3 945.2L568.2 942.5L564.2 939.8L558.8 938.4L554.8 937.1L552.1 929L553.4 918.3Z" fill="#FFC440"/>
<path d="M554.8 937.1L558.8 938.4L564.2 939.8L568.2 942.5L572.3 945.2L577.6 943.8L583 942.5L588.4 941.1L593.8 939.8L599.2 943.8L604.6 946.5L609.9 953.2L612.6 960L609.9 965.3L604.6 969.4L599.2 976.1L595.1 972.1L591.1 966.7L585.7 962.6L580.3 958.6L575 954.6L570.9 950.5L566.9 951.9L565.5 955.9L568.2 961.3L565.5 962.6L561.5 959.3L556.1 960L554.1 955.9L554.8 949.2L556.1 942.5Z" fill="#B8EC60"/>
<path d="M604.6 934.4L608.6 930.4L612.6 927.7L616.7 934.4L622 939.8L628.8 945.2L636.8 951.9L644.9 958.6L653 965.3L661.1 972.1L666.4 977.4L670.5 984.2L671.8 989.6L667.8 993.6L663.7 992.2L662.4 997.6L658.4 1001.7L654.3 1000.3L647.6 996.3L639.5 992.2L631.5 988.2L623.4 984.2L615.3 980.1L607.2 977.4L599.2 976.1L604.6 969.4L609.9 965.3L612.6 960L609.9 953.2L604.6 946.5L609.9 945.2L607.2 939.8Z" fill="#D2F054"/>
<path d="M604.6 934.4L612.6 942.5L620.7 950.5L628.8 958.6L636.8 966.7L644.9 974.8L653 982.8L659.7 990.9L662.4 997.6L658.4 1001.7L653 993.6L644.9 985.5L636.8 977.4L628.8 969.4L620.7 961.3L612.6 953.2L607.2 945.2L603.2 939.8Z" fill="#FFDA40"/>
<path d="M599.2 892.7L605.9 890L614 890L622 892.7L626.1 898.1L630.1 903.5L635.5 907.5L639.5 911.5L642.2 916.9L639.5 920.9L634.1 922.3L630.1 925L627.4 922.3L622 916.9L616.7 911.5L612.6 906.1L609.9 907.5L608.6 914.2L609.9 920.9L612.6 927.7L608.6 930.4L604.6 929L601.9 923.6L599.2 915.6L597.8 907.5L596.5 900.8L597.8 895.4Z" fill="#80EC80"/>
<path d="M686.6 863.8L698.7 869.8L709.5 876.6L720.2 885.3L729.7 894.7L737.7 904.8L744.5 915.6L749.8 926.3L753.9 915.6L733.7 888.7L706.8 868.5L686.6 860.4Z" fill="#F2F044"/>
<path d="M647.6 934.4L653 933.1L659.7 931.7L666.4 929L673.2 927.7L679.9 930.4L685.3 929L693.3 929L697.4 930.4L696 935.7L692 938.4L690.7 942.5L682.6 941.1L674.5 939.8L666.4 937.1L659.7 935.7L651.6 937.1Z" fill="#C8F058"/>
<path d="M651.6 937.1L659.7 935.7L666.4 937.1L674.5 939.8L682.6 941.1L690.7 942.5L694.7 945.2L698.7 949.2L700.1 954.6L696 957.3L690.7 958.6L692 964L689.3 969.4L686.6 974.8L685.3 981.5L679.9 984.2L678.5 978.8L674.5 972.1L669.1 965.3L663.7 958.6L657 950.5L653 945.2Z" fill="#60E8A0"/>
<path d="M614.6 847.6L627.4 847.6L631.5 855L634.1 861.8L632.8 865.8L638.2 869.8L643.6 872.5L647.6 877.9L651.6 884.6L655.7 892.7L658.4 900.8L658.4 908.8L657 914.2L653 914.2L650.3 911.5L647.6 906.1L643.6 900.8L639.5 894L635.5 887.3L631.5 879.2L627.4 872.5L622 865.8L616.7 859.1L614.6 853.7Z" fill="#4E30D6"/>
<path d="M673.2 887.3C674.6 886.2 677 885.7 678.5 886C680.1 886.2 681.7 887.1 682.6 888.7C683.5 890.2 683.5 893.1 683.9 895.4C684.4 897.6 684.8 899.9 685.3 902.1C685.7 904.4 686.2 906.6 686.6 908.8C687.1 911.1 687.7 913.1 688 915.6C688.2 918 688.4 921.4 688 923.6C687.5 925.9 686.6 927.9 685.3 929C683.9 930.1 681.7 930.6 679.9 930.4C678.1 930.1 675.9 929.2 674.5 927.7C673.2 926.1 672.2 923.2 671.8 920.9C671.5 918.7 672.7 916.5 672.5 914.2C672.3 912 671.1 909.7 670.5 907.5C669.8 905.3 668.6 903.2 668.5 900.8C668.3 898.3 669 894.9 669.8 892.7C670.6 890.5 671.7 888.4 673.2 887.3Z" fill="#4E30D6"/>
<path d="M609.9 907.5L612.6 906.1L616.7 911.5L622 916.9L627.4 922.3L631.5 926.3L639.5 929L647.6 934.4L651.6 939.8L653 945.2L657 950.5L663.7 958.6L669.1 965.3L674.5 972.1L678.5 978.8L679.9 984.2L675.9 990.9L671.8 989.6L669.1 986.2L665.1 979.5L659.7 974.1L651.6 967.4L643.6 961L635.2 954.6L627.2 947.9L620.4 942.2L615.3 936.4L611.5 929L609.9 920.9L608.6 914.2Z" fill="#4E30D6"/>
<path d="M589.8 890L596.5 888.7L601.9 889.3L599.2 892.7L595.1 895.4L592.4 896.7Z" fill="#4E30D6"/>
<path d="M593.1 901.4L597.8 900.8L599.2 908.8L599.2 915.6L595.1 914.2L593.8 907.5Z" fill="#4E30D6"/>
<path d="M599.2 923.6L601.9 923.6L604.6 929L601.9 929.7Z" fill="#4E30D6"/>
<path d="M614 907.5C614.9 909.3 617.1 914.9 619.3 918.3C621.6 921.6 624.3 925 627.4 927.7C630.6 930.4 634.4 932.4 638.2 934.4C642 936.4 648.3 938.9 650.3 939.8" fill="none" stroke="#000" stroke-opacity="0.22" stroke-width="10" stroke-linecap="round" style="filter:blur(6px)"/>
<path d="M615.3 942.5C618.2 944 626.5 949 632.8 951.9C639.1 954.8 646.3 957.9 653 960C659.7 962 669.8 963.3 673.2 964" fill="none" stroke="#fff" stroke-opacity="0.1" stroke-width="18" stroke-linecap="round" style="filter:blur(6px)"/>
<rect x="518.1" y="847" width="235.8" height="161.4" fill="url(#shd)"/>
<path d="M520.1 946.5C520.2 944.4 520.9 941.3 521.8 938.4C522.8 935.5 524.2 932.4 525.9 929C527.5 925.7 529.8 921.8 531.9 918.3C534 914.7 536.2 911.3 538.6 907.5C541.1 903.7 544 899.2 546.7 895.4C549.4 891.6 552.1 888 554.8 884.6C557.5 881.3 559.9 878.2 562.8 875.2C565.8 872.2 569.1 869.2 572.3 866.5C575.4 863.8 578.3 861.2 581.7 859.1C585 856.9 588.9 855.1 592.4 853.7C596 852.2 599.6 851.1 603.2 850.3C606.8 849.5 610.2 849.2 614 849C617.8 848.7 622 848.7 626.1 849C630.1 849.2 634.1 849.8 638.2 850.3C642.2 850.9 646.3 851.4 650.3 852.3C654.3 853.2 658.4 854.5 662.4 855.7C666.4 856.9 670.5 858.2 674.5 859.7C678.5 861.3 682.6 863.2 686.6 865.1C690.7 867 694.9 869 698.7 871.2C702.5 873.3 705.9 875.3 709.5 877.9C713.1 880.5 716.9 883.6 720.2 886.6C723.6 889.7 726.7 892.8 729.7 896.1C732.6 899.3 735.3 902.7 737.7 906.1C740.2 909.6 742.6 913.3 744.5 916.9C746.4 920.5 747.9 924.1 749.2 927.7C750.4 931.3 751.4 934.8 751.9 938.4C752.3 942 752.3 945.8 751.9 949.2C751.4 952.6 750.4 955.7 749.2 958.6C747.9 961.5 746.4 964.2 744.5 966.7C742.6 969.2 740.4 971.5 737.7 973.4C735 975.3 731.7 977 728.3 978.1C725 979.2 721.1 979.7 717.6 980.1C714 980.6 710.4 980.7 706.8 980.8C703.2 980.9 699.4 980.6 696 980.8C692.7 981 689.3 981.3 686.6 982.2C683.9 983.1 681.7 984.5 679.9 986.2C678.1 987.9 677.2 990.1 675.9 992.2C674.5 994.4 673.4 997 671.8 999C670.2 1001 668.7 1003.1 666.4 1004.4C664.2 1005.6 661.5 1006.3 658.4 1006.4C655.2 1006.5 651.6 1006 647.6 1005C643.6 1004 638.9 1002.1 634.1 1000.3C629.4 998.5 624.3 996.3 619.3 994.3C614.4 992.2 609.7 990.1 604.6 988.2C599.4 986.3 593.8 984.5 588.4 982.8C583 981.1 577.6 979.7 572.3 978.1C566.9 976.6 561.1 975.1 556.1 973.4C551.2 971.7 546.7 969.9 542.7 968C538.6 966.1 534.9 964 531.9 962C528.9 960 526.3 957.7 524.5 955.9C522.7 954.1 521.6 952.8 520.9 951.2C520.1 949.6 519.9 948.6 520.1 946.5Z" fill="none" stroke="#000" stroke-opacity="0.22" stroke-width="3" style="filter:blur(1.2px)"/>
</g>
<g>
<rect x="1049.5" y="103.7" width="950.7" height="446" fill="#fff" stroke="#6e6e6e" stroke-width="1.1"/>
<path d="M1087.6 549.7v-9.4M1087.6 103.7v9.4M1166.96 549.7v-9.4M1166.96 103.7v9.4M1246.32 549.7v-9.4M1246.32 103.7v9.4M1325.68 549.7v-9.4M1325.68 103.7v9.4M1405.04 549.7v-9.4M1405.04 103.7v9.4M1484.4 549.7v-9.4M1484.4 103.7v9.4M1563.76 549.7v-9.4M1563.76 103.7v9.4M1643.12 549.7v-9.4M1643.12 103.7v9.4M1722.48 549.7v-9.4M1722.48 103.7v9.4M1801.84 549.7v-9.4M1801.84 103.7v9.4M1881.2 549.7v-9.4M1881.2 103.7v9.4M1960.56 549.7v-9.4M1960.56 103.7v9.4M1049.5 148.3h9.6M2000.2 148.3h-9.6M1049.5 192.9h9.6M2000.2 192.9h-9.6M1049.5 237.5h9.6M2000.2 237.5h-9.6M1049.5 282.1h9.6M2000.2 282.1h-9.6M1049.5 326.7h9.6M2000.2 326.7h-9.6M1049.5 371.3h9.6M2000.2 371.3h-9.6M1049.5 415.9h9.6M2000.2 415.9h-9.6M1049.5 460.5h9.6M2000.2 460.5h-9.6M1049.5 505.1h9.6M2000.2 505.1h-9.6" stroke="#6e6e6e" stroke-width="1.1" fill="none"/>
<g font-family="'Liberation Sans', Arial, Helvetica, sans-serif" font-size="27" fill="#1c1c1c" stroke="#1c1c1c" stroke-width="0.45" text-anchor="end">
<text x="1041.3" y="114">0.5</text>
<text x="1041.3" y="158.6">0.4</text>
<text x="1041.3" y="203.2">0.3</text>
<text x="1041.3" y="247.8">0.2</text>
<text x="1041.3" y="292.4">0.1</text>
<text x="1041.3" y="337">0</text>
<text x="1041.3" y="381.6">-0.1</text>
<text x="1041.3" y="426.2">-0.2</text>
<text x="1041.3" y="470.8">-0.3</text>
<text x="1041.3" y="515.4">-0.4</text>
<text x="1041.3" y="560">-0.5</text>
</g>
<text transform="translate(984.9 326) rotate(-90)" font-family="'Liberation Sans', Arial, Helvetica, sans-serif" font-size="30" fill="#1c1c1c" stroke="#1c1c1c" stroke-width="0.45" text-anchor="middle" textLength="385" lengthAdjust="spacingAndGlyphs">Brain-Behaviour Correlations</text>
<path d="M1049.5 326.7H2000.2" stroke="#555" stroke-width="1"/>
<g stroke="#222" stroke-width="0.8"><rect x="1066.8" y="326.7" width="18.6" height="63.07" fill="#E6E6E6"/><rect x="1089.8" y="326.7" width="18.6" height="43.39" fill="#0F70BF"/><rect x="1146.16" y="325.36" width="18.6" height="1.34" fill="#E6E6E6"/><rect x="1169.16" y="326.7" width="18.6" height="8.95" fill="#0F70BF"/><rect x="1225.52" y="326.7" width="18.6" height="17" fill="#E6E6E6"/><rect x="1248.52" y="252.9" width="18.6" height="73.8" fill="#0F70BF"/><rect x="1304.88" y="326.7" width="18.6" height="29.52" fill="#E6E6E6"/><rect x="1327.88" y="247.08" width="18.6" height="79.62" fill="#0F70BF"/><rect x="1384.24" y="278.39" width="18.6" height="48.31" fill="#E6E6E6"/><rect x="1407.24" y="243.05" width="18.6" height="83.65" fill="#0F70BF"/><rect x="1463.6" y="309.84" width="18.6" height="16.86" fill="#E6E6E6"/><rect x="1486.6" y="317.31" width="18.6" height="9.39" fill="#0F70BF"/><rect x="1542.96" y="326.7" width="18.6" height="1.34" fill="#E6E6E6"/><rect x="1565.96" y="326.7" width="18.6" height="4.03" fill="#0F70BF"/><rect x="1622.32" y="326.7" width="18.6" height="4.03" fill="#E6E6E6"/><rect x="1645.32" y="315.2" width="18.6" height="11.5" fill="#0F70BF"/><rect x="1701.68" y="320.21" width="18.6" height="6.49" fill="#E6E6E6"/><rect x="1724.68" y="326.48" width="18.6" height="0.6" fill="#0F70BF"/><rect x="1781.04" y="309.7" width="18.6" height="17" fill="#E6E6E6"/><rect x="1804.04" y="313.28" width="18.6" height="13.42" fill="#0F70BF"/><rect x="1860.4" y="326.7" width="18.6" height="8.5" fill="#E6E6E6"/><rect x="1883.4" y="326.7" width="18.6" height="10.96" fill="#0F70BF"/><rect x="1939.76" y="323.79" width="18.6" height="2.91" fill="#E6E6E6"/><rect x="1962.76" y="326.7" width="18.6" height="6.71" fill="#0F70BF"/></g>
<g stroke="#1a1a1a" fill="none"><path d="M1076.1 340.12V452.21M1073.5 340.12h5.2M1073.5 452.21h5.2" stroke-width="1.0"/><path d="M1099.1 307.02V449.39M1096.5 307.02h5.2M1096.5 449.39h5.2" stroke-width="1.0"/><path d="M1155.46 286V394.42M1152.86 286h5.2M1152.86 394.42h5.2" stroke-width="1.0"/><path d="M1178.46 259.61V410.17M1175.86 259.61h5.2M1175.86 410.17h5.2" stroke-width="1.0"/><path d="M1234.82 286.89V410.17M1232.22 286.89h5.2M1232.22 410.17h5.2" stroke-width="1.0"/><path d="M1257.82 191.17V309.26M1255.22 191.17h5.2M1255.22 309.26h5.2" stroke-width="1.0"/><path d="M1314.18 305.01V414.15M1311.58 305.01h5.2M1311.58 414.15h5.2" stroke-width="1.0"/><path d="M1337.18 175.51V324.02M1334.58 175.51h5.2M1334.58 324.02h5.2" stroke-width="1.0"/><path d="M1393.54 208.17V336.09M1390.94 208.17h5.2M1390.94 336.09h5.2" stroke-width="1.0"/><path d="M1416.54 166.57V305.68M1413.94 166.57h5.2M1413.94 305.68h5.2" stroke-width="1.0"/><path d="M1472.9 242.61V356.67M1470.3 242.61h5.2M1470.3 356.67h5.2" stroke-width="1.25"/><path d="M1495.9 242.61V418.71M1493.3 242.61h5.2M1493.3 418.71h5.2" stroke-width="1.25"/><path d="M1552.26 316.41V339.22M1549.66 316.41h5.2M1549.66 339.22h5.2" stroke-width="1.25"/><path d="M1575.26 319.86V341.46M1572.66 319.86h5.2M1572.66 341.46h5.2" stroke-width="1.25"/><path d="M1631.62 323.75V339.67M1629.02 323.75h5.2M1629.02 339.67h5.2" stroke-width="1.25"/><path d="M1654.62 305.05V329.38M1652.02 305.05h5.2M1652.02 329.38h5.2" stroke-width="1.25"/><path d="M1710.98 308.36V331.62M1708.38 308.36h5.2M1708.38 331.62h5.2" stroke-width="1.25"/><path d="M1733.98 315.52V337.66M1731.38 315.52h5.2M1731.38 337.66h5.2" stroke-width="1.25"/><path d="M1790.34 298.97V322.23M1787.74 298.97h5.2M1787.74 322.23h5.2" stroke-width="1.25"/><path d="M1813.34 302.77V324.24M1810.74 302.77h5.2M1810.74 324.24h5.2" stroke-width="1.25"/><path d="M1869.7 323.57V346.38M1867.1 323.57h5.2M1867.1 346.38h5.2" stroke-width="1.25"/><path d="M1892.7 326.25V349.29M1890.1 326.25h5.2M1890.1 349.29h5.2" stroke-width="1.25"/><path d="M1949.06 312.39V336.09M1946.46 312.39h5.2M1946.46 336.09h5.2" stroke-width="1.25"/><path d="M1972.06 322V345.04M1969.46 322h5.2M1969.46 345.04h5.2" stroke-width="1.25"/></g>
<rect x="1051.6" y="160.6" width="66.1" height="377.1" fill="none" stroke="#0F70C8" stroke-width="3.3"/>
<rect x="1216.4" y="160.6" width="215" height="377.1" fill="none" stroke="#C00000" stroke-width="3.3"/>
<rect x="1859.2" y="103.7" width="141" height="60.9" fill="#fff" stroke="#6a6a6a" stroke-width="1.1"/>
<rect x="1862" y="113.7" width="20.2" height="12" fill="#E6E6E6" stroke="#222" stroke-width="0.8"/>
<text x="1884.6" y="129.4" font-family="'Liberation Sans', Arial, Helvetica, sans-serif" font-size="24" fill="#000" stroke="#000" stroke-width="0.4" textLength="90" lengthAdjust="spacingAndGlyphs">AD GRS</text>
<rect x="1862" y="143.2" width="20.2" height="12" fill="#0F70BF" stroke="#222" stroke-width="0.8"/>
<text x="1884.6" y="158.9" font-family="'Liberation Sans', Arial, Helvetica, sans-serif" font-size="24" fill="#000" stroke="#000" stroke-width="0.4" textLength="112" lengthAdjust="spacingAndGlyphs">MDD GRS</text>
</g>
<g>
<rect x="1046.7" y="593.8" width="927.9" height="435.8" fill="#fff" stroke="#6e6e6e" stroke-width="1.1"/>
<path d="M1084.3 1029.6v-9.4M1084.3 593.8v9.4M1161.8 1029.6v-9.4M1161.8 593.8v9.4M1239.3 1029.6v-9.4M1239.3 593.8v9.4M1316.8 1029.6v-9.4M1316.8 593.8v9.4M1394.3 1029.6v-9.4M1394.3 593.8v9.4M1471.8 1029.6v-9.4M1471.8 593.8v9.4M1549.3 1029.6v-9.4M1549.3 593.8v9.4M1626.8 1029.6v-9.4M1626.8 593.8v9.4M1704.3 1029.6v-9.4M1704.3 593.8v9.4M1781.8 1029.6v-9.4M1781.8 593.8v9.4M1859.3 1029.6v-9.4M1859.3 593.8v9.4M1936.8 1029.6v-9.4M1936.8 593.8v9.4M1046.7 637.38h9.6M1974.6 637.38h-9.6M1046.7 680.96h9.6M1974.6 680.96h-9.6M1046.7 724.54h9.6M1974.6 724.54h-9.6M1046.7 768.12h9.6M1974.6 768.12h-9.6M1046.7 811.7h9.6M1974.6 811.7h-9.6M1046.7 855.28h9.6M1974.6 855.28h-9.6M1046.7 898.86h9.6M1974.6 898.86h-9.6M1046.7 942.44h9.6M1974.6 942.44h-9.6M1046.7 986.02h9.6M1974.6 986.02h-9.6" stroke="#6e6e6e" stroke-width="1.1" fill="none"/>
<g font-family="'Liberation Sans', Arial, Helvetica, sans-serif" font-size="26.38" fill="#1c1c1c" stroke="#1c1c1c" stroke-width="0.45" text-anchor="end">
<text x="1038.5" y="603.86">0.5</text>
<text x="1038.5" y="647.44">0.4</text>
<text x="1038.5" y="691.02">0.3</text>
<text x="1038.5" y="734.6">0.2</text>
<text x="1038.5" y="778.18">0.1</text>
<text x="1038.5" y="821.76">0</text>
<text x="1038.5" y="865.34">-0.1</text>
<text x="1038.5" y="908.92">-0.2</text>
<text x="1038.5" y="952.5">-0.3</text>
<text x="1038.5" y="996.08">-0.4</text>
<text x="1038.5" y="1039.66">-0.5</text>
</g>
<text transform="translate(983.4 811) rotate(-90)" font-family="'Liberation Sans', Arial, Helvetica, sans-serif" font-size="29.31" fill="#1c1c1c" stroke="#1c1c1c" stroke-width="0.45" text-anchor="middle" textLength="376.14" lengthAdjust="spacingAndGlyphs">Brain-Behaviour Correlations</text>
<path d="M1046.7 811.5H1974.6" stroke="#555" stroke-width="1"/>
<g stroke="#222" stroke-width="0.8"><rect x="1059.55" y="811.5" width="14.5" height="40.9" fill="#F2F2F2"/><rect x="1077.05" y="811.5" width="14.5" height="75.08" fill="#B0B0B0"/><rect x="1094.45" y="811.5" width="14.5" height="41.03" fill="#0F70BF"/><rect x="1137.05" y="809.32" width="14.5" height="2.18" fill="#F2F2F2"/><rect x="1154.55" y="811.5" width="14.5" height="4.19" fill="#B0B0B0"/><rect x="1171.95" y="811.5" width="14.5" height="7.99" fill="#0F70BF"/><rect x="1214.55" y="811.5" width="14.5" height="5.81" fill="#F2F2F2"/><rect x="1232.05" y="811.5" width="14.5" height="37.19" fill="#B0B0B0"/><rect x="1249.45" y="739.17" width="14.5" height="72.33" fill="#0F70BF"/><rect x="1292.05" y="811.5" width="14.5" height="20.95" fill="#F2F2F2"/><rect x="1309.55" y="811.5" width="14.5" height="30.55" fill="#B0B0B0"/><rect x="1326.95" y="736.6" width="14.5" height="74.9" fill="#0F70BF"/><rect x="1369.55" y="763.09" width="14.5" height="48.41" fill="#F2F2F2"/><rect x="1387.05" y="806.7" width="14.5" height="4.8" fill="#B0B0B0"/><rect x="1404.45" y="731.18" width="14.5" height="80.32" fill="#0F70BF"/><rect x="1447.05" y="790.77" width="14.5" height="20.73" fill="#F2F2F2"/><rect x="1464.55" y="811.5" width="14.5" height="12.13" fill="#B0B0B0"/><rect x="1481.95" y="802.25" width="14.5" height="9.25" fill="#0F70BF"/><rect x="1524.55" y="811.5" width="14.5" height="1.96" fill="#F2F2F2"/><rect x="1542.05" y="807" width="14.5" height="4.5" fill="#B0B0B0"/><rect x="1559.45" y="811.5" width="14.5" height="4.8" fill="#0F70BF"/><rect x="1602.05" y="811.5" width="14.5" height="6.9" fill="#F2F2F2"/><rect x="1619.55" y="804.34" width="14.5" height="7.16" fill="#B0B0B0"/><rect x="1636.95" y="800.15" width="14.5" height="11.35" fill="#0F70BF"/><rect x="1679.55" y="805.39" width="14.5" height="6.11" fill="#F2F2F2"/><rect x="1697.05" y="810.63" width="14.5" height="0.87" fill="#B0B0B0"/><rect x="1714.45" y="811.28" width="14.5" height="0.6" fill="#0F70BF"/><rect x="1757.05" y="796.35" width="14.5" height="15.15" fill="#F2F2F2"/><rect x="1774.55" y="806.26" width="14.5" height="5.24" fill="#B0B0B0"/><rect x="1791.95" y="798.19" width="14.5" height="13.31" fill="#0F70BF"/><rect x="1834.55" y="811.5" width="14.5" height="7.6" fill="#F2F2F2"/><rect x="1852.05" y="811.5" width="14.5" height="4.19" fill="#B0B0B0"/><rect x="1869.45" y="811.5" width="14.5" height="10.87" fill="#0F70BF"/><rect x="1912.05" y="810.63" width="14.5" height="0.87" fill="#F2F2F2"/><rect x="1929.55" y="807.57" width="14.5" height="3.93" fill="#B0B0B0"/><rect x="1946.95" y="811.5" width="14.5" height="6.9" fill="#0F70BF"/></g>
<g stroke="#1a1a1a" fill="none"><path d="M1066.8 790.81V909.1M1064.2 790.81h5.2M1064.2 909.1h5.2" stroke-width="1.0"/><path d="M1084.3 835.51V949.17M1081.7 835.51h5.2M1081.7 949.17h5.2" stroke-width="1.0"/><path d="M1101.7 786.79V924.86M1099.1 786.79h5.2M1099.1 924.86h5.2" stroke-width="1.0"/><path d="M1144.3 771.08V883M1141.7 771.08h5.2M1141.7 883h5.2" stroke-width="1.0"/><path d="M1161.8 769.47V838M1159.2 769.47h5.2M1159.2 838h5.2" stroke-width="1.0"/><path d="M1179.2 752.57V882.39M1176.6 752.57h5.2M1176.6 882.39h5.2" stroke-width="1.0"/><path d="M1221.8 757.11V879.2M1219.2 757.11h5.2M1219.2 879.2h5.2" stroke-width="1.0"/><path d="M1239.3 783.04V919.1M1236.7 783.04h5.2M1236.7 919.1h5.2" stroke-width="1.0"/><path d="M1256.7 679.68V798.4M1254.1 679.68h5.2M1254.1 798.4h5.2" stroke-width="1.0"/><path d="M1299.3 769.47V895.74M1296.7 769.47h5.2M1296.7 895.74h5.2" stroke-width="1.0"/><path d="M1316.8 788.37V898.97M1314.2 788.37h5.2M1314.2 898.97h5.2" stroke-width="1.0"/><path d="M1334.2 668.42V814.9M1331.6 668.42h5.2M1331.6 814.9h5.2" stroke-width="1.0"/><path d="M1376.8 692.34V818.31M1374.2 692.34h5.2M1374.2 818.31h5.2" stroke-width="1.0"/><path d="M1394.3 751.7V872.61M1391.7 751.7h5.2M1391.7 872.61h5.2" stroke-width="1.0"/><path d="M1411.7 663.09V797.4M1409.1 663.09h5.2M1409.1 797.4h5.2" stroke-width="1.0"/><path d="M1454.3 712.11V843.98M1451.7 712.11h5.2M1451.7 843.98h5.2" stroke-width="1.25"/><path d="M1471.8 770.47V897.05M1469.2 770.47h5.2M1469.2 897.05h5.2" stroke-width="1.25"/><path d="M1489.2 733.93V894.43M1486.6 733.93h5.2M1486.6 894.43h5.2" stroke-width="1.25"/><path d="M1531.8 802.86V824.07M1529.2 802.86h5.2M1529.2 824.07h5.2" stroke-width="1.25"/><path d="M1549.3 796.27V816.91M1546.7 796.27h5.2M1546.7 816.91h5.2" stroke-width="1.25"/><path d="M1566.7 804.21V826.91M1564.1 804.21h5.2M1564.1 826.91h5.2" stroke-width="1.25"/><path d="M1609.3 811.5V824.25M1606.7 811.5h5.2M1606.7 824.25h5.2" stroke-width="1.25"/><path d="M1626.8 794.35V814.21M1624.2 794.35h5.2M1624.2 814.21h5.2" stroke-width="1.25"/><path d="M1644.2 789.67V814.21M1641.6 789.67h5.2M1641.6 814.21h5.2" stroke-width="1.25"/><path d="M1686.8 793.6V817.35M1684.2 793.6h5.2M1684.2 817.35h5.2" stroke-width="1.25"/><path d="M1704.3 799.58V820.8M1701.7 799.58h5.2M1701.7 820.8h5.2" stroke-width="1.25"/><path d="M1721.7 800.89V823.42M1719.1 800.89h5.2M1719.1 823.42h5.2" stroke-width="1.25"/><path d="M1764.3 784.39V807M1761.7 784.39h5.2M1761.7 807h5.2" stroke-width="1.25"/><path d="M1781.8 795.48V817.48M1779.2 795.48h5.2M1779.2 817.48h5.2" stroke-width="1.25"/><path d="M1799.2 788.28V808.79M1796.6 788.28h5.2M1796.6 808.79h5.2" stroke-width="1.25"/><path d="M1841.8 806.79V829.4M1839.2 806.79h5.2M1839.2 829.4h5.2" stroke-width="1.25"/><path d="M1859.3 804.91V826.69M1856.7 804.91h5.2M1856.7 826.69h5.2" stroke-width="1.25"/><path d="M1876.7 811.5V832.1M1874.1 811.5h5.2M1874.1 832.1h5.2" stroke-width="1.25"/><path d="M1919.3 799.71V821.1M1916.7 799.71h5.2M1916.7 821.1h5.2" stroke-width="1.25"/><path d="M1936.8 797.01V818.27M1934.2 797.01h5.2M1934.2 818.27h5.2" stroke-width="1.25"/><path d="M1954.2 807V828.96M1951.6 807h5.2M1951.6 828.96h5.2" stroke-width="1.25"/></g>
<rect x="1051.6" y="627.4" width="66.1" height="376.9" fill="none" stroke="#0F70C8" stroke-width="3.3"/>
<rect x="1210" y="622.6" width="215" height="377.3" fill="none" stroke="#C00000" stroke-width="3.3"/>
<rect x="1754.2" y="590.9" width="222.3" height="88.2" fill="#fff" stroke="#6a6a6a" stroke-width="1.1"/>
<rect x="1756.5" y="600.5" width="20.2" height="12" fill="#F2F2F2" stroke="#222" stroke-width="0.8"/>
<text x="1778.6" y="616.2" font-family="'Liberation Sans', Arial, Helvetica, sans-serif" font-size="23.45" fill="#000" stroke="#000" stroke-width="0.4" textLength="158" lengthAdjust="spacingAndGlyphs">AD APOE GRS</text>
<rect x="1756.5" y="629.5" width="20.2" height="12" fill="#B0B0B0" stroke="#222" stroke-width="0.8"/>
<text x="1778.6" y="645.2" font-family="'Liberation Sans', Arial, Helvetica, sans-serif" font-size="23.45" fill="#000" stroke="#000" stroke-width="0.4" textLength="194" lengthAdjust="spacingAndGlyphs">AD no-APOE GRS</text>
<rect x="1756.5" y="658.2" width="20.2" height="12" fill="#0F70BF" stroke="#222" stroke-width="0.8"/>
<text x="1778.6" y="673.9" font-family="'Liberation Sans', Arial, Helvetica, sans-serif" font-size="23.45" fill="#000" stroke="#000" stroke-width="0.4" textLength="109.6" lengthAdjust="spacingAndGlyphs">MDD GRS</text>
</g>
<g font-family="'Liberation Sans', Arial, Helvetica, sans-serif" font-size="26.5" fill="#1c1c1c" stroke="#1c1c1c" stroke-width="0.45" text-anchor="end">
<text transform="translate(1097.3 1061) rotate(-30) scale(1 1)">Cortical Thickness</text>
<text transform="translate(1174.8 1061) rotate(-30) scale(0.995 1)">Rest BOLD<tspan font-size="21.6" dy="12" dx="0">SV</tspan></text>
<text transform="translate(1252.3 1061) rotate(-30) scale(0.995 1)">SST BOLD<tspan font-size="21.6" dy="12" dx="0">M</tspan><tspan dy="-12" dx="0.5"> Run 1/2 Up</tspan></text>
<text transform="translate(1329.8 1061) rotate(-30) scale(0.995 1)">SST BOLD<tspan font-size="21.6" dy="12" dx="0">SV</tspan><tspan dy="-12" dx="0.5"> Run 1/2 Up</tspan></text>
<text transform="translate(1407.3 1061) rotate(-30) scale(0.995 1)">SST Run 1/2 BOLD<tspan font-size="21.6" dy="12" dx="0">M</tspan></text>
<text transform="translate(1484.8 1061) rotate(-30) scale(0.995 1)">SST Run 1/2 BOLD<tspan font-size="21.6" dy="12" dx="0">SV</tspan></text>
<text transform="translate(1562.3 1061) rotate(-30) scale(1 1)">Cortical Thickness</text>
<text transform="translate(1639.8 1061) rotate(-30) scale(0.995 1)">Rest BOLD<tspan font-size="21.6" dy="12" dx="0">SV</tspan></text>
<text transform="translate(1717.3 1061) rotate(-30) scale(0.995 1)">SST BOLD<tspan font-size="21.6" dy="12" dx="0">M</tspan><tspan dy="-12" dx="0.5"> Run 1/2 Up</tspan></text>
<text transform="translate(1794.8 1061) rotate(-30) scale(0.995 1)">SST BOLD<tspan font-size="21.6" dy="12" dx="0">SV</tspan><tspan dy="-12" dx="0.5"> Run 1/2 Up</tspan></text>
<text transform="translate(1872.3 1061) rotate(-30) scale(0.995 1)">SST Run 1/2 BOLD<tspan font-size="21.6" dy="12" dx="0">M</tspan></text>
<text transform="translate(1949.8 1061) rotate(-30) scale(0.995 1)">SST Run 1/2 BOLD<tspan font-size="21.6" dy="12" dx="0">SV</tspan></text>
</g>
</svg></body></html>
